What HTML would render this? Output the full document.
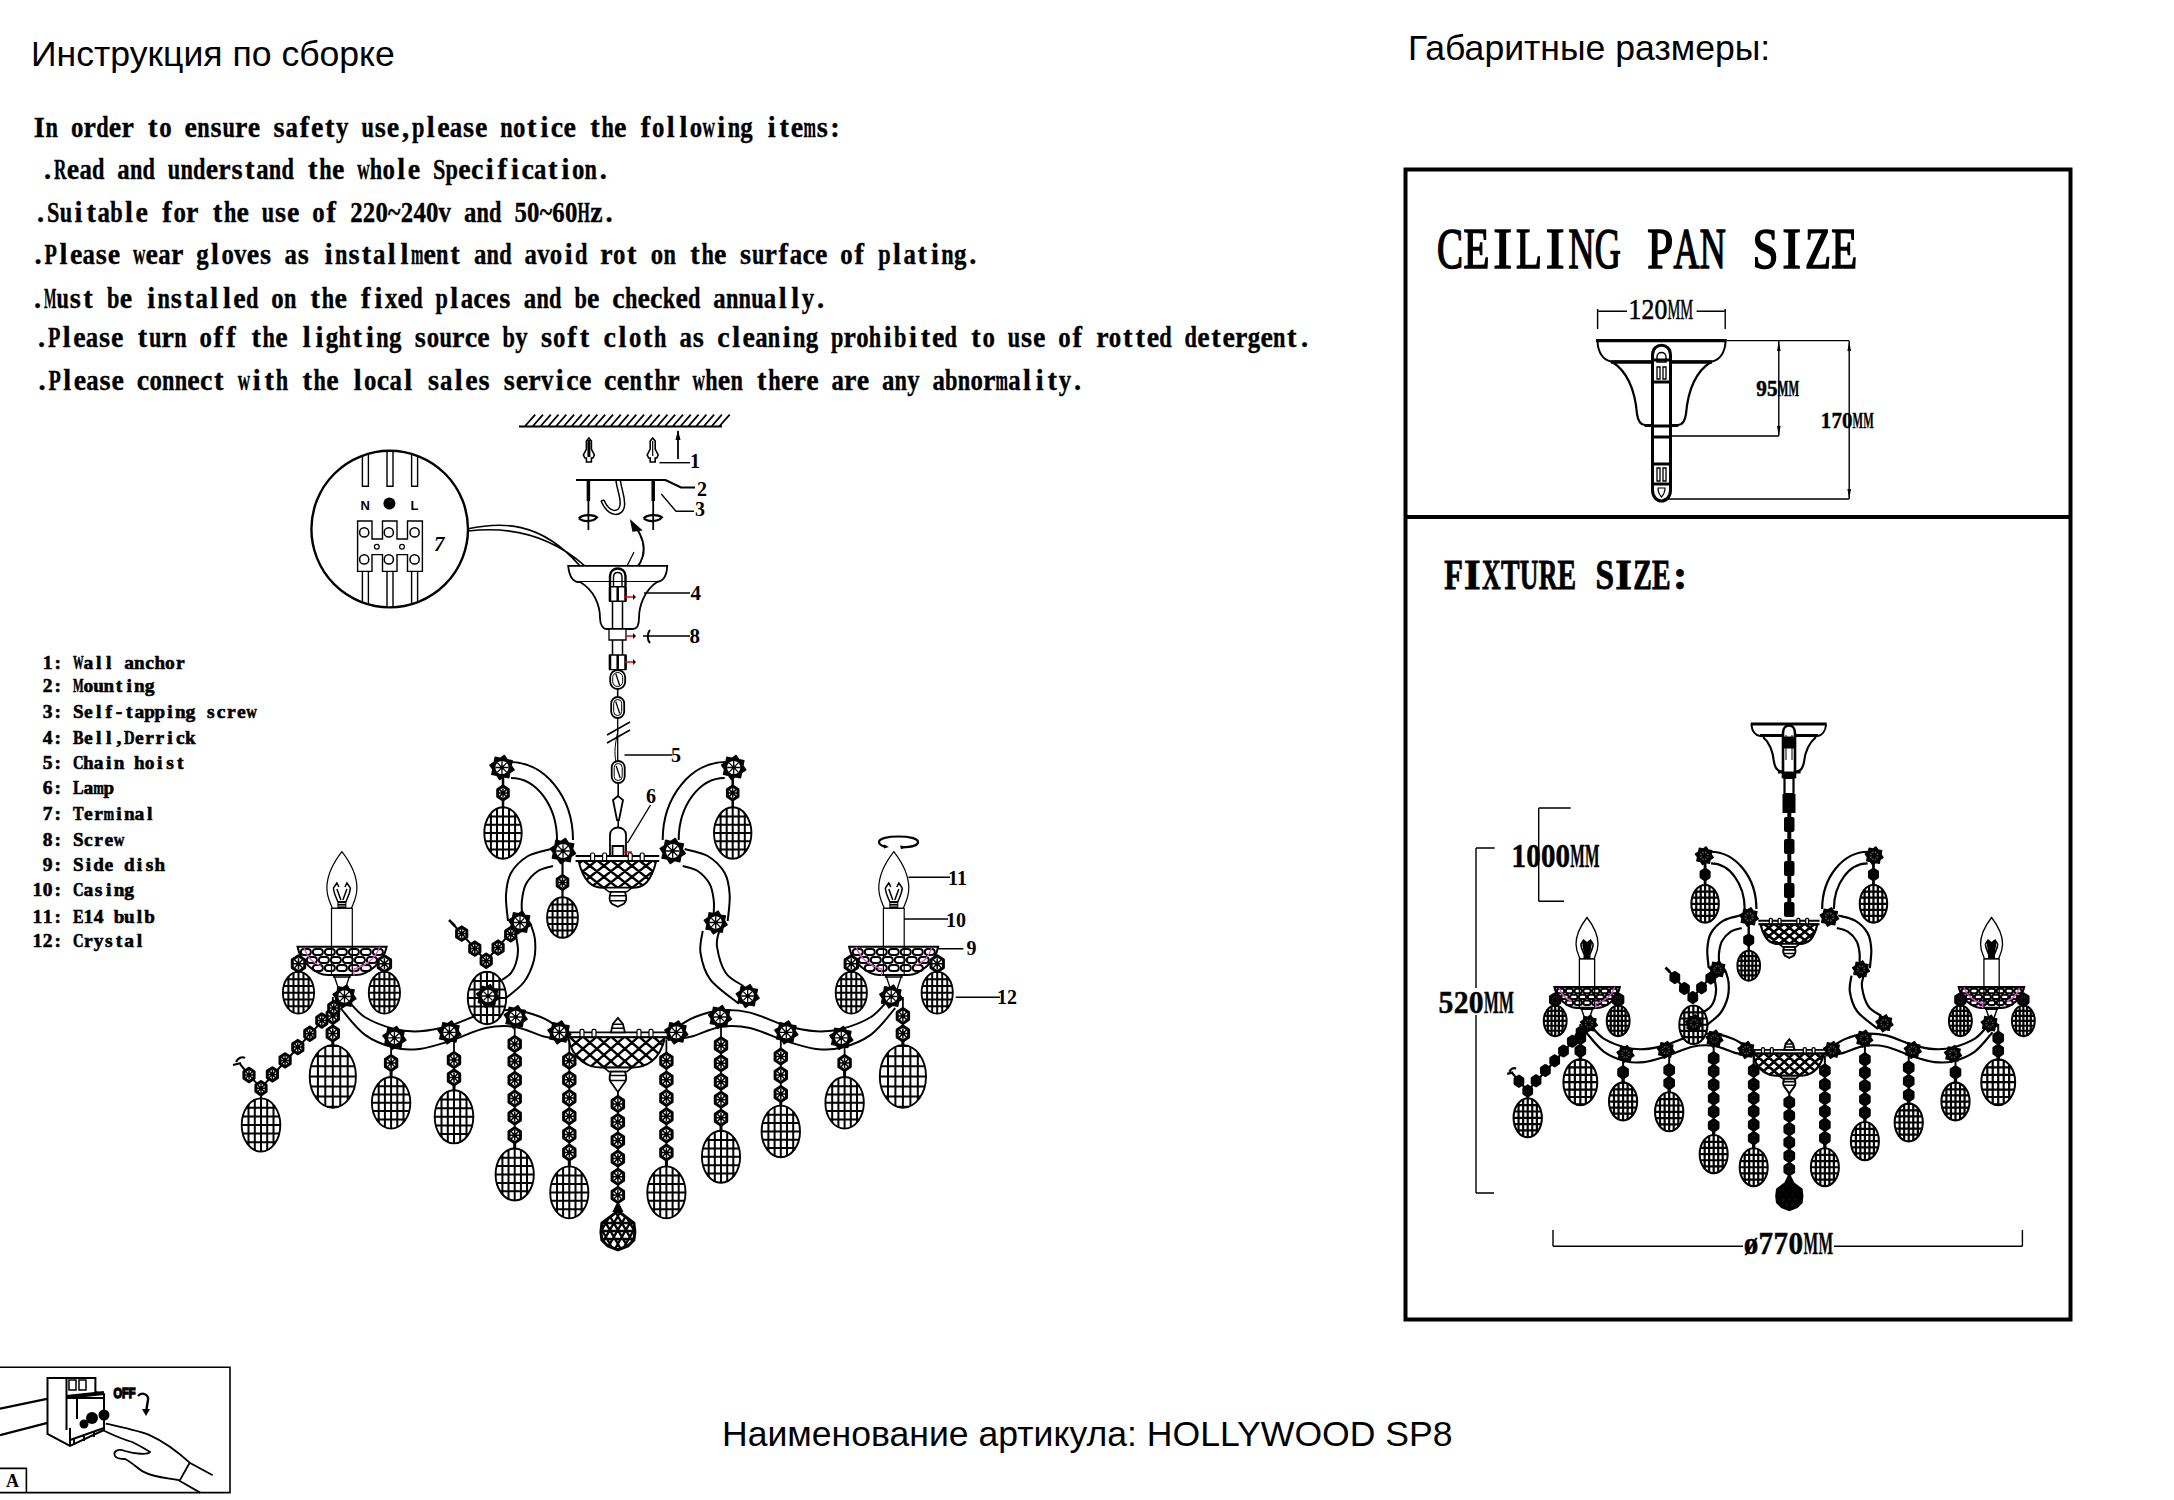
<!DOCTYPE html><html><head><meta charset="utf-8"><style>
html,body{margin:0;padding:0;background:#fff;}
body{width:2174px;height:1500px;position:relative;overflow:hidden;font-family:"Liberation Sans",sans-serif;color:#000;}
.t{position:absolute;white-space:pre;line-height:1;}
.ru{font-family:"Liberation Sans",sans-serif;font-size:35.6px;}
.en{font-family:"Liberation Mono",monospace;font-weight:bold;font-size:28.8px;transform-origin:0 0;transform:scaleX(0.7309);}
svg{position:absolute;left:0;top:0;}
</style></head><body>
<div class="t ru" style="left:31px;top:37.3px;">Инструкция по сборке</div>
<div class="t ru" style="left:1408px;top:30.5px;">Габаритные размеры:</div>
<div class="t ru" style="left:722px;top:1416.5px;">Наименование артикула: HOLLYWOOD SP8</div>
<svg width="2174" height="1500" viewBox="0 0 2174 1500"><g font-family="Liberation Serif" font-weight="bold" font-size="28.5" fill="#000" stroke="#000" stroke-width="0.35"><text x="33.7" y="137">I</text><text x="45.6" y="137" textLength="12.4" lengthAdjust="spacingAndGlyphs">n</text><text x="70.9" y="137" textLength="12.4" lengthAdjust="spacingAndGlyphs">o</text><text x="83.5" y="137" textLength="12.4" lengthAdjust="spacingAndGlyphs">r</text><text x="96.2" y="137" textLength="12.4" lengthAdjust="spacingAndGlyphs">d</text><text x="108.8" y="137" textLength="12.4" lengthAdjust="spacingAndGlyphs">e</text><text x="121.4" y="137" textLength="12.4" lengthAdjust="spacingAndGlyphs">r</text><text x="148.1" y="137">t</text><text x="159.3" y="137" textLength="12.4" lengthAdjust="spacingAndGlyphs">o</text><text x="184.6" y="137" textLength="12.4" lengthAdjust="spacingAndGlyphs">e</text><text x="197.2" y="137" textLength="12.4" lengthAdjust="spacingAndGlyphs">n</text><text x="210.5" y="137">s</text><text x="222.5" y="137" textLength="12.4" lengthAdjust="spacingAndGlyphs">u</text><text x="235.1" y="137" textLength="12.4" lengthAdjust="spacingAndGlyphs">r</text><text x="247.7" y="137" textLength="12.4" lengthAdjust="spacingAndGlyphs">e</text><text x="273.6" y="137">s</text><text x="285.6" y="137" textLength="12.4" lengthAdjust="spacingAndGlyphs">a</text><text x="299.7" y="137">f</text><text x="310.9" y="137" textLength="12.4" lengthAdjust="spacingAndGlyphs">e</text><text x="325" y="137">t</text><text x="336.1" y="137" textLength="12.4" lengthAdjust="spacingAndGlyphs">y</text><text x="361.4" y="137" textLength="12.4" lengthAdjust="spacingAndGlyphs">u</text><text x="374.7" y="137">s</text><text x="386.7" y="137" textLength="12.4" lengthAdjust="spacingAndGlyphs">e</text><text x="401.9" y="137">,</text><text x="411.9" y="137" textLength="12.4" lengthAdjust="spacingAndGlyphs">p</text><text x="426.8" y="137">l</text><text x="437.2" y="137" textLength="12.4" lengthAdjust="spacingAndGlyphs">e</text><text x="449.8" y="137" textLength="12.4" lengthAdjust="spacingAndGlyphs">a</text><text x="463.1" y="137">s</text><text x="475.1" y="137" textLength="12.4" lengthAdjust="spacingAndGlyphs">e</text><text x="500.3" y="137" textLength="12.4" lengthAdjust="spacingAndGlyphs">n</text><text x="513" y="137" textLength="12.4" lengthAdjust="spacingAndGlyphs">o</text><text x="527" y="137">t</text><text x="540.5" y="137">i</text><text x="550.8" y="137" textLength="12.4" lengthAdjust="spacingAndGlyphs">c</text><text x="563.5" y="137" textLength="12.4" lengthAdjust="spacingAndGlyphs">e</text><text x="590.2" y="137">t</text><text x="601.4" y="137" textLength="12.4" lengthAdjust="spacingAndGlyphs">h</text><text x="614" y="137" textLength="12.4" lengthAdjust="spacingAndGlyphs">e</text><text x="640.7" y="137">f</text><text x="651.9" y="137" textLength="12.4" lengthAdjust="spacingAndGlyphs">o</text><text x="666.8" y="137">l</text><text x="679.4" y="137">l</text><text x="689.8" y="137" textLength="12.4" lengthAdjust="spacingAndGlyphs">o</text><text x="702.4" y="137" textLength="12.4" lengthAdjust="spacingAndGlyphs">w</text><text x="717.3" y="137">i</text><text x="727.7" y="137" textLength="12.4" lengthAdjust="spacingAndGlyphs">n</text><text x="740.3" y="137" textLength="12.4" lengthAdjust="spacingAndGlyphs">g</text><text x="767.8" y="137">i</text><text x="779.6" y="137">t</text><text x="790.8" y="137" textLength="12.4" lengthAdjust="spacingAndGlyphs">e</text><text x="803.4" y="137" textLength="12.4" lengthAdjust="spacingAndGlyphs">m</text><text x="816.7" y="137">s</text><text x="830.2" y="137">:</text></g><g font-family="Liberation Serif" font-weight="bold" font-size="28.5" fill="#000" stroke="#000" stroke-width="0.35"><text x="44.1" y="179">.</text><text x="54.1" y="179" textLength="12.4" lengthAdjust="spacingAndGlyphs">R</text><text x="66.7" y="179" textLength="12.4" lengthAdjust="spacingAndGlyphs">e</text><text x="79.4" y="179" textLength="12.4" lengthAdjust="spacingAndGlyphs">a</text><text x="92" y="179" textLength="12.4" lengthAdjust="spacingAndGlyphs">d</text><text x="117.2" y="179" textLength="12.4" lengthAdjust="spacingAndGlyphs">a</text><text x="129.9" y="179" textLength="12.4" lengthAdjust="spacingAndGlyphs">n</text><text x="142.5" y="179" textLength="12.4" lengthAdjust="spacingAndGlyphs">d</text><text x="167.8" y="179" textLength="12.4" lengthAdjust="spacingAndGlyphs">u</text><text x="180.4" y="179" textLength="12.4" lengthAdjust="spacingAndGlyphs">n</text><text x="193" y="179" textLength="12.4" lengthAdjust="spacingAndGlyphs">d</text><text x="205.7" y="179" textLength="12.4" lengthAdjust="spacingAndGlyphs">e</text><text x="218.3" y="179" textLength="12.4" lengthAdjust="spacingAndGlyphs">r</text><text x="231.6" y="179">s</text><text x="245" y="179">t</text><text x="256.2" y="179" textLength="12.4" lengthAdjust="spacingAndGlyphs">a</text><text x="268.8" y="179" textLength="12.4" lengthAdjust="spacingAndGlyphs">n</text><text x="281.4" y="179" textLength="12.4" lengthAdjust="spacingAndGlyphs">d</text><text x="308.1" y="179">t</text><text x="319.3" y="179" textLength="12.4" lengthAdjust="spacingAndGlyphs">h</text><text x="332" y="179" textLength="12.4" lengthAdjust="spacingAndGlyphs">e</text><text x="357.2" y="179" textLength="12.4" lengthAdjust="spacingAndGlyphs">w</text><text x="369.8" y="179" textLength="12.4" lengthAdjust="spacingAndGlyphs">h</text><text x="382.5" y="179" textLength="12.4" lengthAdjust="spacingAndGlyphs">o</text><text x="397.3" y="179">l</text><text x="407.7" y="179" textLength="12.4" lengthAdjust="spacingAndGlyphs">e</text><text x="433" y="179" textLength="12.4" lengthAdjust="spacingAndGlyphs">S</text><text x="445.6" y="179" textLength="12.4" lengthAdjust="spacingAndGlyphs">p</text><text x="458.3" y="179" textLength="12.4" lengthAdjust="spacingAndGlyphs">e</text><text x="470.9" y="179" textLength="12.4" lengthAdjust="spacingAndGlyphs">c</text><text x="485.8" y="179">i</text><text x="497.6" y="179">f</text><text x="511" y="179">i</text><text x="521.4" y="179" textLength="12.4" lengthAdjust="spacingAndGlyphs">c</text><text x="534" y="179" textLength="12.4" lengthAdjust="spacingAndGlyphs">a</text><text x="548.1" y="179">t</text><text x="561.5" y="179">i</text><text x="571.9" y="179" textLength="12.4" lengthAdjust="spacingAndGlyphs">o</text><text x="584.6" y="179" textLength="12.4" lengthAdjust="spacingAndGlyphs">n</text><text x="599.8" y="179">.</text></g><g font-family="Liberation Serif" font-weight="bold" font-size="28.5" fill="#000" stroke="#000" stroke-width="0.35"><text x="37.1" y="221.6">.</text><text x="47.1" y="221.6" textLength="12.4" lengthAdjust="spacingAndGlyphs">S</text><text x="59.7" y="221.6" textLength="12.4" lengthAdjust="spacingAndGlyphs">u</text><text x="74.6" y="221.6">i</text><text x="86.4" y="221.6">t</text><text x="97.6" y="221.6" textLength="12.4" lengthAdjust="spacingAndGlyphs">a</text><text x="110.2" y="221.6" textLength="12.4" lengthAdjust="spacingAndGlyphs">b</text><text x="125.1" y="221.6">l</text><text x="135.5" y="221.6" textLength="12.4" lengthAdjust="spacingAndGlyphs">e</text><text x="162.2" y="221.6">f</text><text x="173.4" y="221.6" textLength="12.4" lengthAdjust="spacingAndGlyphs">o</text><text x="186" y="221.6" textLength="12.4" lengthAdjust="spacingAndGlyphs">r</text><text x="212.7" y="221.6">t</text><text x="223.9" y="221.6" textLength="12.4" lengthAdjust="spacingAndGlyphs">h</text><text x="236.5" y="221.6" textLength="12.4" lengthAdjust="spacingAndGlyphs">e</text><text x="261.8" y="221.6" textLength="12.4" lengthAdjust="spacingAndGlyphs">u</text><text x="275.1" y="221.6">s</text><text x="287.1" y="221.6" textLength="12.4" lengthAdjust="spacingAndGlyphs">e</text><text x="312.3" y="221.6" textLength="12.4" lengthAdjust="spacingAndGlyphs">o</text><text x="326.4" y="221.6">f</text><text x="350.2" y="221.6" textLength="12.4" lengthAdjust="spacingAndGlyphs">2</text><text x="362.8" y="221.6" textLength="12.4" lengthAdjust="spacingAndGlyphs">2</text><text x="375.5" y="221.6" textLength="12.4" lengthAdjust="spacingAndGlyphs">0</text><text x="388.1" y="221.6" textLength="12.4" lengthAdjust="spacingAndGlyphs">~</text><text x="400.7" y="221.6" textLength="12.4" lengthAdjust="spacingAndGlyphs">2</text><text x="413.4" y="221.6" textLength="12.4" lengthAdjust="spacingAndGlyphs">4</text><text x="426" y="221.6" textLength="12.4" lengthAdjust="spacingAndGlyphs">0</text><text x="438.6" y="221.6" textLength="12.4" lengthAdjust="spacingAndGlyphs">v</text><text x="463.9" y="221.6" textLength="12.4" lengthAdjust="spacingAndGlyphs">a</text><text x="476.5" y="221.6" textLength="12.4" lengthAdjust="spacingAndGlyphs">n</text><text x="489.1" y="221.6" textLength="12.4" lengthAdjust="spacingAndGlyphs">d</text><text x="514.4" y="221.6" textLength="12.4" lengthAdjust="spacingAndGlyphs">5</text><text x="527" y="221.6" textLength="12.4" lengthAdjust="spacingAndGlyphs">0</text><text x="539.7" y="221.6" textLength="12.4" lengthAdjust="spacingAndGlyphs">~</text><text x="552.3" y="221.6" textLength="12.4" lengthAdjust="spacingAndGlyphs">6</text><text x="564.9" y="221.6" textLength="12.4" lengthAdjust="spacingAndGlyphs">0</text><text x="577.6" y="221.6" textLength="12.4" lengthAdjust="spacingAndGlyphs">H</text><text x="590.2" y="221.6" textLength="12.4" lengthAdjust="spacingAndGlyphs">z</text><text x="605.5" y="221.6">.</text></g><g font-family="Liberation Serif" font-weight="bold" font-size="28.5" fill="#000" stroke="#000" stroke-width="0.35"><text x="34.6" y="264.2">.</text><text x="44.6" y="264.2" textLength="12.4" lengthAdjust="spacingAndGlyphs">P</text><text x="59.5" y="264.2">l</text><text x="69.9" y="264.2" textLength="12.4" lengthAdjust="spacingAndGlyphs">e</text><text x="82.5" y="264.2" textLength="12.4" lengthAdjust="spacingAndGlyphs">a</text><text x="95.8" y="264.2">s</text><text x="107.7" y="264.2" textLength="12.4" lengthAdjust="spacingAndGlyphs">e</text><text x="133" y="264.2" textLength="12.4" lengthAdjust="spacingAndGlyphs">w</text><text x="145.6" y="264.2" textLength="12.4" lengthAdjust="spacingAndGlyphs">e</text><text x="158.3" y="264.2" textLength="12.4" lengthAdjust="spacingAndGlyphs">a</text><text x="170.9" y="264.2" textLength="12.4" lengthAdjust="spacingAndGlyphs">r</text><text x="196.2" y="264.2" textLength="12.4" lengthAdjust="spacingAndGlyphs">g</text><text x="211" y="264.2">l</text><text x="221.4" y="264.2" textLength="12.4" lengthAdjust="spacingAndGlyphs">o</text><text x="234" y="264.2" textLength="12.4" lengthAdjust="spacingAndGlyphs">v</text><text x="246.7" y="264.2" textLength="12.4" lengthAdjust="spacingAndGlyphs">e</text><text x="260" y="264.2">s</text><text x="284.6" y="264.2" textLength="12.4" lengthAdjust="spacingAndGlyphs">a</text><text x="297.8" y="264.2">s</text><text x="324.7" y="264.2">i</text><text x="335.1" y="264.2" textLength="12.4" lengthAdjust="spacingAndGlyphs">n</text><text x="348.4" y="264.2">s</text><text x="361.8" y="264.2">t</text><text x="373" y="264.2" textLength="12.4" lengthAdjust="spacingAndGlyphs">a</text><text x="387.8" y="264.2">l</text><text x="400.5" y="264.2">l</text><text x="410.9" y="264.2" textLength="12.4" lengthAdjust="spacingAndGlyphs">m</text><text x="423.5" y="264.2" textLength="12.4" lengthAdjust="spacingAndGlyphs">e</text><text x="436.1" y="264.2" textLength="12.4" lengthAdjust="spacingAndGlyphs">n</text><text x="450.2" y="264.2">t</text><text x="474" y="264.2" textLength="12.4" lengthAdjust="spacingAndGlyphs">a</text><text x="486.6" y="264.2" textLength="12.4" lengthAdjust="spacingAndGlyphs">n</text><text x="499.3" y="264.2" textLength="12.4" lengthAdjust="spacingAndGlyphs">d</text><text x="524.5" y="264.2" textLength="12.4" lengthAdjust="spacingAndGlyphs">a</text><text x="537.2" y="264.2" textLength="12.4" lengthAdjust="spacingAndGlyphs">v</text><text x="549.8" y="264.2" textLength="12.4" lengthAdjust="spacingAndGlyphs">o</text><text x="564.7" y="264.2">i</text><text x="575.1" y="264.2" textLength="12.4" lengthAdjust="spacingAndGlyphs">d</text><text x="600.3" y="264.2" textLength="12.4" lengthAdjust="spacingAndGlyphs">r</text><text x="612.9" y="264.2" textLength="12.4" lengthAdjust="spacingAndGlyphs">o</text><text x="627" y="264.2">t</text><text x="650.8" y="264.2" textLength="12.4" lengthAdjust="spacingAndGlyphs">o</text><text x="663.5" y="264.2" textLength="12.4" lengthAdjust="spacingAndGlyphs">n</text><text x="690.2" y="264.2">t</text><text x="701.4" y="264.2" textLength="12.4" lengthAdjust="spacingAndGlyphs">h</text><text x="714" y="264.2" textLength="12.4" lengthAdjust="spacingAndGlyphs">e</text><text x="739.9" y="264.2">s</text><text x="751.9" y="264.2" textLength="12.4" lengthAdjust="spacingAndGlyphs">u</text><text x="764.5" y="264.2" textLength="12.4" lengthAdjust="spacingAndGlyphs">r</text><text x="778.6" y="264.2">f</text><text x="789.8" y="264.2" textLength="12.4" lengthAdjust="spacingAndGlyphs">a</text><text x="802.4" y="264.2" textLength="12.4" lengthAdjust="spacingAndGlyphs">c</text><text x="815" y="264.2" textLength="12.4" lengthAdjust="spacingAndGlyphs">e</text><text x="840.3" y="264.2" textLength="12.4" lengthAdjust="spacingAndGlyphs">o</text><text x="854.4" y="264.2">f</text><text x="878.2" y="264.2" textLength="12.4" lengthAdjust="spacingAndGlyphs">p</text><text x="893" y="264.2">l</text><text x="903.4" y="264.2" textLength="12.4" lengthAdjust="spacingAndGlyphs">a</text><text x="917.5" y="264.2">t</text><text x="930.9" y="264.2">i</text><text x="941.3" y="264.2" textLength="12.4" lengthAdjust="spacingAndGlyphs">n</text><text x="954" y="264.2" textLength="12.4" lengthAdjust="spacingAndGlyphs">g</text><text x="969.2" y="264.2">.</text></g><g font-family="Liberation Serif" font-weight="bold" font-size="28.5" fill="#000" stroke="#000" stroke-width="0.35"><text x="33.9" y="308">.</text><text x="43.9" y="308" textLength="12.4" lengthAdjust="spacingAndGlyphs">M</text><text x="56.5" y="308" textLength="12.4" lengthAdjust="spacingAndGlyphs">u</text><text x="69.8" y="308">s</text><text x="83.2" y="308">t</text><text x="107" y="308" textLength="12.4" lengthAdjust="spacingAndGlyphs">b</text><text x="119.7" y="308" textLength="12.4" lengthAdjust="spacingAndGlyphs">e</text><text x="147.2" y="308">i</text><text x="157.6" y="308" textLength="12.4" lengthAdjust="spacingAndGlyphs">n</text><text x="170.8" y="308">s</text><text x="184.3" y="308">t</text><text x="195.5" y="308" textLength="12.4" lengthAdjust="spacingAndGlyphs">a</text><text x="210.3" y="308">l</text><text x="223" y="308">l</text><text x="233.3" y="308" textLength="12.4" lengthAdjust="spacingAndGlyphs">e</text><text x="246" y="308" textLength="12.4" lengthAdjust="spacingAndGlyphs">d</text><text x="271.2" y="308" textLength="12.4" lengthAdjust="spacingAndGlyphs">o</text><text x="283.9" y="308" textLength="12.4" lengthAdjust="spacingAndGlyphs">n</text><text x="310.6" y="308">t</text><text x="321.8" y="308" textLength="12.4" lengthAdjust="spacingAndGlyphs">h</text><text x="334.4" y="308" textLength="12.4" lengthAdjust="spacingAndGlyphs">e</text><text x="361.1" y="308">f</text><text x="374.5" y="308">i</text><text x="384.9" y="308" textLength="12.4" lengthAdjust="spacingAndGlyphs">x</text><text x="397.5" y="308" textLength="12.4" lengthAdjust="spacingAndGlyphs">e</text><text x="410.2" y="308" textLength="12.4" lengthAdjust="spacingAndGlyphs">d</text><text x="435.4" y="308" textLength="12.4" lengthAdjust="spacingAndGlyphs">p</text><text x="450.3" y="308">l</text><text x="460.7" y="308" textLength="12.4" lengthAdjust="spacingAndGlyphs">a</text><text x="473.3" y="308" textLength="12.4" lengthAdjust="spacingAndGlyphs">c</text><text x="485.9" y="308" textLength="12.4" lengthAdjust="spacingAndGlyphs">e</text><text x="499.2" y="308">s</text><text x="523.8" y="308" textLength="12.4" lengthAdjust="spacingAndGlyphs">a</text><text x="536.5" y="308" textLength="12.4" lengthAdjust="spacingAndGlyphs">n</text><text x="549.1" y="308" textLength="12.4" lengthAdjust="spacingAndGlyphs">d</text><text x="574.4" y="308" textLength="12.4" lengthAdjust="spacingAndGlyphs">b</text><text x="587" y="308" textLength="12.4" lengthAdjust="spacingAndGlyphs">e</text><text x="612.2" y="308" textLength="12.4" lengthAdjust="spacingAndGlyphs">c</text><text x="624.9" y="308" textLength="12.4" lengthAdjust="spacingAndGlyphs">h</text><text x="637.5" y="308" textLength="12.4" lengthAdjust="spacingAndGlyphs">e</text><text x="650.1" y="308" textLength="12.4" lengthAdjust="spacingAndGlyphs">c</text><text x="662.8" y="308" textLength="12.4" lengthAdjust="spacingAndGlyphs">k</text><text x="675.4" y="308" textLength="12.4" lengthAdjust="spacingAndGlyphs">e</text><text x="688" y="308" textLength="12.4" lengthAdjust="spacingAndGlyphs">d</text><text x="713.3" y="308" textLength="12.4" lengthAdjust="spacingAndGlyphs">a</text><text x="725.9" y="308" textLength="12.4" lengthAdjust="spacingAndGlyphs">n</text><text x="738.5" y="308" textLength="12.4" lengthAdjust="spacingAndGlyphs">n</text><text x="751.2" y="308" textLength="12.4" lengthAdjust="spacingAndGlyphs">u</text><text x="763.8" y="308" textLength="12.4" lengthAdjust="spacingAndGlyphs">a</text><text x="778.7" y="308">l</text><text x="791.3" y="308">l</text><text x="801.7" y="308" textLength="12.4" lengthAdjust="spacingAndGlyphs">y</text><text x="817" y="308">.</text></g><g font-family="Liberation Serif" font-weight="bold" font-size="28.5" fill="#000" stroke="#000" stroke-width="0.35"><text x="37.9" y="347">.</text><text x="47.9" y="347" textLength="12.4" lengthAdjust="spacingAndGlyphs">P</text><text x="62.8" y="347">l</text><text x="73.2" y="347" textLength="12.4" lengthAdjust="spacingAndGlyphs">e</text><text x="85.8" y="347" textLength="12.4" lengthAdjust="spacingAndGlyphs">a</text><text x="99.1" y="347">s</text><text x="111" y="347" textLength="12.4" lengthAdjust="spacingAndGlyphs">e</text><text x="137.8" y="347">t</text><text x="148.9" y="347" textLength="12.4" lengthAdjust="spacingAndGlyphs">u</text><text x="161.6" y="347" textLength="12.4" lengthAdjust="spacingAndGlyphs">r</text><text x="174.2" y="347" textLength="12.4" lengthAdjust="spacingAndGlyphs">n</text><text x="199.5" y="347" textLength="12.4" lengthAdjust="spacingAndGlyphs">o</text><text x="213.5" y="347">f</text><text x="226.2" y="347">f</text><text x="251.4" y="347">t</text><text x="262.6" y="347" textLength="12.4" lengthAdjust="spacingAndGlyphs">h</text><text x="275.2" y="347" textLength="12.4" lengthAdjust="spacingAndGlyphs">e</text><text x="302.7" y="347">l</text><text x="315.4" y="347">i</text><text x="325.8" y="347" textLength="12.4" lengthAdjust="spacingAndGlyphs">g</text><text x="338.4" y="347" textLength="12.4" lengthAdjust="spacingAndGlyphs">h</text><text x="352.5" y="347">t</text><text x="365.9" y="347">i</text><text x="376.3" y="347" textLength="12.4" lengthAdjust="spacingAndGlyphs">n</text><text x="388.9" y="347" textLength="12.4" lengthAdjust="spacingAndGlyphs">g</text><text x="414.8" y="347">s</text><text x="426.8" y="347" textLength="12.4" lengthAdjust="spacingAndGlyphs">o</text><text x="439.4" y="347" textLength="12.4" lengthAdjust="spacingAndGlyphs">u</text><text x="452.1" y="347" textLength="12.4" lengthAdjust="spacingAndGlyphs">r</text><text x="464.7" y="347" textLength="12.4" lengthAdjust="spacingAndGlyphs">c</text><text x="477.3" y="347" textLength="12.4" lengthAdjust="spacingAndGlyphs">e</text><text x="502.6" y="347" textLength="12.4" lengthAdjust="spacingAndGlyphs">b</text><text x="515.2" y="347" textLength="12.4" lengthAdjust="spacingAndGlyphs">y</text><text x="541.1" y="347">s</text><text x="553.1" y="347" textLength="12.4" lengthAdjust="spacingAndGlyphs">o</text><text x="567.2" y="347">f</text><text x="579.8" y="347">t</text><text x="603.6" y="347" textLength="12.4" lengthAdjust="spacingAndGlyphs">c</text><text x="618.5" y="347">l</text><text x="628.9" y="347" textLength="12.4" lengthAdjust="spacingAndGlyphs">o</text><text x="643" y="347">t</text><text x="654.1" y="347" textLength="12.4" lengthAdjust="spacingAndGlyphs">h</text><text x="679.4" y="347" textLength="12.4" lengthAdjust="spacingAndGlyphs">a</text><text x="692.7" y="347">s</text><text x="717.3" y="347" textLength="12.4" lengthAdjust="spacingAndGlyphs">c</text><text x="732.2" y="347">l</text><text x="742.5" y="347" textLength="12.4" lengthAdjust="spacingAndGlyphs">e</text><text x="755.2" y="347" textLength="12.4" lengthAdjust="spacingAndGlyphs">a</text><text x="767.8" y="347" textLength="12.4" lengthAdjust="spacingAndGlyphs">n</text><text x="782.7" y="347">i</text><text x="793.1" y="347" textLength="12.4" lengthAdjust="spacingAndGlyphs">n</text><text x="805.7" y="347" textLength="12.4" lengthAdjust="spacingAndGlyphs">g</text><text x="831" y="347" textLength="12.4" lengthAdjust="spacingAndGlyphs">p</text><text x="843.6" y="347" textLength="12.4" lengthAdjust="spacingAndGlyphs">r</text><text x="856.2" y="347" textLength="12.4" lengthAdjust="spacingAndGlyphs">o</text><text x="868.8" y="347" textLength="12.4" lengthAdjust="spacingAndGlyphs">h</text><text x="883.7" y="347">i</text><text x="894.1" y="347" textLength="12.4" lengthAdjust="spacingAndGlyphs">b</text><text x="909" y="347">i</text><text x="920.8" y="347">t</text><text x="932" y="347" textLength="12.4" lengthAdjust="spacingAndGlyphs">e</text><text x="944.6" y="347" textLength="12.4" lengthAdjust="spacingAndGlyphs">d</text><text x="971.3" y="347">t</text><text x="982.5" y="347" textLength="12.4" lengthAdjust="spacingAndGlyphs">o</text><text x="1007.8" y="347" textLength="12.4" lengthAdjust="spacingAndGlyphs">u</text><text x="1021.1" y="347">s</text><text x="1033" y="347" textLength="12.4" lengthAdjust="spacingAndGlyphs">e</text><text x="1058.3" y="347" textLength="12.4" lengthAdjust="spacingAndGlyphs">o</text><text x="1072.4" y="347">f</text><text x="1096.2" y="347" textLength="12.4" lengthAdjust="spacingAndGlyphs">r</text><text x="1108.8" y="347" textLength="12.4" lengthAdjust="spacingAndGlyphs">o</text><text x="1122.9" y="347">t</text><text x="1135.5" y="347">t</text><text x="1146.7" y="347" textLength="12.4" lengthAdjust="spacingAndGlyphs">e</text><text x="1159.3" y="347" textLength="12.4" lengthAdjust="spacingAndGlyphs">d</text><text x="1184.6" y="347" textLength="12.4" lengthAdjust="spacingAndGlyphs">d</text><text x="1197.2" y="347" textLength="12.4" lengthAdjust="spacingAndGlyphs">e</text><text x="1211.3" y="347">t</text><text x="1222.5" y="347" textLength="12.4" lengthAdjust="spacingAndGlyphs">e</text><text x="1235.1" y="347" textLength="12.4" lengthAdjust="spacingAndGlyphs">r</text><text x="1247.7" y="347" textLength="12.4" lengthAdjust="spacingAndGlyphs">g</text><text x="1260.4" y="347" textLength="12.4" lengthAdjust="spacingAndGlyphs">e</text><text x="1273" y="347" textLength="12.4" lengthAdjust="spacingAndGlyphs">n</text><text x="1287.1" y="347">t</text><text x="1300.9" y="347">.</text></g><g font-family="Liberation Serif" font-weight="bold" font-size="28.5" fill="#000" stroke="#000" stroke-width="0.35"><text x="38.4" y="390">.</text><text x="48.4" y="390" textLength="12.4" lengthAdjust="spacingAndGlyphs">P</text><text x="63.3" y="390">l</text><text x="73.7" y="390" textLength="12.4" lengthAdjust="spacingAndGlyphs">e</text><text x="86.3" y="390" textLength="12.4" lengthAdjust="spacingAndGlyphs">a</text><text x="99.6" y="390">s</text><text x="111.5" y="390" textLength="12.4" lengthAdjust="spacingAndGlyphs">e</text><text x="136.8" y="390" textLength="12.4" lengthAdjust="spacingAndGlyphs">c</text><text x="149.4" y="390" textLength="12.4" lengthAdjust="spacingAndGlyphs">o</text><text x="162.1" y="390" textLength="12.4" lengthAdjust="spacingAndGlyphs">n</text><text x="174.7" y="390" textLength="12.4" lengthAdjust="spacingAndGlyphs">n</text><text x="187.3" y="390" textLength="12.4" lengthAdjust="spacingAndGlyphs">e</text><text x="200" y="390" textLength="12.4" lengthAdjust="spacingAndGlyphs">c</text><text x="214" y="390">t</text><text x="237.8" y="390" textLength="12.4" lengthAdjust="spacingAndGlyphs">w</text><text x="252.7" y="390">i</text><text x="264.6" y="390">t</text><text x="275.7" y="390" textLength="12.4" lengthAdjust="spacingAndGlyphs">h</text><text x="302.4" y="390">t</text><text x="313.6" y="390" textLength="12.4" lengthAdjust="spacingAndGlyphs">h</text><text x="326.3" y="390" textLength="12.4" lengthAdjust="spacingAndGlyphs">e</text><text x="353.8" y="390">l</text><text x="364.1" y="390" textLength="12.4" lengthAdjust="spacingAndGlyphs">o</text><text x="376.8" y="390" textLength="12.4" lengthAdjust="spacingAndGlyphs">c</text><text x="389.4" y="390" textLength="12.4" lengthAdjust="spacingAndGlyphs">a</text><text x="404.3" y="390">l</text><text x="427.9" y="390">s</text><text x="439.9" y="390" textLength="12.4" lengthAdjust="spacingAndGlyphs">a</text><text x="454.8" y="390">l</text><text x="465.2" y="390" textLength="12.4" lengthAdjust="spacingAndGlyphs">e</text><text x="478.5" y="390">s</text><text x="503.7" y="390">s</text><text x="515.7" y="390" textLength="12.4" lengthAdjust="spacingAndGlyphs">e</text><text x="528.3" y="390" textLength="12.4" lengthAdjust="spacingAndGlyphs">r</text><text x="541" y="390" textLength="12.4" lengthAdjust="spacingAndGlyphs">v</text><text x="555.8" y="390">i</text><text x="566.2" y="390" textLength="12.4" lengthAdjust="spacingAndGlyphs">c</text><text x="578.9" y="390" textLength="12.4" lengthAdjust="spacingAndGlyphs">e</text><text x="604.1" y="390" textLength="12.4" lengthAdjust="spacingAndGlyphs">c</text><text x="616.7" y="390" textLength="12.4" lengthAdjust="spacingAndGlyphs">e</text><text x="629.4" y="390" textLength="12.4" lengthAdjust="spacingAndGlyphs">n</text><text x="643.5" y="390">t</text><text x="654.6" y="390" textLength="12.4" lengthAdjust="spacingAndGlyphs">h</text><text x="667.3" y="390" textLength="12.4" lengthAdjust="spacingAndGlyphs">r</text><text x="692.5" y="390" textLength="12.4" lengthAdjust="spacingAndGlyphs">w</text><text x="705.2" y="390" textLength="12.4" lengthAdjust="spacingAndGlyphs">h</text><text x="717.8" y="390" textLength="12.4" lengthAdjust="spacingAndGlyphs">e</text><text x="730.4" y="390" textLength="12.4" lengthAdjust="spacingAndGlyphs">n</text><text x="757.1" y="390">t</text><text x="768.3" y="390" textLength="12.4" lengthAdjust="spacingAndGlyphs">h</text><text x="780.9" y="390" textLength="12.4" lengthAdjust="spacingAndGlyphs">e</text><text x="793.6" y="390" textLength="12.4" lengthAdjust="spacingAndGlyphs">r</text><text x="806.2" y="390" textLength="12.4" lengthAdjust="spacingAndGlyphs">e</text><text x="831.5" y="390" textLength="12.4" lengthAdjust="spacingAndGlyphs">a</text><text x="844.1" y="390" textLength="12.4" lengthAdjust="spacingAndGlyphs">r</text><text x="856.7" y="390" textLength="12.4" lengthAdjust="spacingAndGlyphs">e</text><text x="882" y="390" textLength="12.4" lengthAdjust="spacingAndGlyphs">a</text><text x="894.6" y="390" textLength="12.4" lengthAdjust="spacingAndGlyphs">n</text><text x="907.2" y="390" textLength="12.4" lengthAdjust="spacingAndGlyphs">y</text><text x="932.5" y="390" textLength="12.4" lengthAdjust="spacingAndGlyphs">a</text><text x="945.1" y="390" textLength="12.4" lengthAdjust="spacingAndGlyphs">b</text><text x="957.8" y="390" textLength="12.4" lengthAdjust="spacingAndGlyphs">n</text><text x="970.4" y="390" textLength="12.4" lengthAdjust="spacingAndGlyphs">o</text><text x="983" y="390" textLength="12.4" lengthAdjust="spacingAndGlyphs">r</text><text x="995.6" y="390" textLength="12.4" lengthAdjust="spacingAndGlyphs">m</text><text x="1008.3" y="390" textLength="12.4" lengthAdjust="spacingAndGlyphs">a</text><text x="1023.1" y="390">l</text><text x="1035.8" y="390">i</text><text x="1047.6" y="390">t</text><text x="1058.8" y="390" textLength="12.4" lengthAdjust="spacingAndGlyphs">y</text><text x="1074.1" y="390">.</text></g><g font-family="Liberation Serif" font-weight="bold" font-size="19.5" fill="#000" stroke="#000" stroke-width="0.6"><text x="42.7" y="668.8">1</text><text x="54.6" y="668.8">:</text><text x="72.9" y="668.8" textLength="10.6" lengthAdjust="spacingAndGlyphs">W</text><text x="83.5" y="668.8">a</text><text x="95.9" y="668.8">l</text><text x="106.1" y="668.8">l</text><text x="124.3" y="668.8">a</text><text x="134.1" y="668.8" textLength="10.6" lengthAdjust="spacingAndGlyphs">n</text><text x="145.3" y="668.8">c</text><text x="154.5" y="668.8" textLength="10.6" lengthAdjust="spacingAndGlyphs">h</text><text x="165.1" y="668.8">o</text><text x="175.9" y="668.8">r</text></g><g font-family="Liberation Serif" font-weight="bold" font-size="19.5" fill="#000" stroke="#000" stroke-width="0.6"><text x="42.7" y="692.3">2</text><text x="54.6" y="692.3">:</text><text x="72.9" y="692.3" textLength="10.6" lengthAdjust="spacingAndGlyphs">M</text><text x="83.5" y="692.3">o</text><text x="93.3" y="692.3" textLength="10.6" lengthAdjust="spacingAndGlyphs">u</text><text x="103.5" y="692.3" textLength="10.6" lengthAdjust="spacingAndGlyphs">n</text><text x="115.8" y="692.3">t</text><text x="126.5" y="692.3">i</text><text x="134.1" y="692.3" textLength="10.6" lengthAdjust="spacingAndGlyphs">n</text><text x="144.7" y="692.3">g</text></g><g font-family="Liberation Serif" font-weight="bold" font-size="19.5" fill="#000" stroke="#000" stroke-width="0.6"><text x="42.7" y="717.9">3</text><text x="54.6" y="717.9">:</text><text x="72.9" y="717.9" textLength="10.6" lengthAdjust="spacingAndGlyphs">S</text><text x="84.1" y="717.9">e</text><text x="95.9" y="717.9">l</text><text x="105.6" y="717.9">f</text><text x="115.8" y="717.9">-</text><text x="126" y="717.9">t</text><text x="134.5" y="717.9">a</text><text x="144.3" y="717.9" textLength="10.6" lengthAdjust="spacingAndGlyphs">p</text><text x="154.5" y="717.9" textLength="10.6" lengthAdjust="spacingAndGlyphs">p</text><text x="167.3" y="717.9">i</text><text x="174.9" y="717.9" textLength="10.6" lengthAdjust="spacingAndGlyphs">n</text><text x="185.5" y="717.9">g</text><text x="207" y="717.9">s</text><text x="216.7" y="717.9">c</text><text x="226.9" y="717.9">r</text><text x="237.1" y="717.9">e</text><text x="246.3" y="717.9" textLength="10.6" lengthAdjust="spacingAndGlyphs">w</text></g><g font-family="Liberation Serif" font-weight="bold" font-size="19.5" fill="#000" stroke="#000" stroke-width="0.6"><text x="42.7" y="743.5">4</text><text x="54.6" y="743.5">:</text><text x="72.9" y="743.5" textLength="10.6" lengthAdjust="spacingAndGlyphs">B</text><text x="84.1" y="743.5">e</text><text x="95.9" y="743.5">l</text><text x="106.1" y="743.5">l</text><text x="116.6" y="743.5">,</text><text x="123.9" y="743.5" textLength="10.6" lengthAdjust="spacingAndGlyphs">D</text><text x="135.1" y="743.5">e</text><text x="145.3" y="743.5">r</text><text x="155.5" y="743.5">r</text><text x="167.3" y="743.5">i</text><text x="175.9" y="743.5">c</text><text x="185.1" y="743.5" textLength="10.6" lengthAdjust="spacingAndGlyphs">k</text></g><g font-family="Liberation Serif" font-weight="bold" font-size="19.5" fill="#000" stroke="#000" stroke-width="0.6"><text x="42.7" y="769">5</text><text x="54.6" y="769">:</text><text x="72.9" y="769" textLength="10.6" lengthAdjust="spacingAndGlyphs">C</text><text x="83.1" y="769" textLength="10.6" lengthAdjust="spacingAndGlyphs">h</text><text x="93.7" y="769">a</text><text x="106.1" y="769">i</text><text x="113.7" y="769" textLength="10.6" lengthAdjust="spacingAndGlyphs">n</text><text x="134.1" y="769" textLength="10.6" lengthAdjust="spacingAndGlyphs">h</text><text x="144.7" y="769">o</text><text x="157.1" y="769">i</text><text x="166.2" y="769">s</text><text x="177" y="769">t</text></g><g font-family="Liberation Serif" font-weight="bold" font-size="19.5" fill="#000" stroke="#000" stroke-width="0.6"><text x="42.7" y="793.6">6</text><text x="54.6" y="793.6">:</text><text x="72.9" y="793.6" textLength="10.6" lengthAdjust="spacingAndGlyphs">L</text><text x="83.5" y="793.6">a</text><text x="93.3" y="793.6" textLength="10.6" lengthAdjust="spacingAndGlyphs">m</text><text x="103.5" y="793.6" textLength="10.6" lengthAdjust="spacingAndGlyphs">p</text></g><g font-family="Liberation Serif" font-weight="bold" font-size="19.5" fill="#000" stroke="#000" stroke-width="0.6"><text x="42.7" y="820">7</text><text x="54.6" y="820">:</text><text x="72.9" y="820" textLength="10.6" lengthAdjust="spacingAndGlyphs">T</text><text x="84.1" y="820">e</text><text x="94.3" y="820">r</text><text x="103.5" y="820" textLength="10.6" lengthAdjust="spacingAndGlyphs">m</text><text x="116.3" y="820">i</text><text x="123.9" y="820" textLength="10.6" lengthAdjust="spacingAndGlyphs">n</text><text x="134.5" y="820">a</text><text x="146.9" y="820">l</text></g><g font-family="Liberation Serif" font-weight="bold" font-size="19.5" fill="#000" stroke="#000" stroke-width="0.6"><text x="42.7" y="845.8">8</text><text x="54.6" y="845.8">:</text><text x="72.9" y="845.8" textLength="10.6" lengthAdjust="spacingAndGlyphs">S</text><text x="84.1" y="845.8">c</text><text x="94.3" y="845.8">r</text><text x="104.5" y="845.8">e</text><text x="113.7" y="845.8" textLength="10.6" lengthAdjust="spacingAndGlyphs">w</text></g><g font-family="Liberation Serif" font-weight="bold" font-size="19.5" fill="#000" stroke="#000" stroke-width="0.6"><text x="42.7" y="871.4">9</text><text x="54.6" y="871.4">:</text><text x="72.9" y="871.4" textLength="10.6" lengthAdjust="spacingAndGlyphs">S</text><text x="85.7" y="871.4">i</text><text x="93.3" y="871.4" textLength="10.6" lengthAdjust="spacingAndGlyphs">d</text><text x="104.5" y="871.4">e</text><text x="123.9" y="871.4" textLength="10.6" lengthAdjust="spacingAndGlyphs">d</text><text x="136.7" y="871.4">i</text><text x="145.8" y="871.4">s</text><text x="154.5" y="871.4" textLength="10.6" lengthAdjust="spacingAndGlyphs">h</text></g><g font-family="Liberation Serif" font-weight="bold" font-size="19.5" fill="#000" stroke="#000" stroke-width="0.6"><text x="32.5" y="896">1</text><text x="42.7" y="896">0</text><text x="54.6" y="896">:</text><text x="72.9" y="896" textLength="10.6" lengthAdjust="spacingAndGlyphs">C</text><text x="83.5" y="896">a</text><text x="94.8" y="896">s</text><text x="106.1" y="896">i</text><text x="113.7" y="896" textLength="10.6" lengthAdjust="spacingAndGlyphs">n</text><text x="124.3" y="896">g</text></g><g font-family="Liberation Serif" font-weight="bold" font-size="19.5" fill="#000" stroke="#000" stroke-width="0.6"><text x="32.5" y="922.6">1</text><text x="42.7" y="922.6">1</text><text x="54.6" y="922.6">:</text><text x="72.9" y="922.6" textLength="10.6" lengthAdjust="spacingAndGlyphs">E</text><text x="83.5" y="922.6">1</text><text x="93.7" y="922.6">4</text><text x="113.7" y="922.6" textLength="10.6" lengthAdjust="spacingAndGlyphs">b</text><text x="123.9" y="922.6" textLength="10.6" lengthAdjust="spacingAndGlyphs">u</text><text x="136.7" y="922.6">l</text><text x="144.3" y="922.6" textLength="10.6" lengthAdjust="spacingAndGlyphs">b</text></g><g font-family="Liberation Serif" font-weight="bold" font-size="19.5" fill="#000" stroke="#000" stroke-width="0.6"><text x="32.5" y="947">1</text><text x="42.7" y="947">2</text><text x="54.6" y="947">:</text><text x="72.9" y="947" textLength="10.6" lengthAdjust="spacingAndGlyphs">C</text><text x="84.1" y="947">r</text><text x="93.7" y="947">y</text><text x="105" y="947">s</text><text x="115.8" y="947">t</text><text x="124.3" y="947">a</text><text x="136.7" y="947">l</text></g><rect x="1405.5" y="169.5" width="665" height="1150" fill="none" stroke="#000" stroke-width="4"/><line x1="1405" y1="517" x2="2071" y2="517" stroke="#000" stroke-width="4"/><path d="M519 426.5H722M524.7 426.5L535.2 414.6M532.5 426.5L543 414.6M540.3 426.5L550.8 414.6M548 426.5L558.5 414.6M555.8 426.5L566.3 414.6M563.6 426.5L574.1 414.6M571.4 426.5L581.9 414.6M579.2 426.5L589.7 414.6M586.9 426.5L597.4 414.6M594.7 426.5L605.2 414.6M602.5 426.5L613 414.6M610.3 426.5L620.8 414.6M618.1 426.5L628.6 414.6M625.8 426.5L636.3 414.6M633.6 426.5L644.1 414.6M641.4 426.5L651.9 414.6M649.2 426.5L659.7 414.6M657 426.5L667.5 414.6M664.7 426.5L675.2 414.6M672.5 426.5L683 414.6M680.3 426.5L690.8 414.6M688.1 426.5L698.6 414.6M695.9 426.5L706.4 414.6M703.6 426.5L714.1 414.6M711.4 426.5L721.9 414.6M719.2 426.5L729.7 414.6" stroke="#000" stroke-width="1.8" fill="none"/><path d="M588.9 438L591.4 441V449L594.4 455L592.9 458H591.4 V462H586.4 V458H584.9 L583.4 455L586.4 449V441Z" fill="#fff" stroke="#000" stroke-width="1.6"/><path d="M652.7 438L655.2 441V449L658.2 455L656.7 458H655.2 V462H650.2 V458H648.7 L647.2 455L650.2 449V441Z" fill="#fff" stroke="#000" stroke-width="1.6"/><path d="M588.9 440V457" stroke="#000" stroke-width="3"/><path d="M652.7 441V456" stroke="#000" stroke-width="1.2"/><path d="M678 431V459" stroke="#000" stroke-width="1.8"/><path d="M675.5 440L678 430L680.5 440Z"/><path d="M659.5 462.7H690" stroke="#000" stroke-width="1.4"/><path d="M576 480H665.5L681 487.5H695" fill="none" stroke="#000" stroke-width="2.2"/><path d="M588.4 481V501" stroke="#000" stroke-width="3.5"/><path d="M588.4 501V530" stroke="#000" stroke-width="1.8"/><path d="M578.9 518.3C582.4 514 594.4 514 597.9 518M578.9 518.3C582.4 522 592.4 522 596.4 518" fill="none" stroke="#000" stroke-width="2.2"/><path d="M653.2 481V501" stroke="#000" stroke-width="3.5"/><path d="M653.2 501V530" stroke="#000" stroke-width="1.8"/><path d="M643.7 518.3C647.2 514 659.2 514 662.7 518M643.7 518.3C647.2 522 657.2 522 661.2 518" fill="none" stroke="#000" stroke-width="2.2"/><path d="M616 481C617 490 621 497 620 505C619 512 610 514 604 500M620.5 481C621.5 490 625.5 497 624.5 506C623 517 609 519 601 501" fill="none" stroke="#000" stroke-width="1.5"/><path d="M601 501L604 500" stroke="#000" stroke-width="1.5"/><path d="M661.3 494L676 511.3H694" fill="none" stroke="#000" stroke-width="1.4"/><text x="690" y="468" font-size="20" font-family="Liberation Serif" font-weight="bold">1</text><text x="697" y="496" font-size="20" font-family="Liberation Serif" font-weight="bold">2</text><text x="695" y="516" font-size="20" font-family="Liberation Serif" font-weight="bold">3</text><circle cx="389.7" cy="529.1" r="78.3" fill="#fff" stroke="#000" stroke-width="2.4"/><path d="M362.4 455.7V486.2H368.4 V453.8" fill="none" stroke="#000" stroke-width="1.4"/><path d="M362.4 571.4V602.5M368.4 571.4V604.4" stroke="#000" stroke-width="1.4"/><path d="M387 450.8V486.2H393 V450.9" fill="none" stroke="#000" stroke-width="1.4"/><path d="M387 571.4V607.4M393 571.4V607.3" stroke="#000" stroke-width="1.4"/><path d="M411.6 453.9V486.2H417.6 V455.9" fill="none" stroke="#000" stroke-width="1.4"/><path d="M411.6 571.4V604.3M417.6 571.4V602.3" stroke="#000" stroke-width="1.4"/><path d="M357.6 521H372V539H382.5V521H397V539H407.5V521H422.4V571.4H407.5V554.6H397V571.4H382.5V554.6H372V571.4H357.6Z" fill="#fff" stroke="#000" stroke-width="1.4"/><circle cx="364.2" cy="532.4" r="4.6" fill="none" stroke="#000" stroke-width="1.5"/><circle cx="364.2" cy="559.4" r="4.6" fill="none" stroke="#000" stroke-width="1.5"/><circle cx="388.8" cy="532.4" r="4.6" fill="none" stroke="#000" stroke-width="1.5"/><circle cx="388.8" cy="559.4" r="4.6" fill="none" stroke="#000" stroke-width="1.5"/><circle cx="414.6" cy="532.4" r="4.6" fill="none" stroke="#000" stroke-width="1.5"/><circle cx="414.6" cy="559.4" r="4.6" fill="none" stroke="#000" stroke-width="1.5"/><circle cx="376.8" cy="546.8" r="2.4" fill="none" stroke="#000" stroke-width="1.2"/><circle cx="402" cy="546.8" r="2.4" fill="none" stroke="#000" stroke-width="1.2"/><text x="360.5" y="510" font-size="13" font-family="Liberation Sans" font-weight="bold">N</text><circle cx="389.4" cy="503.6" r="6"/><text x="410.5" y="510" font-size="13" font-family="Liberation Sans" font-weight="bold">L</text><text x="434" y="551" font-size="21" font-family="Liberation Serif" font-weight="bold" font-style="italic">7</text><path d="M468 528.8C500 522 540 520 580 566M468 531C510 526 550 535 585 566" fill="none" stroke="#000" stroke-width="1.6"/><path d="M625.5 575C643 568 651 548 635 526" fill="none" stroke="#000" stroke-width="2"/><path d="M631 521L641 530L633 531Z" stroke="#000" stroke-width="1.5"/><path d="M634 552L627 566" stroke="#000" stroke-width="1.3"/><path d="M568.2 565.8H667.2C667 574 664 581 657 582H578C572 581 569 574 568.2 565.8Z" fill="#fff" stroke="#000" stroke-width="1.8"/><path d="M580 582C594 590 600 605 600 618C600 626 604 629 606 629H633C636 629 639 626 639 618C639 605 645 590 657 582" fill="#fff" stroke="#000" stroke-width="1.8"/><path d="M610 586V576C610 566 625.5 566 625.5 576V586" fill="none" stroke="#000" stroke-width="2.4"/><path d="M613.5 586V577C613.5 571 622 571 622 577V586" fill="none" stroke="#000" stroke-width="1.4"/><path d="M612.5 601V655M622.5 601V655" stroke="#000" stroke-width="1.5"/><path d="M609.6 586.8H625.8V601.2H609.6Z" fill="#fff" stroke="#000" stroke-width="1.4"/><path d="M610 587V601M625.5 587V601M617.7 587V601" stroke="#000" stroke-width="2.5"/><path d="M609 629H626V640H609Z" fill="#fff" stroke="#000" stroke-width="1.3"/><path d="M609.6 655H625.8V669.6H609.6Z" fill="#fff" stroke="#000" stroke-width="1.4"/><path d="M610 655V669.6M625.5 655V669.6M617.7 655V669.6" stroke="#000" stroke-width="2.5"/><path d="M624 597H633M625 636H633M625 662H633" stroke="#e00" stroke-width="1.5"/><path d="M633 594L636 597L633 600ZM633 633L636 636L633 639ZM633 659L636 662L633 665Z"/><path d="M644 593H690M643 636H690" stroke="#000" stroke-width="1.4"/><path d="M650 630C647 633 647 640 650 643" fill="none" stroke="#000" stroke-width="2"/><text x="690.5" y="600" font-size="21" font-family="Liberation Serif" font-weight="bold">4</text><text x="689.5" y="643" font-size="21" font-family="Liberation Serif" font-weight="bold">8</text><rect x="610.2" y="670" width="15" height="19" rx="7.5" fill="none" stroke="#000" stroke-width="1.8"/><rect x="612.7" y="672.5" width="10" height="14" rx="5" fill="none" stroke="#000" stroke-width="1"/><path d="M615.7 673.5L619.7 685.5" stroke="#000" stroke-width="1.3"/><path d="M617.7 688V697" stroke="#000" stroke-width="1.6"/><rect x="611.2" y="697" width="13" height="21" rx="6.5" fill="none" stroke="#000" stroke-width="1.8"/><rect x="613.7" y="699.5" width="8" height="16" rx="4" fill="none" stroke="#000" stroke-width="1"/><path d="M615.7 701.5L619.7 713.5" stroke="#000" stroke-width="1.3"/><path d="M617.7 717V760" stroke="#000" stroke-width="1.3"/><path d="M618 730C615 745 614 752 616 762" fill="none" stroke="#000" stroke-width="1"/><path d="M607 735L630 722M607 743L630 730" stroke="#000" stroke-width="1.6"/><rect x="611.7" y="761" width="13" height="22" rx="6.5" fill="none" stroke="#000" stroke-width="1.8"/><rect x="614.2" y="763.5" width="8" height="17" rx="4" fill="none" stroke="#000" stroke-width="1"/><path d="M616.2 766L620.2 778" stroke="#000" stroke-width="1.3"/><path d="M618.2 782V797" stroke="#000" stroke-width="1.6"/><path d="M613 800L618 796L623 800L619 820H617Z" fill="#fff" stroke="#000" stroke-width="1.8"/><path d="M618.2 820V828" stroke="#000" stroke-width="1.6"/><path d="M610 855V835C610 825 626 825 626 835V855M612.5 855V846H623.5V855" fill="none" stroke="#000" stroke-width="1.8"/><path d="M624.5 755H672M627.5 843L650.5 805" stroke="#000" stroke-width="1.4"/><text x="671" y="762" font-size="20" font-family="Liberation Serif" font-weight="bold">5</text><text x="646" y="803" font-size="20" font-family="Liberation Serif" font-weight="bold">6</text><path d="M624 852H632" stroke="#e00" stroke-width="1.5"/><g id="ch"><path d="M510 762A63 78 0 0 1 573 840M511 778A46 62 0 0 1 557 840" fill="none" stroke="#000" stroke-width="2"/><path d="M503 770V812" stroke="#000" stroke-width="2.5"/><path d="M551 849C547.2 850.2 534.7 852 528 856C521.3 860 514.7 866.5 511 873C507.3 879.5 506.5 887 506 895C505.5 903 507.7 916.7 508 921" fill="none" stroke="#000" stroke-width="2"/><path d="M553 866C550.5 866.8 542.5 868 538 871C533.5 874 528.7 879.2 526 884C523.3 888.8 522.7 895 522 900C521.3 905 522 911.7 522 914" fill="none" stroke="#000" stroke-width="2"/><path d="M531 925C531.7 927.5 534.5 934.2 535 940C535.5 945.8 535.8 953 534 960C532.2 967 528.7 975.7 524 982C519.3 988.3 509 995.3 506 998" fill="none" stroke="#000" stroke-width="2"/><path d="M516 936C516.3 938.3 518 945.5 518 950C518 954.5 517.2 959.2 516 963C514.8 966.8 513.3 970.2 511 973C508.7 975.8 503.5 978.8 502 980" fill="none" stroke="#000" stroke-width="2"/><path d="M725.7 762A63 78 0 0 0 662.7 840M724.7 778A46 62 0 0 0 678.7 840" fill="none" stroke="#000" stroke-width="2"/><path d="M732.7 770V812" stroke="#000" stroke-width="2.5"/><path d="M684.7 849C688.5 850.2 701 852 707.7 856C714.4 860 721 866.5 724.7 873C728.4 879.5 729.2 887 729.7 895C730.2 903 728 916.7 727.7 921" fill="none" stroke="#000" stroke-width="2"/><path d="M682.7 866C685.2 866.8 693.2 868 697.7 871C702.2 874 707 879.2 709.7 884C712.4 888.8 713 895 713.7 900C714.4 905 713.7 911.7 713.7 914" fill="none" stroke="#000" stroke-width="2"/><path d="M702.7 931C702.3 934.7 699.2 944.9 700.5 953C701.8 961.1 704 971.1 710.4 979.6C716.8 988.1 734.2 999.8 739 1003.8" fill="none" stroke="#000" stroke-width="2"/><path d="M719.2 931C718.8 933.6 715.9 939.6 717 946.6C718.1 953.6 721.4 966.4 725.8 973C730.2 979.6 740.5 983.8 743.4 986" fill="none" stroke="#000" stroke-width="2"/><path d="M668 1037C669.4 1035.5 671.8 1031.3 676.3 1028C680.8 1024.7 687.7 1019.9 695 1017C702.3 1014.1 711.1 1011.1 720.3 1010.4C729.5 1009.7 739 1010 750 1012.6C761 1015.2 775.3 1022.7 786.3 1025.8C797.3 1028.9 806.8 1030.8 816 1031.3C825.2 1031.8 832.1 1031.4 841.3 1029C850.5 1026.6 863.1 1021.9 871 1017C878.9 1012.1 885.7 1002.3 888.6 999.4" fill="none" stroke="#000" stroke-width="2"/><path d="M567.7 1037C566.3 1035.5 563.9 1031.3 559.4 1028C554.9 1024.7 548 1019.9 540.7 1017C533.4 1014.1 524.6 1011.1 515.4 1010.4C506.2 1009.7 496.7 1010 485.7 1012.6C474.7 1015.2 460.4 1022.7 449.4 1025.8C438.4 1028.9 428.9 1030.8 419.7 1031.3C410.5 1031.8 403.6 1031.4 394.4 1029C385.2 1026.6 372.6 1021.9 364.7 1017C356.8 1012.1 350 1002.3 347.1 999.4" fill="none" stroke="#000" stroke-width="2"/><path d="M668 1040C671.8 1039.5 681.9 1039 690.6 1036.8C699.3 1034.6 710.4 1028.4 720.3 1026.9C730.2 1025.4 739 1025.6 750 1028C761 1030.4 775.3 1037.7 786.3 1041.2C797.3 1044.7 806.8 1047.8 816 1048.9C825.2 1050 832.1 1050.2 841.3 1047.8C850.5 1045.4 862 1041.2 871 1034.6C880 1028 891.2 1012.6 895.2 1008.2" fill="none" stroke="#000" stroke-width="2"/><path d="M567.7 1040C563.9 1039.5 553.8 1039 545.1 1036.8C536.4 1034.6 525.3 1028.4 515.4 1026.9C505.5 1025.4 496.7 1025.6 485.7 1028C474.7 1030.4 460.4 1037.7 449.4 1041.2C438.4 1044.7 428.9 1047.8 419.7 1048.9C410.5 1050 403.6 1050.2 394.4 1047.8C385.2 1045.4 373.7 1041.2 364.7 1034.6C355.7 1028 344.5 1012.6 340.5 1008.2" fill="none" stroke="#000" stroke-width="2"/><path d="M341.9 851.7C333.9 862 326.9 876 326.9 888C326.9 898 330.9 904 332.4 908.3H351.4 C352.9 904 356.9 898 356.9 888C356.9 876 349.9 862 341.9 851.7Z" fill="#fff" stroke="#000" stroke-width="1.2"/><path d="M333.4 888C333.9 894 336.9 899 337.9 902M350.4 888C349.9 894 346.9 899 345.9 902M333.4 888L336.9 883L338.9 887M350.4 888L346.9 883L344.9 887M336.9 889L340.9 900M346.9 889L342.9 900" fill="none" stroke="#000" stroke-width="1.5"/><path d="M337.4 901H346.4 V908.3H337.4 Z" fill="#000"/><path d="M338.4 903.5H345.4 M338.4 906H345.4" stroke="#fff" stroke-width="0.8"/><rect x="331.5" y="908.3" width="20.8" height="38.4" fill="#fff" stroke="#000" stroke-width="1.2"/><path d="M297.5 946.7H386.6 C383.6 962 368.6 975 355.9 975H327.9 C315.5 975 300.5 962 297.5 946.7Z" fill="#fff" stroke="#000" stroke-width="2"/><g fill="none" stroke="#000" stroke-width="1.9"><rect x="300.9" y="949" width="10" height="6" rx="3"/><rect x="312.9" y="949" width="10" height="6" rx="3"/><rect x="324.9" y="949" width="10" height="6" rx="3"/><rect x="336.9" y="949" width="10" height="6" rx="3"/><rect x="348.9" y="949" width="10" height="6" rx="3"/><rect x="360.9" y="949" width="10" height="6" rx="3"/><rect x="372.9" y="949" width="10" height="6" rx="3"/><rect x="306.9" y="957" width="10" height="6" rx="3"/><rect x="318.9" y="957" width="10" height="6" rx="3"/><rect x="330.9" y="957" width="10" height="6" rx="3"/><rect x="342.9" y="957" width="10" height="6" rx="3"/><rect x="354.9" y="957" width="10" height="6" rx="3"/><rect x="366.9" y="957" width="10" height="6" rx="3"/><rect x="312.9" y="965" width="10" height="6" rx="3"/><rect x="324.9" y="965" width="10" height="6" rx="3"/><rect x="336.9" y="965" width="10" height="6" rx="3"/><rect x="348.9" y="965" width="10" height="6" rx="3"/><rect x="360.9" y="965" width="10" height="6" rx="3"/></g><path d="M331.5 946V975M352.3 946V975" stroke="#000" stroke-width="1.2"/><path d="M304 948C307 957 313 963 321 966M379.6 946.7C376 958 366 966 354 969V975.5" fill="none" stroke="#e050d0" stroke-width="1.3"/><path d="M333.9 975L338.9 990M349.9 975L344.9 990M332.9 977H350.9" fill="none" stroke="#000" stroke-width="1.3"/><path d="M298.5 968V978" stroke="#000" stroke-width="2.5"/><path d="M384.4 968V978" stroke="#000" stroke-width="2.5"/><path d="M893.8 851.7C885.8 862 878.8 876 878.8 888C878.8 898 882.8 904 884.3 908.3H903.3 C904.8 904 908.8 898 908.8 888C908.8 876 901.8 862 893.8 851.7Z" fill="#fff" stroke="#000" stroke-width="1.2"/><path d="M885.3 888C885.8 894 888.8 899 889.8 902M902.3 888C901.8 894 898.8 899 897.8 902M885.3 888L888.8 883L890.8 887M902.3 888L898.8 883L896.8 887M888.8 889L892.8 900M898.8 889L894.8 900" fill="none" stroke="#000" stroke-width="1.5"/><path d="M889.3 901H898.3 V908.3H889.3 Z" fill="#000"/><path d="M890.3 903.5H897.3 M890.3 906H897.3" stroke="#fff" stroke-width="0.8"/><rect x="883.4" y="908.3" width="20.8" height="38.4" fill="#fff" stroke="#000" stroke-width="1.2"/><path d="M849.1 946.7H938.2 C935.2 962 920.2 975 907.8 975H879.8 C867.1 975 852.1 962 849.1 946.7Z" fill="#fff" stroke="#000" stroke-width="2"/><g fill="none" stroke="#000" stroke-width="1.9"><rect x="852.8" y="949" width="10" height="6" rx="3"/><rect x="864.8" y="949" width="10" height="6" rx="3"/><rect x="876.8" y="949" width="10" height="6" rx="3"/><rect x="888.8" y="949" width="10" height="6" rx="3"/><rect x="900.8" y="949" width="10" height="6" rx="3"/><rect x="912.8" y="949" width="10" height="6" rx="3"/><rect x="924.8" y="949" width="10" height="6" rx="3"/><rect x="858.8" y="957" width="10" height="6" rx="3"/><rect x="870.8" y="957" width="10" height="6" rx="3"/><rect x="882.8" y="957" width="10" height="6" rx="3"/><rect x="894.8" y="957" width="10" height="6" rx="3"/><rect x="906.8" y="957" width="10" height="6" rx="3"/><rect x="918.8" y="957" width="10" height="6" rx="3"/><rect x="864.8" y="965" width="10" height="6" rx="3"/><rect x="876.8" y="965" width="10" height="6" rx="3"/><rect x="888.8" y="965" width="10" height="6" rx="3"/><rect x="900.8" y="965" width="10" height="6" rx="3"/><rect x="912.8" y="965" width="10" height="6" rx="3"/></g><path d="M883.4 946V975M904.2 946V975" stroke="#000" stroke-width="1.2"/><path d="M931.7 948C928.7 957 922.7 963 914.7 966M856.1 946.7C859.7 958 869.7 966 881.7 969V975.5" fill="none" stroke="#e050d0" stroke-width="1.3"/><path d="M885.8 975L890.8 990M901.8 975L896.8 990M884.8 977H902.8" fill="none" stroke="#000" stroke-width="1.3"/><path d="M937.2 968V978" stroke="#000" stroke-width="2.5"/><path d="M851.3 968V978" stroke="#000" stroke-width="2.5"/><path d="M575.6 856H659.2 M575.6 861H659.2" stroke="#000" stroke-width="1.8"/><rect x="590.6" y="853" width="4" height="8" fill="#fff" stroke="#000" stroke-width="1.2" rx="1.5"/><rect x="602.6" y="853" width="4" height="8" fill="#fff" stroke="#000" stroke-width="1.2" rx="1.5"/><rect x="628.2" y="853" width="4" height="8" fill="#fff" stroke="#000" stroke-width="1.2" rx="1.5"/><rect x="640.2" y="853" width="4" height="8" fill="#fff" stroke="#000" stroke-width="1.2" rx="1.5"/><clipPath id="bw861"><path d="M578.6 861C583.6 881.8 592 887.8 604 887.8H632 C644 887.8 651.2 881.8 656.2 861Z"/></clipPath><path d="M578.6 861C583.6 881.8 592 887.8 604 887.8H632 C644 887.8 651.2 881.8 656.2 861Z" fill="#fff" stroke="#000" stroke-width="2"/><path d="M513.9 861L553.9 892.8M553.9 861L513.9 892.8M527.9 861L567.9 892.8M567.9 861L527.9 892.8M541.9 861L581.9 892.8M581.9 861L541.9 892.8M555.9 861L595.9 892.8M595.9 861L555.9 892.8M569.9 861L609.9 892.8M609.9 861L569.9 892.8M583.9 861L623.9 892.8M623.9 861L583.9 892.8M597.9 861L637.9 892.8M637.9 861L597.9 892.8M611.9 861L651.9 892.8M651.9 861L611.9 892.8M625.9 861L665.9 892.8M665.9 861L625.9 892.8M639.9 861L679.9 892.8M679.9 861L639.9 892.8M653.9 861L693.9 892.8M693.9 861L653.9 892.8M667.9 861L707.9 892.8M707.9 861L667.9 892.8M681.9 861L721.9 892.8M721.9 861L681.9 892.8" stroke="#000" stroke-width="2.4" clip-path="url(#bw861)"/><path d="M603.9 887.8H631.9 L626.9 891.8H608.9 Z" fill="#fff" stroke="#000" stroke-width="1.6"/><path d="M610.9 891.8C608.9 896.8 608.9 900.8 611.9 903.8L617.9 906.8L623.9 903.8C626.9 900.8 626.9 896.8 624.9 891.8Z" fill="#fff" stroke="#000" stroke-width="1.8"/><path d="M609.4 895.8H626.4 M609.9 900.8H625.9" stroke="#000" stroke-width="1.5"/><path d="M565 1032.3H668 M565 1037.3H668" stroke="#000" stroke-width="1.8"/><rect x="580" y="1029.3" width="4" height="8" fill="#fff" stroke="#000" stroke-width="1.2" rx="1.5"/><rect x="592" y="1029.3" width="4" height="8" fill="#fff" stroke="#000" stroke-width="1.2" rx="1.5"/><rect x="637" y="1029.3" width="4" height="8" fill="#fff" stroke="#000" stroke-width="1.2" rx="1.5"/><rect x="649" y="1029.3" width="4" height="8" fill="#fff" stroke="#000" stroke-width="1.2" rx="1.5"/><clipPath id="bw1037"><path d="M568 1037.3C573 1061.6 589.4 1067.6 601.4 1067.6H632.6 C644.6 1067.6 660 1061.6 665 1037.3Z"/></clipPath><path d="M568 1037.3C573 1061.6 589.4 1067.6 601.4 1067.6H632.6 C644.6 1067.6 660 1061.6 665 1037.3Z" fill="#fff" stroke="#000" stroke-width="2"/><path d="M513.9 1037.3L553.9 1072.6M553.9 1037.3L513.9 1072.6M527.9 1037.3L567.9 1072.6M567.9 1037.3L527.9 1072.6M541.9 1037.3L581.9 1072.6M581.9 1037.3L541.9 1072.6M555.9 1037.3L595.9 1072.6M595.9 1037.3L555.9 1072.6M569.9 1037.3L609.9 1072.6M609.9 1037.3L569.9 1072.6M583.9 1037.3L623.9 1072.6M623.9 1037.3L583.9 1072.6M597.9 1037.3L637.9 1072.6M637.9 1037.3L597.9 1072.6M611.9 1037.3L651.9 1072.6M651.9 1037.3L611.9 1072.6M625.9 1037.3L665.9 1072.6M665.9 1037.3L625.9 1072.6M639.9 1037.3L679.9 1072.6M679.9 1037.3L639.9 1072.6M653.9 1037.3L693.9 1072.6M693.9 1037.3L653.9 1072.6M667.9 1037.3L707.9 1072.6M707.9 1037.3L667.9 1072.6M681.9 1037.3L721.9 1072.6M721.9 1037.3L681.9 1072.6" stroke="#000" stroke-width="2.4" clip-path="url(#bw1037)"/><path d="M603.9 1067.6H631.9 L626.9 1071.6H608.9 Z" fill="#fff" stroke="#000" stroke-width="1.6"/><path d="M610.9 1071.6C608.9 1076.6 608.9 1080.6 611.9 1083.6L617.9 1092L623.9 1083.6C626.9 1080.6 626.9 1076.6 624.9 1071.6Z" fill="#fff" stroke="#000" stroke-width="1.8"/><path d="M609.4 1075.6H626.4 M609.9 1080.6H625.9" stroke="#000" stroke-width="1.5"/><path d="M610.9 1032.3L612.9 1024L617.9 1018L622.9 1024L624.9 1032.3Z" fill="#fff" stroke="#000" stroke-width="1.8"/><path d="M611.9 1028.3H623.9 M612.9 1024.3H622.9" stroke="#000" stroke-width="1.5"/><path d="M666.4 1040V1169.4" stroke="#000" stroke-width="1.8"/><path d="M666.4 1157.6V1169.4" stroke="#000" stroke-width="3"/><path d="M721 1017V1133.8" stroke="#000" stroke-width="1.8"/><path d="M721 1122.8V1133.8" stroke="#000" stroke-width="3"/><path d="M844.6 1038V1080" stroke="#000" stroke-width="1.8"/><path d="M844.6 1068V1080" stroke="#000" stroke-width="3"/><path d="M902.9 997V1048.1" stroke="#000" stroke-width="1.8"/><path d="M902.9 1038.5V1048.1" stroke="#000" stroke-width="3"/><path d="M569.3 1040V1169.4" stroke="#000" stroke-width="1.8"/><path d="M569.3 1157.6V1169.4" stroke="#000" stroke-width="3"/><path d="M514.7 1017V1151.5" stroke="#000" stroke-width="1.8"/><path d="M514.7 1140.2V1151.5" stroke="#000" stroke-width="3"/><path d="M391.1 1038V1080" stroke="#000" stroke-width="1.8"/><path d="M391.1 1068V1080" stroke="#000" stroke-width="3"/><path d="M332.8 997V1048.1" stroke="#000" stroke-width="1.8"/><path d="M332.8 1038.5V1048.1" stroke="#000" stroke-width="3"/><path d="M780.8 1032V1108.6" stroke="#000" stroke-width="1.8"/><path d="M780.8 1099V1108.6" stroke="#000" stroke-width="3"/><path d="M454 1032V1093.2" stroke="#000" stroke-width="1.8"/><path d="M454 1082.5V1093.2" stroke="#000" stroke-width="3"/><path d="M617.9 1092V1210" stroke="#000" stroke-width="1.8"/><path d="M562.5 862V898" stroke="#000" stroke-width="2.2"/><path d="M452 923L486 961L520 922" fill="none" stroke="#000" stroke-width="2"/><path d="M449 920L455 926" stroke="#000" stroke-width="2.5"/><path d="M344.5 996.5L261 1088L249 1075L240 1064M261 1088V1100" fill="none" stroke="#000" stroke-width="2"/><path d="M236 1062C238 1058 242 1056 245 1058M233 1065L241 1063" fill="none" stroke="#000" stroke-width="2"/><ellipse cx="503" cy="833" rx="18.7" ry="25.7" fill="#fff" stroke="#000" stroke-width="1.9"/><path d="M490.9 813.4V852.6M497 808.7V857.3M503 807.3V858.7M509 808.7V857.3M515.1 813.4V852.6M488.7 816.4H517.3M485.3 824.7H520.7M484.3 833H521.7M485.3 841.3H520.7M488.7 849.6H517.3" stroke="#000" stroke-width="2" fill="none"/><ellipse cx="732.7" cy="833" rx="18.7" ry="25.7" fill="#fff" stroke="#000" stroke-width="1.9"/><path d="M720.6 813.4V852.6M726.7 808.7V857.3M732.7 807.3V858.7M738.7 808.7V857.3M744.8 813.4V852.6M718.4 816.4H747M715 824.7H750.4M714 833H751.4M715 841.3H750.4M718.4 849.6H747" stroke="#000" stroke-width="2" fill="none"/><ellipse cx="298.5" cy="992.7" rx="15.6" ry="20.9" fill="#fff" stroke="#000" stroke-width="1.9"/><path d="M288.4 976.7V1008.7M293.5 972.9V1012.5M298.5 971.8V1013.6M303.5 972.9V1012.5M308.6 976.7V1008.7M286.6 979.2H310.4M283.7 986H313.3M282.9 992.7H314.1M283.7 999.4H313.3M286.6 1006.2H310.4" stroke="#000" stroke-width="2" fill="none"/><ellipse cx="384.4" cy="992.7" rx="15.6" ry="20.9" fill="#fff" stroke="#000" stroke-width="1.9"/><path d="M374.3 976.7V1008.7M379.4 972.9V1012.5M384.4 971.8V1013.6M389.4 972.9V1012.5M394.5 976.7V1008.7M372.5 979.2H396.3M369.6 986H399.2M368.8 992.7H400M369.6 999.4H399.2M372.5 1006.2H396.3" stroke="#000" stroke-width="2" fill="none"/><ellipse cx="937.2" cy="992.7" rx="15.6" ry="20.9" fill="#fff" stroke="#000" stroke-width="1.9"/><path d="M927.1 976.7V1008.7M932.2 972.9V1012.5M937.2 971.8V1013.6M942.2 972.9V1012.5M947.3 976.7V1008.7M925.3 979.2H949.1M922.4 986H952M921.6 992.7H952.8M922.4 999.4H952M925.3 1006.2H949.1" stroke="#000" stroke-width="2" fill="none"/><ellipse cx="851.3" cy="992.7" rx="15.6" ry="20.9" fill="#fff" stroke="#000" stroke-width="1.9"/><path d="M841.2 976.7V1008.7M846.3 972.9V1012.5M851.3 971.8V1013.6M856.3 972.9V1012.5M861.4 976.7V1008.7M839.4 979.2H863.2M836.5 986H866.1M835.7 992.7H866.9M836.5 999.4H866.1M839.4 1006.2H863.2" stroke="#000" stroke-width="2" fill="none"/><ellipse cx="666.4" cy="1192.4" rx="19.1" ry="26" fill="#fff" stroke="#000" stroke-width="1.9"/><path d="M654.1 1172.5V1212.3M660.2 1167.8V1217M666.4 1166.4V1218.4M672.6 1167.8V1217M678.7 1172.5V1212.3M651.8 1175.6H681M648.3 1184H684.5M647.3 1192.4H685.5M648.3 1200.8H684.5M651.8 1209.2H681" stroke="#000" stroke-width="2" fill="none"/><ellipse cx="721" cy="1156.8" rx="19.1" ry="26" fill="#fff" stroke="#000" stroke-width="1.9"/><path d="M708.7 1136.9V1176.7M714.8 1132.2V1181.4M721 1130.8V1182.8M727.2 1132.2V1181.4M733.3 1136.9V1176.7M706.4 1140H735.6M702.9 1148.4H739.1M701.9 1156.8H740.1M702.9 1165.2H739.1M706.4 1173.6H735.6" stroke="#000" stroke-width="2" fill="none"/><ellipse cx="844.6" cy="1102.8" rx="19.2" ry="25.8" fill="#fff" stroke="#000" stroke-width="1.9"/><path d="M832.2 1083.1V1122.5M838.4 1078.4V1127.2M844.6 1077V1128.6M850.8 1078.4V1127.2M857 1083.1V1122.5M829.9 1086.2H859.3M826.4 1094.5H862.8M825.4 1102.8H863.8M826.4 1111.1H862.8M829.9 1119.4H859.3" stroke="#000" stroke-width="2" fill="none"/><ellipse cx="902.9" cy="1076.4" rx="23.1" ry="31.3" fill="#fff" stroke="#000" stroke-width="1.9"/><path d="M888 1052.5V1100.3M895.4 1046.8V1106M902.9 1045.1V1107.7M910.4 1046.8V1106M917.8 1052.5V1100.3M897.1 1046.1H908.7M885.3 1056.2H920.5M881 1066.3H924.8M879.8 1076.4H926M881 1086.5H924.8M885.3 1096.6H920.5M897.1 1106.7H908.7" stroke="#000" stroke-width="2" fill="none"/><ellipse cx="569.3" cy="1192.4" rx="19.1" ry="26" fill="#fff" stroke="#000" stroke-width="1.9"/><path d="M557 1172.5V1212.3M563.1 1167.8V1217M569.3 1166.4V1218.4M575.5 1167.8V1217M581.6 1172.5V1212.3M554.7 1175.6H583.9M551.2 1184H587.4M550.2 1192.4H588.4M551.2 1200.8H587.4M554.7 1209.2H583.9" stroke="#000" stroke-width="2" fill="none"/><ellipse cx="514.7" cy="1174.5" rx="19.1" ry="26" fill="#fff" stroke="#000" stroke-width="1.9"/><path d="M502.4 1154.6V1194.4M508.5 1149.9V1199.1M514.7 1148.5V1200.5M520.9 1149.9V1199.1M527 1154.6V1194.4M500.1 1157.7H529.3M496.6 1166.1H532.8M495.6 1174.5H533.8M496.6 1182.9H532.8M500.1 1191.3H529.3" stroke="#000" stroke-width="2" fill="none"/><ellipse cx="391.1" cy="1102.8" rx="19.2" ry="25.8" fill="#fff" stroke="#000" stroke-width="1.9"/><path d="M378.7 1083.1V1122.5M384.9 1078.4V1127.2M391.1 1077V1128.6M397.3 1078.4V1127.2M403.5 1083.1V1122.5M376.4 1086.2H405.8M372.9 1094.5H409.3M371.9 1102.8H410.3M372.9 1111.1H409.3M376.4 1119.4H405.8" stroke="#000" stroke-width="2" fill="none"/><ellipse cx="332.8" cy="1076.4" rx="23.1" ry="31.3" fill="#fff" stroke="#000" stroke-width="1.9"/><path d="M317.9 1052.5V1100.3M325.3 1046.8V1106M332.8 1045.1V1107.7M340.3 1046.8V1106M347.7 1052.5V1100.3M327 1046.1H338.6M315.2 1056.2H350.4M310.9 1066.3H354.7M309.7 1076.4H355.9M310.9 1086.5H354.7M315.2 1096.6H350.4M327 1106.7H338.6" stroke="#000" stroke-width="2" fill="none"/><ellipse cx="780.8" cy="1131.4" rx="19.2" ry="25.8" fill="#fff" stroke="#000" stroke-width="1.9"/><path d="M768.4 1111.7V1151.1M774.6 1107V1155.8M780.8 1105.6V1157.2M787 1107V1155.8M793.2 1111.7V1151.1M766.1 1114.8H795.5M762.6 1123.1H799M761.6 1131.4H800M762.6 1139.7H799M766.1 1148H795.5" stroke="#000" stroke-width="2" fill="none"/><ellipse cx="454" cy="1116.8" rx="19.3" ry="26.6" fill="#fff" stroke="#000" stroke-width="1.9"/><path d="M441.5 1096.5V1137.1M447.8 1091.6V1142M454 1090.2V1143.4M460.2 1091.6V1142M466.5 1096.5V1137.1M439.3 1099.6H468.7M435.7 1108.2H472.3M434.7 1116.8H473.3M435.7 1125.4H472.3M439.3 1134H468.7" stroke="#000" stroke-width="2" fill="none"/><path d="M617.9 1203L621.9 1211H613.9 Z" stroke="#000" stroke-width="2"/><path d="M617.9 1211L633.9 1223L634.9 1232L633.9 1240L627.9 1246L617.9 1250L607.9 1246L601.9 1240L600.9 1232L601.9 1223Z" fill="#fff" stroke="#000" stroke-width="3"/><clipPath id="ballc"><path d="M617.9 1211L633.9 1223L634.9 1232L633.9 1240L627.9 1246L617.9 1250L607.9 1246L601.9 1240L600.9 1232L601.9 1223Z"/></clipPath><path d="M552.6 1200L587.1 1260M587.1 1200L552.6 1260M560.6 1200L595.1 1260M595.1 1200L560.6 1260M568.6 1200L603.1 1260M603.1 1200L568.6 1260M576.6 1200L611.1 1260M611.1 1200L576.6 1260M584.6 1200L619.1 1260M619.1 1200L584.6 1260M592.6 1200L627.1 1260M627.1 1200L592.6 1260M600.6 1200L635.1 1260M635.1 1200L600.6 1260M608.6 1200L643.1 1260M643.1 1200L608.6 1260M616.6 1200L651.1 1260M651.1 1200L616.6 1260M624.6 1200L659.1 1260M659.1 1200L624.6 1260M632.6 1200L667.1 1260M667.1 1200L632.6 1260M640.6 1200L675.1 1260M675.1 1200L640.6 1260M648.6 1200L683.1 1260M683.1 1200L648.6 1260M597.9 1223H637.9 M597.9 1231H637.9 M597.9 1239H637.9" stroke="#000" stroke-width="2.3" clip-path="url(#ballc)"/><ellipse cx="562.5" cy="917.5" rx="15.4" ry="20.3" fill="#fff" stroke="#000" stroke-width="1.9"/><path d="M552.6 902V933M557.5 898.3V936.7M562.5 897.2V937.8M567.5 898.3V936.7M572.4 902V933M550.7 904.4H574.3M547.9 911H577.1M547.1 917.5H577.9M547.9 924H577.1M550.7 930.6H574.3" stroke="#000" stroke-width="2" fill="none"/><ellipse cx="487" cy="998" rx="19.2" ry="26.2" fill="#fff" stroke="#000" stroke-width="1.9"/><path d="M474.6 978V1018M480.8 973.2V1022.8M487 971.8V1024.2M493.2 973.2V1022.8M499.4 978V1018M472.3 981.1H501.7M468.8 989.5H505.2M467.8 998H506.2M468.8 1006.5H505.2M472.3 1014.9H501.7" stroke="#000" stroke-width="2" fill="none"/><ellipse cx="261" cy="1125" rx="19.3" ry="26.6" fill="#fff" stroke="#000" stroke-width="1.9"/><path d="M248.5 1104.7V1145.3M254.8 1099.8V1150.2M261 1098.4V1151.6M267.2 1099.8V1150.2M273.5 1104.7V1145.3M246.3 1107.8H275.7M242.7 1116.4H279.3M241.7 1125H280.3M242.7 1133.6H279.3M246.3 1142.2H275.7" stroke="#000" stroke-width="2" fill="none"/><polygon points="503,799.9 497.7,796.5 497.7,789.5 503,786.1 508.3,789.5 508.3,796.5" fill="#fff" stroke="#000" stroke-width="3" stroke-linejoin="round"/><path d="M507.8 793L498.2 793M506.4 796.4L499.6 789.6M503 797.8L503 788.2M499.6 796.4L506.4 789.6" stroke="#000" stroke-width="1.5"/><circle cx="503" cy="793" r="1.9"/><polygon points="514.2,769.9 509.9,772.8 508.9,777.8 503.8,776.8 499.6,779.7 496.7,775.4 491.7,774.4 492.7,769.3 489.8,765.1 494.1,762.2 495.1,757.2 500.2,758.2 504.4,755.3 507.3,759.6 512.3,760.6 511.3,765.7" fill="#000" stroke="#000" stroke-width="1.2" stroke-linejoin="round"/><circle cx="502" cy="767.5" r="7.6" fill="#fff" stroke="#000" stroke-width="2"/><path d="M508.5 767.5L495.5 767.5M506.6 772.1L497.4 762.9M502 774L502 761M497.4 772.1L506.6 762.9" stroke="#000" stroke-width="1.3"/><circle cx="502" cy="767.5" r="2.1" fill="#000"/><polygon points="531.6,924.8 527.5,927.5 526.6,932.3 521.8,931.3 517.7,934.1 515,930 510.2,929.1 511.2,924.3 508.4,920.2 512.5,917.5 513.4,912.7 518.2,913.7 522.3,910.9 525,915 529.8,915.9 528.8,920.7" fill="#000" stroke="#000" stroke-width="1.2" stroke-linejoin="round"/><circle cx="520" cy="922.5" r="7.2" fill="#fff" stroke="#000" stroke-width="2"/><path d="M526.2 922.5L513.8 922.5M524.4 926.9L515.6 918.1M520 928.7L520 916.3M515.6 926.9L524.4 918.1" stroke="#000" stroke-width="1.3"/><circle cx="520" cy="922.5" r="2" fill="#000"/><polygon points="575.7,853.5 571.2,856.5 570.2,861.8 564.9,860.7 560.5,863.7 557.5,859.2 552.2,858.2 553.3,852.9 550.3,848.5 554.8,845.5 555.8,840.2 561.1,841.3 565.5,838.3 568.5,842.8 573.8,843.8 572.7,849.1" fill="#000" stroke="#000" stroke-width="1.2" stroke-linejoin="round"/><circle cx="563" cy="851" r="7.9" fill="#fff" stroke="#000" stroke-width="2"/><path d="M569.8 851L556.2 851M567.8 855.8L558.2 846.2M563 857.8L563 844.2M558.2 855.8L567.8 846.2" stroke="#000" stroke-width="1.3"/><circle cx="563" cy="851" r="2.2" fill="#000"/><polygon points="732.7,799.9 727.4,796.5 727.4,789.5 732.7,786.1 738,789.5 738,796.5" fill="#fff" stroke="#000" stroke-width="3" stroke-linejoin="round"/><path d="M737.5 793L727.9 793M736.1 796.4L729.3 789.6M732.7 797.8L732.7 788.2M729.3 796.4L736.1 789.6" stroke="#000" stroke-width="1.5"/><circle cx="732.7" cy="793" r="1.9"/><polygon points="745.9,769.9 741.6,772.8 740.6,777.8 735.5,776.8 731.3,779.7 728.4,775.4 723.4,774.4 724.4,769.3 721.5,765.1 725.8,762.2 726.8,757.2 731.9,758.2 736.1,755.3 739,759.6 744,760.6 743,765.7" fill="#000" stroke="#000" stroke-width="1.2" stroke-linejoin="round"/><circle cx="733.7" cy="767.5" r="7.6" fill="#fff" stroke="#000" stroke-width="2"/><path d="M740.2 767.5L727.2 767.5M738.3 772.1L729.1 762.9M733.7 774L733.7 761M729.1 772.1L738.3 762.9" stroke="#000" stroke-width="1.3"/><circle cx="733.7" cy="767.5" r="2.1" fill="#000"/><polygon points="727.3,924.8 723.2,927.5 722.3,932.3 717.5,931.3 713.4,934.1 710.7,930 705.9,929.1 706.9,924.3 704.1,920.2 708.2,917.5 709.1,912.7 713.9,913.7 718,910.9 720.7,915 725.5,915.9 724.5,920.7" fill="#000" stroke="#000" stroke-width="1.2" stroke-linejoin="round"/><circle cx="715.7" cy="922.5" r="7.2" fill="#fff" stroke="#000" stroke-width="2"/><path d="M721.9 922.5L709.5 922.5M720.1 926.9L711.3 918.1M715.7 928.7L715.7 916.3M711.3 926.9L720.1 918.1" stroke="#000" stroke-width="1.3"/><circle cx="715.7" cy="922.5" r="2" fill="#000"/><polygon points="685.4,853.5 680.9,856.5 679.9,861.8 674.6,860.7 670.2,863.7 667.2,859.2 661.9,858.2 663,852.9 660,848.5 664.5,845.5 665.5,840.2 670.8,841.3 675.2,838.3 678.2,842.8 683.5,843.8 682.4,849.1" fill="#000" stroke="#000" stroke-width="1.2" stroke-linejoin="round"/><circle cx="672.7" cy="851" r="7.9" fill="#fff" stroke="#000" stroke-width="2"/><path d="M679.5 851L665.9 851M677.5 855.8L667.9 846.2M672.7 857.8L672.7 844.2M667.9 855.8L677.5 846.2" stroke="#000" stroke-width="1.3"/><circle cx="672.7" cy="851" r="2.2" fill="#000"/><polygon points="759.3,998.3 755.2,1001 754.3,1005.8 749.5,1004.8 745.4,1007.6 742.7,1003.5 737.9,1002.6 738.9,997.8 736.1,993.7 740.2,991 741.1,986.2 745.9,987.2 750,984.4 752.7,988.5 757.5,989.4 756.5,994.2" fill="#000" stroke="#000" stroke-width="1.2" stroke-linejoin="round"/><circle cx="747.7" cy="996" r="7.2" fill="#fff" stroke="#000" stroke-width="2"/><path d="M753.9 996L741.5 996M752.1 1000.4L743.3 991.6M747.7 1002.2L747.7 989.8M743.3 1000.4L752.1 991.6" stroke="#000" stroke-width="1.3"/><circle cx="747.7" cy="996" r="2" fill="#000"/><polygon points="298.5,971.8 292.3,967.8 292.3,959.8 298.5,955.8 304.7,959.8 304.7,967.8" fill="#fff" stroke="#000" stroke-width="3" stroke-linejoin="round"/><path d="M304.1 963.8L292.9 963.8M302.5 967.8L294.5 959.8M298.5 969.4L298.5 958.2M294.5 967.8L302.5 959.8" stroke="#000" stroke-width="1.5"/><circle cx="298.5" cy="963.8" r="2.2"/><polygon points="384.4,971.8 378.2,967.8 378.2,959.8 384.4,955.8 390.6,959.8 390.6,967.8" fill="#fff" stroke="#000" stroke-width="3" stroke-linejoin="round"/><path d="M390 963.8L378.8 963.8M388.4 967.8L380.4 959.8M384.4 969.4L384.4 958.2M380.4 967.8L388.4 959.8" stroke="#000" stroke-width="1.5"/><circle cx="384.4" cy="963.8" r="2.2"/><polygon points="356.1,998.8 352,1001.5 351.1,1006.3 346.3,1005.3 342.2,1008.1 339.5,1004 334.7,1003.1 335.7,998.3 332.9,994.2 337,991.5 337.9,986.7 342.7,987.7 346.8,984.9 349.5,989 354.3,989.9 353.3,994.7" fill="#000" stroke="#000" stroke-width="1.2" stroke-linejoin="round"/><circle cx="344.5" cy="996.5" r="7.2" fill="#fff" stroke="#000" stroke-width="2"/><path d="M350.7 996.5L338.3 996.5M348.9 1000.9L340.1 992.1M344.5 1002.7L344.5 990.3M340.1 1000.9L348.9 992.1" stroke="#000" stroke-width="1.3"/><circle cx="344.5" cy="996.5" r="2" fill="#000"/><polygon points="937.2,971.8 931,967.8 931,959.8 937.2,955.8 943.4,959.8 943.4,967.8" fill="#fff" stroke="#000" stroke-width="3" stroke-linejoin="round"/><path d="M942.8 963.8L931.6 963.8M941.2 967.8L933.2 959.8M937.2 969.4L937.2 958.2M933.2 967.8L941.2 959.8" stroke="#000" stroke-width="1.5"/><circle cx="937.2" cy="963.8" r="2.2"/><polygon points="851.3,971.8 845.1,967.8 845.1,959.8 851.3,955.8 857.5,959.8 857.5,967.8" fill="#fff" stroke="#000" stroke-width="3" stroke-linejoin="round"/><path d="M856.9 963.8L845.7 963.8M855.3 967.8L847.3 959.8M851.3 969.4L851.3 958.2M847.3 967.8L855.3 959.8" stroke="#000" stroke-width="1.5"/><circle cx="851.3" cy="963.8" r="2.2"/><polygon points="902.8,998.8 898.7,1001.5 897.8,1006.3 893,1005.3 888.9,1008.1 886.2,1004 881.4,1003.1 882.4,998.3 879.6,994.2 883.7,991.5 884.6,986.7 889.4,987.7 893.5,984.9 896.2,989 901,989.9 900,994.7" fill="#000" stroke="#000" stroke-width="1.2" stroke-linejoin="round"/><circle cx="891.2" cy="996.5" r="7.2" fill="#fff" stroke="#000" stroke-width="2"/><path d="M897.4 996.5L885 996.5M895.6 1000.9L886.8 992.1M891.2 1002.7L891.2 990.3M886.8 1000.9L895.6 992.1" stroke="#000" stroke-width="1.3"/><circle cx="891.2" cy="996.5" r="2" fill="#000"/><polygon points="666.4,1068.2 660.7,1064.4 660.7,1057 666.4,1053.2 672.1,1057 672.1,1064.4" fill="#fff" stroke="#000" stroke-width="3" stroke-linejoin="round"/><path d="M671.6 1060.7L661.2 1060.7M670.1 1064.4L662.7 1057M666.4 1065.9L666.4 1055.5M662.7 1064.4L670.1 1057" stroke="#000" stroke-width="1.5"/><circle cx="666.4" cy="1060.7" r="2.1"/><polygon points="666.4,1087.3 660.7,1083.5 660.7,1076.1 666.4,1072.3 672.1,1076.1 672.1,1083.5" fill="#fff" stroke="#000" stroke-width="3" stroke-linejoin="round"/><path d="M671.6 1079.8L661.2 1079.8M670.1 1083.5L662.7 1076.1M666.4 1085L666.4 1074.6M662.7 1083.5L670.1 1076.1" stroke="#000" stroke-width="1.5"/><circle cx="666.4" cy="1079.8" r="2.1"/><polygon points="666.4,1105.5 660.7,1101.7 660.7,1094.3 666.4,1090.5 672.1,1094.3 672.1,1101.7" fill="#fff" stroke="#000" stroke-width="3" stroke-linejoin="round"/><path d="M671.6 1098L661.2 1098M670.1 1101.7L662.7 1094.3M666.4 1103.2L666.4 1092.8M662.7 1101.7L670.1 1094.3" stroke="#000" stroke-width="1.5"/><circle cx="666.4" cy="1098" r="2.1"/><polygon points="666.4,1123.7 660.7,1119.9 660.7,1112.5 666.4,1108.7 672.1,1112.5 672.1,1119.9" fill="#fff" stroke="#000" stroke-width="3" stroke-linejoin="round"/><path d="M671.6 1116.2L661.2 1116.2M670.1 1119.9L662.7 1112.5M666.4 1121.4L666.4 1111M662.7 1119.9L670.1 1112.5" stroke="#000" stroke-width="1.5"/><circle cx="666.4" cy="1116.2" r="2.1"/><polygon points="666.4,1141.9 660.7,1138.1 660.7,1130.7 666.4,1126.9 672.1,1130.7 672.1,1138.1" fill="#fff" stroke="#000" stroke-width="3" stroke-linejoin="round"/><path d="M671.6 1134.4L661.2 1134.4M670.1 1138.1L662.7 1130.7M666.4 1139.6L666.4 1129.2M662.7 1138.1L670.1 1130.7" stroke="#000" stroke-width="1.5"/><circle cx="666.4" cy="1134.4" r="2.1"/><polygon points="666.4,1160.1 660.7,1156.3 660.7,1148.9 666.4,1145.1 672.1,1148.9 672.1,1156.3" fill="#fff" stroke="#000" stroke-width="3" stroke-linejoin="round"/><path d="M671.6 1152.6L661.2 1152.6M670.1 1156.3L662.7 1148.9M666.4 1157.8L666.4 1147.4M662.7 1156.3L670.1 1148.9" stroke="#000" stroke-width="1.5"/><circle cx="666.4" cy="1152.6" r="2.1"/><polygon points="721,1052.7 715.3,1048.9 715.3,1041.5 721,1037.7 726.7,1041.5 726.7,1048.9" fill="#fff" stroke="#000" stroke-width="3" stroke-linejoin="round"/><path d="M726.2 1045.2L715.8 1045.2M724.7 1048.9L717.3 1041.5M721 1050.4L721 1040M717.3 1048.9L724.7 1041.5" stroke="#000" stroke-width="1.5"/><circle cx="721" cy="1045.2" r="2.1"/><polygon points="721,1070.7 715.3,1066.9 715.3,1059.5 721,1055.7 726.7,1059.5 726.7,1066.9" fill="#fff" stroke="#000" stroke-width="3" stroke-linejoin="round"/><path d="M726.2 1063.2L715.8 1063.2M724.7 1066.9L717.3 1059.5M721 1068.4L721 1058M717.3 1066.9L724.7 1059.5" stroke="#000" stroke-width="1.5"/><circle cx="721" cy="1063.2" r="2.1"/><polygon points="721,1089.3 715.3,1085.5 715.3,1078.1 721,1074.3 726.7,1078.1 726.7,1085.5" fill="#fff" stroke="#000" stroke-width="3" stroke-linejoin="round"/><path d="M726.2 1081.8L715.8 1081.8M724.7 1085.5L717.3 1078.1M721 1087L721 1076.6M717.3 1085.5L724.7 1078.1" stroke="#000" stroke-width="1.5"/><circle cx="721" cy="1081.8" r="2.1"/><polygon points="721,1107.3 715.3,1103.5 715.3,1096.1 721,1092.3 726.7,1096.1 726.7,1103.5" fill="#fff" stroke="#000" stroke-width="3" stroke-linejoin="round"/><path d="M726.2 1099.8L715.8 1099.8M724.7 1103.5L717.3 1096.1M721 1105L721 1094.6M717.3 1103.5L724.7 1096.1" stroke="#000" stroke-width="1.5"/><circle cx="721" cy="1099.8" r="2.1"/><polygon points="721,1125.3 715.3,1121.5 715.3,1114.1 721,1110.3 726.7,1114.1 726.7,1121.5" fill="#fff" stroke="#000" stroke-width="3" stroke-linejoin="round"/><path d="M726.2 1117.8L715.8 1117.8M724.7 1121.5L717.3 1114.1M721 1123L721 1112.6M717.3 1121.5L724.7 1114.1" stroke="#000" stroke-width="1.5"/><circle cx="721" cy="1117.8" r="2.1"/><polygon points="844.6,1070.5 838.9,1066.7 838.9,1059.3 844.6,1055.5 850.3,1059.3 850.3,1066.7" fill="#fff" stroke="#000" stroke-width="3" stroke-linejoin="round"/><path d="M849.8 1063L839.4 1063M848.3 1066.7L840.9 1059.3M844.6 1068.2L844.6 1057.8M840.9 1066.7L848.3 1059.3" stroke="#000" stroke-width="1.5"/><circle cx="844.6" cy="1063" r="2.1"/><polygon points="902.9,1023.4 897.2,1019.6 897.2,1012.2 902.9,1008.4 908.6,1012.2 908.6,1019.6" fill="#fff" stroke="#000" stroke-width="3" stroke-linejoin="round"/><path d="M908.1 1015.9L897.7 1015.9M906.6 1019.6L899.2 1012.2M902.9 1021.1L902.9 1010.7M899.2 1019.6L906.6 1012.2" stroke="#000" stroke-width="1.5"/><circle cx="902.9" cy="1015.9" r="2.1"/><polygon points="902.9,1041 897.2,1037.2 897.2,1029.8 902.9,1026 908.6,1029.8 908.6,1037.2" fill="#fff" stroke="#000" stroke-width="3" stroke-linejoin="round"/><path d="M908.1 1033.5L897.7 1033.5M906.6 1037.2L899.2 1029.8M902.9 1038.7L902.9 1028.3M899.2 1037.2L906.6 1029.8" stroke="#000" stroke-width="1.5"/><circle cx="902.9" cy="1033.5" r="2.1"/><polygon points="569.3,1068.2 563.6,1064.4 563.6,1057 569.3,1053.2 575,1057 575,1064.4" fill="#fff" stroke="#000" stroke-width="3" stroke-linejoin="round"/><path d="M574.5 1060.7L564.1 1060.7M573 1064.4L565.6 1057M569.3 1065.9L569.3 1055.5M565.6 1064.4L573 1057" stroke="#000" stroke-width="1.5"/><circle cx="569.3" cy="1060.7" r="2.1"/><polygon points="569.3,1087.3 563.6,1083.5 563.6,1076.1 569.3,1072.3 575,1076.1 575,1083.5" fill="#fff" stroke="#000" stroke-width="3" stroke-linejoin="round"/><path d="M574.5 1079.8L564.1 1079.8M573 1083.5L565.6 1076.1M569.3 1085L569.3 1074.6M565.6 1083.5L573 1076.1" stroke="#000" stroke-width="1.5"/><circle cx="569.3" cy="1079.8" r="2.1"/><polygon points="569.3,1105.5 563.6,1101.7 563.6,1094.3 569.3,1090.5 575,1094.3 575,1101.7" fill="#fff" stroke="#000" stroke-width="3" stroke-linejoin="round"/><path d="M574.5 1098L564.1 1098M573 1101.7L565.6 1094.3M569.3 1103.2L569.3 1092.8M565.6 1101.7L573 1094.3" stroke="#000" stroke-width="1.5"/><circle cx="569.3" cy="1098" r="2.1"/><polygon points="569.3,1123.7 563.6,1119.9 563.6,1112.5 569.3,1108.7 575,1112.5 575,1119.9" fill="#fff" stroke="#000" stroke-width="3" stroke-linejoin="round"/><path d="M574.5 1116.2L564.1 1116.2M573 1119.9L565.6 1112.5M569.3 1121.4L569.3 1111M565.6 1119.9L573 1112.5" stroke="#000" stroke-width="1.5"/><circle cx="569.3" cy="1116.2" r="2.1"/><polygon points="569.3,1141.9 563.6,1138.1 563.6,1130.7 569.3,1126.9 575,1130.7 575,1138.1" fill="#fff" stroke="#000" stroke-width="3" stroke-linejoin="round"/><path d="M574.5 1134.4L564.1 1134.4M573 1138.1L565.6 1130.7M569.3 1139.6L569.3 1129.2M565.6 1138.1L573 1130.7" stroke="#000" stroke-width="1.5"/><circle cx="569.3" cy="1134.4" r="2.1"/><polygon points="569.3,1160.1 563.6,1156.3 563.6,1148.9 569.3,1145.1 575,1148.9 575,1156.3" fill="#fff" stroke="#000" stroke-width="3" stroke-linejoin="round"/><path d="M574.5 1152.6L564.1 1152.6M573 1156.3L565.6 1148.9M569.3 1157.8L569.3 1147.4M565.6 1156.3L573 1148.9" stroke="#000" stroke-width="1.5"/><circle cx="569.3" cy="1152.6" r="2.1"/><polygon points="514.7,1051.5 509,1047.7 509,1040.3 514.7,1036.5 520.4,1040.3 520.4,1047.7" fill="#fff" stroke="#000" stroke-width="3" stroke-linejoin="round"/><path d="M519.9 1044L509.5 1044M518.4 1047.7L511 1040.3M514.7 1049.2L514.7 1038.8M511 1047.7L518.4 1040.3" stroke="#000" stroke-width="1.5"/><circle cx="514.7" cy="1044" r="2.1"/><polygon points="514.7,1068.9 509,1065.1 509,1057.7 514.7,1053.9 520.4,1057.7 520.4,1065.1" fill="#fff" stroke="#000" stroke-width="3" stroke-linejoin="round"/><path d="M519.9 1061.4L509.5 1061.4M518.4 1065.1L511 1057.7M514.7 1066.6L514.7 1056.2M511 1065.1L518.4 1057.7" stroke="#000" stroke-width="1.5"/><circle cx="514.7" cy="1061.4" r="2.1"/><polygon points="514.7,1087.5 509,1083.7 509,1076.3 514.7,1072.5 520.4,1076.3 520.4,1083.7" fill="#fff" stroke="#000" stroke-width="3" stroke-linejoin="round"/><path d="M519.9 1080L509.5 1080M518.4 1083.7L511 1076.3M514.7 1085.2L514.7 1074.8M511 1083.7L518.4 1076.3" stroke="#000" stroke-width="1.5"/><circle cx="514.7" cy="1080" r="2.1"/><polygon points="514.7,1106.1 509,1102.3 509,1094.9 514.7,1091.1 520.4,1094.9 520.4,1102.3" fill="#fff" stroke="#000" stroke-width="3" stroke-linejoin="round"/><path d="M519.9 1098.6L509.5 1098.6M518.4 1102.3L511 1094.9M514.7 1103.8L514.7 1093.4M511 1102.3L518.4 1094.9" stroke="#000" stroke-width="1.5"/><circle cx="514.7" cy="1098.6" r="2.1"/><polygon points="514.7,1124.1 509,1120.3 509,1112.9 514.7,1109.1 520.4,1112.9 520.4,1120.3" fill="#fff" stroke="#000" stroke-width="3" stroke-linejoin="round"/><path d="M519.9 1116.6L509.5 1116.6M518.4 1120.3L511 1112.9M514.7 1121.8L514.7 1111.4M511 1120.3L518.4 1112.9" stroke="#000" stroke-width="1.5"/><circle cx="514.7" cy="1116.6" r="2.1"/><polygon points="514.7,1142.7 509,1138.9 509,1131.5 514.7,1127.7 520.4,1131.5 520.4,1138.9" fill="#fff" stroke="#000" stroke-width="3" stroke-linejoin="round"/><path d="M519.9 1135.2L509.5 1135.2M518.4 1138.9L511 1131.5M514.7 1140.4L514.7 1130M511 1138.9L518.4 1131.5" stroke="#000" stroke-width="1.5"/><circle cx="514.7" cy="1135.2" r="2.1"/><polygon points="391.1,1070.5 385.4,1066.7 385.4,1059.3 391.1,1055.5 396.8,1059.3 396.8,1066.7" fill="#fff" stroke="#000" stroke-width="3" stroke-linejoin="round"/><path d="M396.3 1063L385.9 1063M394.8 1066.7L387.4 1059.3M391.1 1068.2L391.1 1057.8M387.4 1066.7L394.8 1059.3" stroke="#000" stroke-width="1.5"/><circle cx="391.1" cy="1063" r="2.1"/><polygon points="332.8,1023.4 327.1,1019.6 327.1,1012.2 332.8,1008.4 338.5,1012.2 338.5,1019.6" fill="#fff" stroke="#000" stroke-width="3" stroke-linejoin="round"/><path d="M338 1015.9L327.6 1015.9M336.5 1019.6L329.1 1012.2M332.8 1021.1L332.8 1010.7M329.1 1019.6L336.5 1012.2" stroke="#000" stroke-width="1.5"/><circle cx="332.8" cy="1015.9" r="2.1"/><polygon points="332.8,1041 327.1,1037.2 327.1,1029.8 332.8,1026 338.5,1029.8 338.5,1037.2" fill="#fff" stroke="#000" stroke-width="3" stroke-linejoin="round"/><path d="M338 1033.5L327.6 1033.5M336.5 1037.2L329.1 1029.8M332.8 1038.7L332.8 1028.3M329.1 1037.2L336.5 1029.8" stroke="#000" stroke-width="1.5"/><circle cx="332.8" cy="1033.5" r="2.1"/><polygon points="780.8,1064.1 775.1,1060.3 775.1,1052.9 780.8,1049.1 786.5,1052.9 786.5,1060.3" fill="#fff" stroke="#000" stroke-width="3" stroke-linejoin="round"/><path d="M786 1056.6L775.6 1056.6M784.5 1060.3L777.1 1052.9M780.8 1061.8L780.8 1051.4M777.1 1060.3L784.5 1052.9" stroke="#000" stroke-width="1.5"/><circle cx="780.8" cy="1056.6" r="2.1"/><polygon points="780.8,1082.5 775.1,1078.7 775.1,1071.3 780.8,1067.5 786.5,1071.3 786.5,1078.7" fill="#fff" stroke="#000" stroke-width="3" stroke-linejoin="round"/><path d="M786 1075L775.6 1075M784.5 1078.7L777.1 1071.3M780.8 1080.2L780.8 1069.8M777.1 1078.7L784.5 1071.3" stroke="#000" stroke-width="1.5"/><circle cx="780.8" cy="1075" r="2.1"/><polygon points="780.8,1101.5 775.1,1097.7 775.1,1090.3 780.8,1086.5 786.5,1090.3 786.5,1097.7" fill="#fff" stroke="#000" stroke-width="3" stroke-linejoin="round"/><path d="M786 1094L775.6 1094M784.5 1097.7L777.1 1090.3M780.8 1099.2L780.8 1088.8M777.1 1097.7L784.5 1090.3" stroke="#000" stroke-width="1.5"/><circle cx="780.8" cy="1094" r="2.1"/><polygon points="454,1067.5 448.3,1063.7 448.3,1056.3 454,1052.5 459.7,1056.3 459.7,1063.7" fill="#fff" stroke="#000" stroke-width="3" stroke-linejoin="round"/><path d="M459.2 1060L448.8 1060M457.7 1063.7L450.3 1056.3M454 1065.2L454 1054.8M450.3 1063.7L457.7 1056.3" stroke="#000" stroke-width="1.5"/><circle cx="454" cy="1060" r="2.1"/><polygon points="454,1085 448.3,1081.2 448.3,1073.8 454,1070 459.7,1073.8 459.7,1081.2" fill="#fff" stroke="#000" stroke-width="3" stroke-linejoin="round"/><path d="M459.2 1077.5L448.8 1077.5M457.7 1081.2L450.3 1073.8M454 1082.7L454 1072.3M450.3 1081.2L457.7 1073.8" stroke="#000" stroke-width="1.5"/><circle cx="454" cy="1077.5" r="2.1"/><polygon points="617.9,1111.5 612.1,1107.7 612.1,1100.3 617.9,1096.5 623.6,1100.3 623.6,1107.7" fill="#fff" stroke="#000" stroke-width="3" stroke-linejoin="round"/><path d="M623.1 1104L612.6 1104M621.5 1107.7L614.2 1100.3M617.9 1109.2L617.9 1098.8M614.2 1107.7L621.5 1100.3" stroke="#000" stroke-width="1.5"/><circle cx="617.9" cy="1104" r="2.1"/><polygon points="617.9,1129.5 612.1,1125.7 612.1,1118.3 617.9,1114.5 623.6,1118.3 623.6,1125.7" fill="#fff" stroke="#000" stroke-width="3" stroke-linejoin="round"/><path d="M623.1 1122L612.6 1122M621.5 1125.7L614.2 1118.3M617.9 1127.2L617.9 1116.8M614.2 1125.7L621.5 1118.3" stroke="#000" stroke-width="1.5"/><circle cx="617.9" cy="1122" r="2.1"/><polygon points="617.9,1147.9 612.1,1144.1 612.1,1136.7 617.9,1132.9 623.6,1136.7 623.6,1144.1" fill="#fff" stroke="#000" stroke-width="3" stroke-linejoin="round"/><path d="M623.1 1140.4L612.6 1140.4M621.5 1144.1L614.2 1136.7M617.9 1145.6L617.9 1135.2M614.2 1144.1L621.5 1136.7" stroke="#000" stroke-width="1.5"/><circle cx="617.9" cy="1140.4" r="2.1"/><polygon points="617.9,1166.1 612.1,1162.3 612.1,1154.9 617.9,1151.1 623.6,1154.9 623.6,1162.3" fill="#fff" stroke="#000" stroke-width="3" stroke-linejoin="round"/><path d="M623.1 1158.6L612.6 1158.6M621.5 1162.3L614.2 1154.9M617.9 1163.8L617.9 1153.4M614.2 1162.3L621.5 1154.9" stroke="#000" stroke-width="1.5"/><circle cx="617.9" cy="1158.6" r="2.1"/><polygon points="617.9,1184.3 612.1,1180.5 612.1,1173.1 617.9,1169.3 623.6,1173.1 623.6,1180.5" fill="#fff" stroke="#000" stroke-width="3" stroke-linejoin="round"/><path d="M623.1 1176.8L612.6 1176.8M621.5 1180.5L614.2 1173.1M617.9 1182L617.9 1171.6M614.2 1180.5L621.5 1173.1" stroke="#000" stroke-width="1.5"/><circle cx="617.9" cy="1176.8" r="2.1"/><polygon points="617.9,1202.5 612.1,1198.7 612.1,1191.3 617.9,1187.5 623.6,1191.3 623.6,1198.7" fill="#fff" stroke="#000" stroke-width="3" stroke-linejoin="round"/><path d="M623.1 1195L612.6 1195M621.5 1198.7L614.2 1191.3M617.9 1200.2L617.9 1189.8M614.2 1198.7L621.5 1191.3" stroke="#000" stroke-width="1.5"/><circle cx="617.9" cy="1195" r="2.1"/><polygon points="687.9,1034.7 683.8,1037.4 682.9,1042.2 678.1,1041.2 674,1044 671.3,1039.9 666.5,1039 667.5,1034.2 664.7,1030.1 668.8,1027.4 669.7,1022.6 674.5,1023.6 678.6,1020.8 681.3,1024.9 686.1,1025.8 685.1,1030.6" fill="#000" stroke="#000" stroke-width="1.2" stroke-linejoin="round"/><circle cx="676.3" cy="1032.4" r="7.2" fill="#fff" stroke="#000" stroke-width="2"/><path d="M682.5 1032.4L670.1 1032.4M680.7 1036.8L671.9 1028M676.3 1038.6L676.3 1026.2M671.9 1036.8L680.7 1028" stroke="#000" stroke-width="1.3"/><circle cx="676.3" cy="1032.4" r="2" fill="#000"/><polygon points="571,1034.7 566.9,1037.4 566,1042.2 561.2,1041.2 557.1,1044 554.4,1039.9 549.6,1039 550.6,1034.2 547.8,1030.1 551.9,1027.4 552.8,1022.6 557.6,1023.6 561.7,1020.8 564.4,1024.9 569.2,1025.8 568.2,1030.6" fill="#000" stroke="#000" stroke-width="1.2" stroke-linejoin="round"/><circle cx="559.4" cy="1032.4" r="7.2" fill="#fff" stroke="#000" stroke-width="2"/><path d="M565.6 1032.4L553.2 1032.4M563.8 1036.8L555 1028M559.4 1038.6L559.4 1026.2M555 1036.8L563.8 1028" stroke="#000" stroke-width="1.3"/><circle cx="559.4" cy="1032.4" r="2" fill="#000"/><polygon points="731.6,1019.3 727.5,1022 726.6,1026.8 721.8,1025.8 717.7,1028.6 715,1024.5 710.2,1023.6 711.2,1018.8 708.4,1014.7 712.5,1012 713.4,1007.2 718.2,1008.2 722.3,1005.4 725,1009.5 729.8,1010.4 728.8,1015.2" fill="#000" stroke="#000" stroke-width="1.2" stroke-linejoin="round"/><circle cx="720" cy="1017" r="7.2" fill="#fff" stroke="#000" stroke-width="2"/><path d="M726.2 1017L713.8 1017M724.4 1021.4L715.6 1012.6M720 1023.2L720 1010.8M715.6 1021.4L724.4 1012.6" stroke="#000" stroke-width="1.3"/><circle cx="720" cy="1017" r="2" fill="#000"/><polygon points="527.3,1019.3 523.2,1022 522.3,1026.8 517.5,1025.8 513.4,1028.6 510.7,1024.5 505.9,1023.6 506.9,1018.8 504.1,1014.7 508.2,1012 509.1,1007.2 513.9,1008.2 518,1005.4 520.7,1009.5 525.5,1010.4 524.5,1015.2" fill="#000" stroke="#000" stroke-width="1.2" stroke-linejoin="round"/><circle cx="515.7" cy="1017" r="7.2" fill="#fff" stroke="#000" stroke-width="2"/><path d="M521.9 1017L509.5 1017M520.1 1021.4L511.3 1012.6M515.7 1023.2L515.7 1010.8M511.3 1021.4L520.1 1012.6" stroke="#000" stroke-width="1.3"/><circle cx="515.7" cy="1017" r="2" fill="#000"/><polygon points="797.9,1034.7 793.8,1037.4 792.9,1042.2 788.1,1041.2 784,1044 781.3,1039.9 776.5,1039 777.5,1034.2 774.7,1030.1 778.8,1027.4 779.7,1022.6 784.5,1023.6 788.6,1020.8 791.3,1024.9 796.1,1025.8 795.1,1030.6" fill="#000" stroke="#000" stroke-width="1.2" stroke-linejoin="round"/><circle cx="786.3" cy="1032.4" r="7.2" fill="#fff" stroke="#000" stroke-width="2"/><path d="M792.5 1032.4L780.1 1032.4M790.7 1036.8L781.9 1028M786.3 1038.6L786.3 1026.2M781.9 1036.8L790.7 1028" stroke="#000" stroke-width="1.3"/><circle cx="786.3" cy="1032.4" r="2" fill="#000"/><polygon points="461,1034.7 456.9,1037.4 456,1042.2 451.2,1041.2 447.1,1044 444.4,1039.9 439.6,1039 440.6,1034.2 437.8,1030.1 441.9,1027.4 442.8,1022.6 447.6,1023.6 451.7,1020.8 454.4,1024.9 459.2,1025.8 458.2,1030.6" fill="#000" stroke="#000" stroke-width="1.2" stroke-linejoin="round"/><circle cx="449.4" cy="1032.4" r="7.2" fill="#fff" stroke="#000" stroke-width="2"/><path d="M455.6 1032.4L443.2 1032.4M453.8 1036.8L445 1028M449.4 1038.6L449.4 1026.2M445 1036.8L453.8 1028" stroke="#000" stroke-width="1.3"/><circle cx="449.4" cy="1032.4" r="2" fill="#000"/><polygon points="852.9,1040.2 848.8,1042.9 847.9,1047.7 843.1,1046.7 839,1049.5 836.3,1045.4 831.5,1044.5 832.5,1039.7 829.7,1035.6 833.8,1032.9 834.7,1028.1 839.5,1029.1 843.6,1026.3 846.3,1030.4 851.1,1031.3 850.1,1036.1" fill="#000" stroke="#000" stroke-width="1.2" stroke-linejoin="round"/><circle cx="841.3" cy="1037.9" r="7.2" fill="#fff" stroke="#000" stroke-width="2"/><path d="M847.5 1037.9L835.1 1037.9M845.7 1042.3L836.9 1033.5M841.3 1044.1L841.3 1031.7M836.9 1042.3L845.7 1033.5" stroke="#000" stroke-width="1.3"/><circle cx="841.3" cy="1037.9" r="2" fill="#000"/><polygon points="406,1040.2 401.9,1042.9 401,1047.7 396.2,1046.7 392.1,1049.5 389.4,1045.4 384.6,1044.5 385.6,1039.7 382.8,1035.6 386.9,1032.9 387.8,1028.1 392.6,1029.1 396.7,1026.3 399.4,1030.4 404.2,1031.3 403.2,1036.1" fill="#000" stroke="#000" stroke-width="1.2" stroke-linejoin="round"/><circle cx="394.4" cy="1037.9" r="7.2" fill="#fff" stroke="#000" stroke-width="2"/><path d="M400.6 1037.9L388.2 1037.9M398.8 1042.3L390 1033.5M394.4 1044.1L394.4 1031.7M390 1042.3L398.8 1033.5" stroke="#000" stroke-width="1.3"/><circle cx="394.4" cy="1037.9" r="2" fill="#000"/><polygon points="562.5,889.4 557.2,886 557.2,879 562.5,875.6 567.8,879 567.8,886" fill="#fff" stroke="#000" stroke-width="3" stroke-linejoin="round"/><path d="M567.3 882.5L557.7 882.5M565.9 885.9L559.1 879.1M562.5 887.3L562.5 877.7M559.1 885.9L565.9 879.1" stroke="#000" stroke-width="1.5"/><circle cx="562.5" cy="882.5" r="1.9"/><polygon points="499.6,998.3 495.5,1001 494.6,1005.8 489.8,1004.8 485.7,1007.6 483,1003.5 478.2,1002.6 479.2,997.8 476.4,993.7 480.5,991 481.4,986.2 486.2,987.2 490.3,984.4 493,988.5 497.8,989.4 496.8,994.2" fill="#000" stroke="#000" stroke-width="1.2" stroke-linejoin="round"/><circle cx="488" cy="996" r="7.2" fill="#fff" stroke="#000" stroke-width="2"/><path d="M494.2 996L481.8 996M492.4 1000.4L483.6 991.6M488 1002.2L488 989.8M483.6 1000.4L492.4 991.6" stroke="#000" stroke-width="1.3"/><circle cx="488" cy="996" r="2" fill="#000"/><polygon points="461.7,940.3 456.6,936.9 456.6,930.3 461.7,926.9 466.8,930.3 466.8,936.9" fill="#fff" stroke="#000" stroke-width="3" stroke-linejoin="round"/><path d="M466.3 933.6L457.1 933.6M465 936.9L458.4 930.3M461.7 938.2L461.7 929M458.4 936.9L465 930.3" stroke="#000" stroke-width="1.5"/><circle cx="461.7" cy="933.6" r="1.9"/><polygon points="474.8,955.3 469.7,951.9 469.7,945.3 474.8,941.9 479.9,945.3 479.9,951.9" fill="#fff" stroke="#000" stroke-width="3" stroke-linejoin="round"/><path d="M479.4 948.6L470.2 948.6M478.1 951.9L471.5 945.3M474.8 953.2L474.8 944M471.5 951.9L478.1 945.3" stroke="#000" stroke-width="1.5"/><circle cx="474.8" cy="948.6" r="1.9"/><polygon points="486.2,967.5 481.1,964.1 481.1,957.5 486.2,954.1 491.3,957.5 491.3,964.1" fill="#fff" stroke="#000" stroke-width="3" stroke-linejoin="round"/><path d="M490.8 960.8L481.6 960.8M489.5 964.1L482.9 957.5M486.2 965.4L486.2 956.2M482.9 964.1L489.5 957.5" stroke="#000" stroke-width="1.5"/><circle cx="486.2" cy="960.8" r="1.9"/><polygon points="498.1,954.3 493,950.9 493,944.3 498.1,940.9 503.2,944.3 503.2,950.9" fill="#fff" stroke="#000" stroke-width="3" stroke-linejoin="round"/><path d="M502.7 947.6L493.5 947.6M501.4 950.9L494.8 944.3M498.1 952.2L498.1 943M494.8 950.9L501.4 944.3" stroke="#000" stroke-width="1.5"/><circle cx="498.1" cy="947.6" r="1.9"/><polygon points="510.7,941 505.6,937.6 505.6,931 510.7,927.6 515.8,931 515.8,937.6" fill="#fff" stroke="#000" stroke-width="3" stroke-linejoin="round"/><path d="M515.3 934.3L506.1 934.3M514 937.6L507.4 931M510.7 938.9L510.7 929.7M507.4 937.6L514 931" stroke="#000" stroke-width="1.5"/><circle cx="510.7" cy="934.3" r="1.9"/><polygon points="333.8,1014.7 328.7,1011.3 328.7,1004.7 333.8,1001.3 338.9,1004.7 338.9,1011.3" fill="#fff" stroke="#000" stroke-width="3" stroke-linejoin="round"/><path d="M338.4 1008L329.2 1008M337.1 1011.3L330.5 1004.7M333.8 1012.6L333.8 1003.4M330.5 1011.3L337.1 1004.7" stroke="#000" stroke-width="1.5"/><circle cx="333.8" cy="1008" r="1.9"/><polygon points="321.8,1027.2 316.7,1023.8 316.7,1017.2 321.8,1013.8 326.9,1017.2 326.9,1023.8" fill="#fff" stroke="#000" stroke-width="3" stroke-linejoin="round"/><path d="M326.4 1020.5L317.2 1020.5M325.1 1023.8L318.5 1017.2M321.8 1025.1L321.8 1015.9M318.5 1023.8L325.1 1017.2" stroke="#000" stroke-width="1.5"/><circle cx="321.8" cy="1020.5" r="1.9"/><polygon points="309.8,1040.5 304.7,1037.1 304.7,1030.5 309.8,1027.1 314.9,1030.5 314.9,1037.1" fill="#fff" stroke="#000" stroke-width="3" stroke-linejoin="round"/><path d="M314.4 1033.8L305.2 1033.8M313.1 1037.1L306.5 1030.5M309.8 1038.4L309.8 1029.2M306.5 1037.1L313.1 1030.5" stroke="#000" stroke-width="1.5"/><circle cx="309.8" cy="1033.8" r="1.9"/><polygon points="297.8,1053.8 292.7,1050.4 292.7,1043.8 297.8,1040.4 302.9,1043.8 302.9,1050.4" fill="#fff" stroke="#000" stroke-width="3" stroke-linejoin="round"/><path d="M302.4 1047.1L293.2 1047.1M301.1 1050.4L294.5 1043.8M297.8 1051.7L297.8 1042.5M294.5 1050.4L301.1 1043.8" stroke="#000" stroke-width="1.5"/><circle cx="297.8" cy="1047.1" r="1.9"/><polygon points="285.1,1067.1 280,1063.7 280,1057.1 285.1,1053.7 290.2,1057.1 290.2,1063.7" fill="#fff" stroke="#000" stroke-width="3" stroke-linejoin="round"/><path d="M289.7 1060.4L280.5 1060.4M288.4 1063.7L281.8 1057.1M285.1 1065L285.1 1055.8M281.8 1063.7L288.4 1057.1" stroke="#000" stroke-width="1.5"/><circle cx="285.1" cy="1060.4" r="1.9"/><polygon points="272.4,1081.1 267.3,1077.7 267.3,1071.1 272.4,1067.7 277.5,1071.1 277.5,1077.7" fill="#fff" stroke="#000" stroke-width="3" stroke-linejoin="round"/><path d="M277 1074.4L267.8 1074.4M275.7 1077.7L269.1 1071.1M272.4 1079L272.4 1069.8M269.1 1077.7L275.7 1071.1" stroke="#000" stroke-width="1.5"/><circle cx="272.4" cy="1074.4" r="1.9"/><polygon points="261,1095 255.9,1091.6 255.9,1085 261,1081.6 266.1,1085 266.1,1091.6" fill="#fff" stroke="#000" stroke-width="3" stroke-linejoin="round"/><path d="M265.6 1088.3L256.4 1088.3M264.3 1091.6L257.7 1085M261 1092.9L261 1083.7M257.7 1091.6L264.3 1085" stroke="#000" stroke-width="1.5"/><circle cx="261" cy="1088.3" r="1.9"/><polygon points="249,1081.7 243.9,1078.3 243.9,1071.7 249,1068.3 254.1,1071.7 254.1,1078.3" fill="#fff" stroke="#000" stroke-width="3" stroke-linejoin="round"/><path d="M253.6 1075L244.4 1075M252.3 1078.3L245.7 1071.7M249 1079.6L249 1070.4M245.7 1078.3L252.3 1071.7" stroke="#000" stroke-width="1.5"/><circle cx="249" cy="1075" r="1.9"/></g><path d="M902 847.3C912 847.3 918 845 918 842C918 838.5 909 836.5 898.5 836.5C888 836.5 879 838.5 879 842C879 844.5 882 846 886 846.8" fill="none" stroke="#000" stroke-width="2.2"/><path d="M900 845.5L907 846.5L901 849.3Z M884 844.5L889 847L884 848.5Z"/><path d="M908.4 877.3H950M904 919H948M938 948.8H963.4M955.7 997.2H1000" stroke="#000" stroke-width="1.4"/><text x="948" y="885" font-size="20" font-family="Liberation Serif" font-weight="bold">11</text><text x="946" y="927" font-size="20" font-family="Liberation Serif" font-weight="bold">10</text><text x="966.5" y="955" font-size="20" font-family="Liberation Serif" font-weight="bold">9</text><text x="997" y="1004" font-size="20" font-family="Liberation Serif" font-weight="bold">12</text><g font-family="Liberation Serif" font-weight="normal" font-size="56.5" fill="#000" stroke="#000" stroke-width="1.6"><text x="1437.1" y="268.2" textLength="26" lengthAdjust="spacingAndGlyphs">C</text><text x="1463.4" y="268.2" textLength="26" lengthAdjust="spacingAndGlyphs">E</text><text x="1493.3" y="268.2">I</text><text x="1515.9" y="268.2" textLength="26" lengthAdjust="spacingAndGlyphs">L</text><text x="1545.8" y="268.2">I</text><text x="1568.5" y="268.2" textLength="26" lengthAdjust="spacingAndGlyphs">N</text><text x="1594.8" y="268.2" textLength="26" lengthAdjust="spacingAndGlyphs">G</text><text x="1647.3" y="268.2" textLength="26" lengthAdjust="spacingAndGlyphs">P</text><text x="1673.6" y="268.2" textLength="26" lengthAdjust="spacingAndGlyphs">A</text><text x="1699.8" y="268.2" textLength="26" lengthAdjust="spacingAndGlyphs">N</text><text x="1752.4" y="268.2" textLength="26" lengthAdjust="spacingAndGlyphs">S</text><text x="1782.2" y="268.2">I</text><text x="1804.9" y="268.2" textLength="26" lengthAdjust="spacingAndGlyphs">Z</text><text x="1831.2" y="268.2" textLength="26" lengthAdjust="spacingAndGlyphs">E</text></g><path d="M1597.6 309V329M1725.2 309V329M1597.6 311.3H1627M1696.6 311.3H1725.2" stroke="#000" stroke-width="1.4"/><g font-family="Liberation Serif" font-weight="normal" font-size="29" fill="#000" stroke="#000" stroke-width="0.6"><text x="1628.6" y="319.3" textLength="12.8" lengthAdjust="spacingAndGlyphs">1</text><text x="1641.5" y="319.3" textLength="12.8" lengthAdjust="spacingAndGlyphs">2</text><text x="1654.5" y="319.3" textLength="12.8" lengthAdjust="spacingAndGlyphs">0</text><text x="1667.4" y="319.3" textLength="12.8" lengthAdjust="spacingAndGlyphs">M</text><text x="1680.3" y="319.3" textLength="12.8" lengthAdjust="spacingAndGlyphs">M</text></g><path d="M1596 340.6H1726.7" stroke="#000" stroke-width="3.2"/><path d="M1597.6 342C1598 352 1603 360 1611 361.5H1712C1720 360 1725 352 1725.5 342" fill="none" stroke="#000" stroke-width="2"/><path d="M1610.8 362H1712" stroke="#000" stroke-width="3.4"/><path d="M1612.3 362C1628 372 1635 390 1637 414C1638 421 1641 425 1645 425H1678C1682 425 1685 421 1686 414C1688 390 1695 372 1711 362" fill="none" stroke="#000" stroke-width="2.2"/><path d="M1644.5 425.5H1678.3" stroke="#000" stroke-width="3"/><path d="M1652.5 355C1652.5 342 1670.5 342 1670.5 355V490C1670.5 497 1666 501 1661.5 501C1657 501 1652.5 497 1652.5 490Z" fill="#fff" stroke="#000" stroke-width="3"/><path d="M1657 357C1657 351 1666 351 1666 357V362H1657Z" fill="#fff" stroke="#000" stroke-width="1.4"/><path d="M1652.5 360H1670.5V382H1652.5ZM1652.5 426H1670.5V437H1652.5ZM1652.5 464H1670.5V484H1652.5Z" fill="none" stroke="#000" stroke-width="3"/><path d="M1657 367H1660V379H1657ZM1663 367H1666V379H1663ZM1657 468H1660V481H1657ZM1663 468H1666V481H1663Z" fill="none" stroke="#000" stroke-width="1.3"/><path d="M1658 488C1658 493 1661.5 497 1661.5 497C1661.5 497 1665 493 1665 488Z" fill="none" stroke="#000" stroke-width="1.2"/><path d="M1726.7 340.6H1849.2M1671 436H1778.8M1663.6 499H1849.2M1778.8 341V436M1849.2 341V499" stroke="#000" stroke-width="1.4" fill="none"/><path d="M1777 351L1778.8 341L1780.6 351ZM1777 426L1778.8 436L1780.6 426ZM1847.4 351L1849.2 341L1851 351ZM1847.4 489L1849.2 499L1851 489Z"/><g font-family="Liberation Serif" font-weight="bold" font-size="22.3" fill="#000" stroke="#000" stroke-width="0.5"><text x="1756.3" y="395.6" textLength="10.6" lengthAdjust="spacingAndGlyphs">9</text><text x="1767" y="395.6" textLength="10.6" lengthAdjust="spacingAndGlyphs">5</text><text x="1777.8" y="395.6" textLength="10.6" lengthAdjust="spacingAndGlyphs">M</text><text x="1788.4" y="395.6" textLength="10.6" lengthAdjust="spacingAndGlyphs">M</text></g><g font-family="Liberation Serif" font-weight="bold" font-size="23.5" fill="#000" stroke="#000" stroke-width="0.4"><text x="1820.8" y="428" textLength="10.5" lengthAdjust="spacingAndGlyphs">1</text><text x="1831.4" y="428" textLength="10.5" lengthAdjust="spacingAndGlyphs">7</text><text x="1842" y="428" textLength="10.5" lengthAdjust="spacingAndGlyphs">0</text><text x="1852.6" y="428" textLength="10.5" lengthAdjust="spacingAndGlyphs">M</text><text x="1863.2" y="428" textLength="10.5" lengthAdjust="spacingAndGlyphs">M</text></g><g font-family="Liberation Serif" font-weight="bold" font-size="42.7" fill="#000" stroke="#000" stroke-width="0.9"><text x="1444.2" y="589.1" textLength="18.6" lengthAdjust="spacingAndGlyphs">F</text><text x="1464" y="589.1">I</text><text x="1482" y="589.1" textLength="18.6" lengthAdjust="spacingAndGlyphs">X</text><text x="1500.9" y="589.1" textLength="18.6" lengthAdjust="spacingAndGlyphs">T</text><text x="1519.8" y="589.1" textLength="18.6" lengthAdjust="spacingAndGlyphs">U</text><text x="1538.7" y="589.1" textLength="18.6" lengthAdjust="spacingAndGlyphs">R</text><text x="1557.6" y="589.1" textLength="18.6" lengthAdjust="spacingAndGlyphs">E</text><text x="1595.4" y="589.1" textLength="18.6" lengthAdjust="spacingAndGlyphs">S</text><text x="1615.2" y="589.1">I</text><text x="1633.2" y="589.1" textLength="18.6" lengthAdjust="spacingAndGlyphs">Z</text><text x="1652.1" y="589.1" textLength="18.6" lengthAdjust="spacingAndGlyphs">E</text><text x="1673.1" y="589.1">:</text></g><path d="M1538.7 808V901.3M1538.7 808H1570.7M1538.7 901.3H1564M1476 848V1193M1476 848H1494.7M1476 1193H1494M1553 1230V1246.3M2022.4 1230V1246.3M1553 1246.3H1743M1834 1246.3H2022.4" stroke="#000" stroke-width="1.4" fill="none"/><g font-family="Liberation Serif" font-weight="bold" font-size="32.7" fill="#000" stroke="#000" stroke-width="0.5"><text x="1511.6" y="866.7" textLength="14.5" lengthAdjust="spacingAndGlyphs">1</text><text x="1526.3" y="866.7" textLength="14.5" lengthAdjust="spacingAndGlyphs">0</text><text x="1540.9" y="866.7" textLength="14.5" lengthAdjust="spacingAndGlyphs">0</text><text x="1555.6" y="866.7" textLength="14.5" lengthAdjust="spacingAndGlyphs">0</text><text x="1570.3" y="866.7" textLength="14.5" lengthAdjust="spacingAndGlyphs">M</text><text x="1584.9" y="866.7" textLength="14.5" lengthAdjust="spacingAndGlyphs">M</text></g><rect x="1470" y="988" width="12" height="27" fill="#fff"/><g font-family="Liberation Serif" font-weight="bold" font-size="32.5" fill="#000" stroke="#000" stroke-width="0.5"><text x="1438.6" y="1013.3" textLength="14.8" lengthAdjust="spacingAndGlyphs">5</text><text x="1453.7" y="1013.3" textLength="14.8" lengthAdjust="spacingAndGlyphs">2</text><text x="1468.8" y="1013.3" textLength="14.8" lengthAdjust="spacingAndGlyphs">0</text><text x="1483.9" y="1013.3" textLength="14.8" lengthAdjust="spacingAndGlyphs">M</text><text x="1499" y="1013.3" textLength="14.8" lengthAdjust="spacingAndGlyphs">M</text></g><g font-family="Liberation Serif" font-weight="bold" font-size="30.5" fill="#000" stroke="#000" stroke-width="0.4"><text x="1743.7" y="1253.8" textLength="14.6" lengthAdjust="spacingAndGlyphs">ø</text><text x="1758.6" y="1253.8" textLength="14.6" lengthAdjust="spacingAndGlyphs">7</text><text x="1773.6" y="1253.8" textLength="14.6" lengthAdjust="spacingAndGlyphs">7</text><text x="1788.5" y="1253.8" textLength="14.6" lengthAdjust="spacingAndGlyphs">0</text><text x="1803.5" y="1253.8" textLength="14.6" lengthAdjust="spacingAndGlyphs">M</text><text x="1818.4" y="1253.8" textLength="14.6" lengthAdjust="spacingAndGlyphs">M</text></g><g transform="translate(1336.4 293.2) scale(0.733)"><path d="M510 762A63 78 0 0 1 573 840M511 778A46 62 0 0 1 557 840" fill="none" stroke="#000" stroke-width="3"/><path d="M503 770V812" stroke="#000" stroke-width="3.8"/><path d="M551 849C547.2 850.2 534.7 852 528 856C521.3 860 514.7 866.5 511 873C507.3 879.5 506.5 887 506 895C505.5 903 507.7 916.7 508 921" fill="none" stroke="#000" stroke-width="3"/><path d="M553 866C550.5 866.8 542.5 868 538 871C533.5 874 528.7 879.2 526 884C523.3 888.8 522.7 895 522 900C521.3 905 522 911.7 522 914" fill="none" stroke="#000" stroke-width="3"/><path d="M531 925C531.7 927.5 534.5 934.2 535 940C535.5 945.8 535.8 953 534 960C532.2 967 528.7 975.7 524 982C519.3 988.3 509 995.3 506 998" fill="none" stroke="#000" stroke-width="3"/><path d="M516 936C516.3 938.3 518 945.5 518 950C518 954.5 517.2 959.2 516 963C514.8 966.8 513.3 970.2 511 973C508.7 975.8 503.5 978.8 502 980" fill="none" stroke="#000" stroke-width="3"/><path d="M725.7 762A63 78 0 0 0 662.7 840M724.7 778A46 62 0 0 0 678.7 840" fill="none" stroke="#000" stroke-width="3"/><path d="M732.7 770V812" stroke="#000" stroke-width="3.8"/><path d="M684.7 849C688.5 850.2 701 852 707.7 856C714.4 860 721 866.5 724.7 873C728.4 879.5 729.2 887 729.7 895C730.2 903 728 916.7 727.7 921" fill="none" stroke="#000" stroke-width="3"/><path d="M682.7 866C685.2 866.8 693.2 868 697.7 871C702.2 874 707 879.2 709.7 884C712.4 888.8 713 895 713.7 900C714.4 905 713.7 911.7 713.7 914" fill="none" stroke="#000" stroke-width="3"/><path d="M702.7 931C702.3 934.7 699.2 944.9 700.5 953C701.8 961.1 704 971.1 710.4 979.6C716.8 988.1 734.2 999.8 739 1003.8" fill="none" stroke="#000" stroke-width="3"/><path d="M719.2 931C718.8 933.6 715.9 939.6 717 946.6C718.1 953.6 721.4 966.4 725.8 973C730.2 979.6 740.5 983.8 743.4 986" fill="none" stroke="#000" stroke-width="3"/><path d="M668 1037C669.4 1035.5 671.8 1031.3 676.3 1028C680.8 1024.7 687.7 1019.9 695 1017C702.3 1014.1 711.1 1011.1 720.3 1010.4C729.5 1009.7 739 1010 750 1012.6C761 1015.2 775.3 1022.7 786.3 1025.8C797.3 1028.9 806.8 1030.8 816 1031.3C825.2 1031.8 832.1 1031.4 841.3 1029C850.5 1026.6 863.1 1021.9 871 1017C878.9 1012.1 885.7 1002.3 888.6 999.4" fill="none" stroke="#000" stroke-width="3"/><path d="M567.7 1037C566.3 1035.5 563.9 1031.3 559.4 1028C554.9 1024.7 548 1019.9 540.7 1017C533.4 1014.1 524.6 1011.1 515.4 1010.4C506.2 1009.7 496.7 1010 485.7 1012.6C474.7 1015.2 460.4 1022.7 449.4 1025.8C438.4 1028.9 428.9 1030.8 419.7 1031.3C410.5 1031.8 403.6 1031.4 394.4 1029C385.2 1026.6 372.6 1021.9 364.7 1017C356.8 1012.1 350 1002.3 347.1 999.4" fill="none" stroke="#000" stroke-width="3"/><path d="M668 1040C671.8 1039.5 681.9 1039 690.6 1036.8C699.3 1034.6 710.4 1028.4 720.3 1026.9C730.2 1025.4 739 1025.6 750 1028C761 1030.4 775.3 1037.7 786.3 1041.2C797.3 1044.7 806.8 1047.8 816 1048.9C825.2 1050 832.1 1050.2 841.3 1047.8C850.5 1045.4 862 1041.2 871 1034.6C880 1028 891.2 1012.6 895.2 1008.2" fill="none" stroke="#000" stroke-width="3"/><path d="M567.7 1040C563.9 1039.5 553.8 1039 545.1 1036.8C536.4 1034.6 525.3 1028.4 515.4 1026.9C505.5 1025.4 496.7 1025.6 485.7 1028C474.7 1030.4 460.4 1037.7 449.4 1041.2C438.4 1044.7 428.9 1047.8 419.7 1048.9C410.5 1050 403.6 1050.2 394.4 1047.8C385.2 1045.4 373.7 1041.2 364.7 1034.6C355.7 1028 344.5 1012.6 340.5 1008.2" fill="none" stroke="#000" stroke-width="3"/><path d="M341.9 851.7C333.9 862 326.9 876 326.9 888C326.9 898 330.9 904 332.4 908.3H351.4 C352.9 904 356.9 898 356.9 888C356.9 876 349.9 862 341.9 851.7Z" fill="#fff" stroke="#000" stroke-width="1.8"/><path d="M333.4 888C333.9 894 336.9 899 337.9 902M350.4 888C349.9 894 346.9 899 345.9 902M333.4 888L336.9 883L338.9 887M350.4 888L346.9 883L344.9 887M336.9 889L340.9 900M346.9 889L342.9 900" fill="none" stroke="#000" stroke-width="2.2"/><path d="M337.4 901H346.4 V908.3H337.4 Z" fill="#000"/><path d="M338.4 903.5H345.4 M338.4 906H345.4" stroke="#fff" stroke-width="1.2"/><path d="M334.9 884L338.4 882L341.9 885L345.4 882L348.9 884L346.4 900L346.4 908H337.4 L337.4 900Z" fill="#000"/><rect x="331.5" y="908.3" width="20.8" height="38.4" fill="#fff" stroke="#000" stroke-width="1.8"/><path d="M297.5 946.7H386.6 C383.6 962 368.6 975 355.9 975H327.9 C315.5 975 300.5 962 297.5 946.7Z" fill="#fff" stroke="#000" stroke-width="3"/><g fill="none" stroke="#000" stroke-width="2.8"><rect x="300.9" y="949" width="10" height="6" rx="3"/><rect x="312.9" y="949" width="10" height="6" rx="3"/><rect x="324.9" y="949" width="10" height="6" rx="3"/><rect x="336.9" y="949" width="10" height="6" rx="3"/><rect x="348.9" y="949" width="10" height="6" rx="3"/><rect x="360.9" y="949" width="10" height="6" rx="3"/><rect x="372.9" y="949" width="10" height="6" rx="3"/><rect x="306.9" y="957" width="10" height="6" rx="3"/><rect x="318.9" y="957" width="10" height="6" rx="3"/><rect x="330.9" y="957" width="10" height="6" rx="3"/><rect x="342.9" y="957" width="10" height="6" rx="3"/><rect x="354.9" y="957" width="10" height="6" rx="3"/><rect x="366.9" y="957" width="10" height="6" rx="3"/><rect x="312.9" y="965" width="10" height="6" rx="3"/><rect x="324.9" y="965" width="10" height="6" rx="3"/><rect x="336.9" y="965" width="10" height="6" rx="3"/><rect x="348.9" y="965" width="10" height="6" rx="3"/><rect x="360.9" y="965" width="10" height="6" rx="3"/></g><path d="M331.5 946V975M352.3 946V975" stroke="#000" stroke-width="1.8"/><path d="M304 948C307 957 313 963 321 966M379.6 946.7C376 958 366 966 354 969V975.5" fill="none" stroke="#e050d0" stroke-width="2"/><path d="M333.9 975L338.9 990M349.9 975L344.9 990M332.9 977H350.9" fill="none" stroke="#000" stroke-width="2"/><path d="M298.5 968V978" stroke="#000" stroke-width="3.8"/><path d="M384.4 968V978" stroke="#000" stroke-width="3.8"/><path d="M893.8 851.7C885.8 862 878.8 876 878.8 888C878.8 898 882.8 904 884.3 908.3H903.3 C904.8 904 908.8 898 908.8 888C908.8 876 901.8 862 893.8 851.7Z" fill="#fff" stroke="#000" stroke-width="1.8"/><path d="M885.3 888C885.8 894 888.8 899 889.8 902M902.3 888C901.8 894 898.8 899 897.8 902M885.3 888L888.8 883L890.8 887M902.3 888L898.8 883L896.8 887M888.8 889L892.8 900M898.8 889L894.8 900" fill="none" stroke="#000" stroke-width="2.2"/><path d="M889.3 901H898.3 V908.3H889.3 Z" fill="#000"/><path d="M890.3 903.5H897.3 M890.3 906H897.3" stroke="#fff" stroke-width="1.2"/><path d="M886.8 884L890.3 882L893.8 885L897.3 882L900.8 884L898.3 900L898.3 908H889.3 L889.3 900Z" fill="#000"/><rect x="883.4" y="908.3" width="20.8" height="38.4" fill="#fff" stroke="#000" stroke-width="1.8"/><path d="M849.1 946.7H938.2 C935.2 962 920.2 975 907.8 975H879.8 C867.1 975 852.1 962 849.1 946.7Z" fill="#fff" stroke="#000" stroke-width="3"/><g fill="none" stroke="#000" stroke-width="2.8"><rect x="852.8" y="949" width="10" height="6" rx="3"/><rect x="864.8" y="949" width="10" height="6" rx="3"/><rect x="876.8" y="949" width="10" height="6" rx="3"/><rect x="888.8" y="949" width="10" height="6" rx="3"/><rect x="900.8" y="949" width="10" height="6" rx="3"/><rect x="912.8" y="949" width="10" height="6" rx="3"/><rect x="924.8" y="949" width="10" height="6" rx="3"/><rect x="858.8" y="957" width="10" height="6" rx="3"/><rect x="870.8" y="957" width="10" height="6" rx="3"/><rect x="882.8" y="957" width="10" height="6" rx="3"/><rect x="894.8" y="957" width="10" height="6" rx="3"/><rect x="906.8" y="957" width="10" height="6" rx="3"/><rect x="918.8" y="957" width="10" height="6" rx="3"/><rect x="864.8" y="965" width="10" height="6" rx="3"/><rect x="876.8" y="965" width="10" height="6" rx="3"/><rect x="888.8" y="965" width="10" height="6" rx="3"/><rect x="900.8" y="965" width="10" height="6" rx="3"/><rect x="912.8" y="965" width="10" height="6" rx="3"/></g><path d="M883.4 946V975M904.2 946V975" stroke="#000" stroke-width="1.8"/><path d="M931.7 948C928.7 957 922.7 963 914.7 966M856.1 946.7C859.7 958 869.7 966 881.7 969V975.5" fill="none" stroke="#e050d0" stroke-width="2"/><path d="M885.8 975L890.8 990M901.8 975L896.8 990M884.8 977H902.8" fill="none" stroke="#000" stroke-width="2"/><path d="M937.2 968V978" stroke="#000" stroke-width="3.8"/><path d="M851.3 968V978" stroke="#000" stroke-width="3.8"/><path d="M575.6 856H659.2 M575.6 861H659.2" stroke="#000" stroke-width="2.7"/><rect x="590.6" y="853" width="4" height="8" fill="#fff" stroke="#000" stroke-width="1.8" rx="1.5"/><rect x="602.6" y="853" width="4" height="8" fill="#fff" stroke="#000" stroke-width="1.8" rx="1.5"/><rect x="628.2" y="853" width="4" height="8" fill="#fff" stroke="#000" stroke-width="1.8" rx="1.5"/><rect x="640.2" y="853" width="4" height="8" fill="#fff" stroke="#000" stroke-width="1.8" rx="1.5"/><clipPath id="sbw861"><path d="M578.6 861C583.6 881.8 592 887.8 604 887.8H632 C644 887.8 651.2 881.8 656.2 861Z"/></clipPath><path d="M578.6 861C583.6 881.8 592 887.8 604 887.8H632 C644 887.8 651.2 881.8 656.2 861Z" fill="#fff" stroke="#000" stroke-width="3"/><path d="M513.9 861L553.9 892.8M553.9 861L513.9 892.8M527.9 861L567.9 892.8M567.9 861L527.9 892.8M541.9 861L581.9 892.8M581.9 861L541.9 892.8M555.9 861L595.9 892.8M595.9 861L555.9 892.8M569.9 861L609.9 892.8M609.9 861L569.9 892.8M583.9 861L623.9 892.8M623.9 861L583.9 892.8M597.9 861L637.9 892.8M637.9 861L597.9 892.8M611.9 861L651.9 892.8M651.9 861L611.9 892.8M625.9 861L665.9 892.8M665.9 861L625.9 892.8M639.9 861L679.9 892.8M679.9 861L639.9 892.8M653.9 861L693.9 892.8M693.9 861L653.9 892.8M667.9 861L707.9 892.8M707.9 861L667.9 892.8M681.9 861L721.9 892.8M721.9 861L681.9 892.8" stroke="#000" stroke-width="3.6" clip-path="url(#sbw861)"/><path d="M603.9 887.8H631.9 L626.9 891.8H608.9 Z" fill="#fff" stroke="#000" stroke-width="2.4"/><path d="M610.9 891.8C608.9 896.8 608.9 900.8 611.9 903.8L617.9 906.8L623.9 903.8C626.9 900.8 626.9 896.8 624.9 891.8Z" fill="#fff" stroke="#000" stroke-width="2.7"/><path d="M609.4 895.8H626.4 M609.9 900.8H625.9" stroke="#000" stroke-width="2.2"/><path d="M565 1032.3H668 M565 1037.3H668" stroke="#000" stroke-width="2.7"/><rect x="580" y="1029.3" width="4" height="8" fill="#fff" stroke="#000" stroke-width="1.8" rx="1.5"/><rect x="592" y="1029.3" width="4" height="8" fill="#fff" stroke="#000" stroke-width="1.8" rx="1.5"/><rect x="637" y="1029.3" width="4" height="8" fill="#fff" stroke="#000" stroke-width="1.8" rx="1.5"/><rect x="649" y="1029.3" width="4" height="8" fill="#fff" stroke="#000" stroke-width="1.8" rx="1.5"/><clipPath id="sbw1037"><path d="M568 1037.3C573 1061.6 589.4 1067.6 601.4 1067.6H632.6 C644.6 1067.6 660 1061.6 665 1037.3Z"/></clipPath><path d="M568 1037.3C573 1061.6 589.4 1067.6 601.4 1067.6H632.6 C644.6 1067.6 660 1061.6 665 1037.3Z" fill="#fff" stroke="#000" stroke-width="3"/><path d="M513.9 1037.3L553.9 1072.6M553.9 1037.3L513.9 1072.6M527.9 1037.3L567.9 1072.6M567.9 1037.3L527.9 1072.6M541.9 1037.3L581.9 1072.6M581.9 1037.3L541.9 1072.6M555.9 1037.3L595.9 1072.6M595.9 1037.3L555.9 1072.6M569.9 1037.3L609.9 1072.6M609.9 1037.3L569.9 1072.6M583.9 1037.3L623.9 1072.6M623.9 1037.3L583.9 1072.6M597.9 1037.3L637.9 1072.6M637.9 1037.3L597.9 1072.6M611.9 1037.3L651.9 1072.6M651.9 1037.3L611.9 1072.6M625.9 1037.3L665.9 1072.6M665.9 1037.3L625.9 1072.6M639.9 1037.3L679.9 1072.6M679.9 1037.3L639.9 1072.6M653.9 1037.3L693.9 1072.6M693.9 1037.3L653.9 1072.6M667.9 1037.3L707.9 1072.6M707.9 1037.3L667.9 1072.6M681.9 1037.3L721.9 1072.6M721.9 1037.3L681.9 1072.6" stroke="#000" stroke-width="3.6" clip-path="url(#sbw1037)"/><path d="M603.9 1067.6H631.9 L626.9 1071.6H608.9 Z" fill="#fff" stroke="#000" stroke-width="2.4"/><path d="M610.9 1071.6C608.9 1076.6 608.9 1080.6 611.9 1083.6L617.9 1092L623.9 1083.6C626.9 1080.6 626.9 1076.6 624.9 1071.6Z" fill="#fff" stroke="#000" stroke-width="2.7"/><path d="M609.4 1075.6H626.4 M609.9 1080.6H625.9" stroke="#000" stroke-width="2.2"/><path d="M610.9 1032.3L612.9 1024L617.9 1018L622.9 1024L624.9 1032.3Z" fill="#fff" stroke="#000" stroke-width="2.7"/><path d="M611.9 1028.3H623.9 M612.9 1024.3H622.9" stroke="#000" stroke-width="2.2"/><path d="M666.4 1040V1169.4" stroke="#000" stroke-width="2.7"/><path d="M666.4 1157.6V1169.4" stroke="#000" stroke-width="4.5"/><path d="M721 1017V1133.8" stroke="#000" stroke-width="2.7"/><path d="M721 1122.8V1133.8" stroke="#000" stroke-width="4.5"/><path d="M844.6 1038V1080" stroke="#000" stroke-width="2.7"/><path d="M844.6 1068V1080" stroke="#000" stroke-width="4.5"/><path d="M902.9 997V1048.1" stroke="#000" stroke-width="2.7"/><path d="M902.9 1038.5V1048.1" stroke="#000" stroke-width="4.5"/><path d="M569.3 1040V1169.4" stroke="#000" stroke-width="2.7"/><path d="M569.3 1157.6V1169.4" stroke="#000" stroke-width="4.5"/><path d="M514.7 1017V1151.5" stroke="#000" stroke-width="2.7"/><path d="M514.7 1140.2V1151.5" stroke="#000" stroke-width="4.5"/><path d="M391.1 1038V1080" stroke="#000" stroke-width="2.7"/><path d="M391.1 1068V1080" stroke="#000" stroke-width="4.5"/><path d="M332.8 997V1048.1" stroke="#000" stroke-width="2.7"/><path d="M332.8 1038.5V1048.1" stroke="#000" stroke-width="4.5"/><path d="M780.8 1032V1108.6" stroke="#000" stroke-width="2.7"/><path d="M780.8 1099V1108.6" stroke="#000" stroke-width="4.5"/><path d="M454 1032V1093.2" stroke="#000" stroke-width="2.7"/><path d="M454 1082.5V1093.2" stroke="#000" stroke-width="4.5"/><path d="M617.9 1092V1210" stroke="#000" stroke-width="2.7"/><path d="M562.5 862V898" stroke="#000" stroke-width="3.3"/><path d="M452 923L486 961L520 922" fill="none" stroke="#000" stroke-width="3"/><path d="M449 920L455 926" stroke="#000" stroke-width="3.8"/><path d="M344.5 996.5L261 1088L249 1075L240 1064M261 1088V1100" fill="none" stroke="#000" stroke-width="3"/><path d="M236 1062C238 1058 242 1056 245 1058M233 1065L241 1063" fill="none" stroke="#000" stroke-width="3"/><ellipse cx="503" cy="833" rx="18.7" ry="25.7" fill="#fff" stroke="#000" stroke-width="2.8"/><path d="M490.9 813.4V852.6M497 808.7V857.3M503 807.3V858.7M509 808.7V857.3M515.1 813.4V852.6M488.7 816.4H517.3M485.3 824.7H520.7M484.3 833H521.7M485.3 841.3H520.7M488.7 849.6H517.3" stroke="#000" stroke-width="3" fill="none"/><ellipse cx="732.7" cy="833" rx="18.7" ry="25.7" fill="#fff" stroke="#000" stroke-width="2.8"/><path d="M720.6 813.4V852.6M726.7 808.7V857.3M732.7 807.3V858.7M738.7 808.7V857.3M744.8 813.4V852.6M718.4 816.4H747M715 824.7H750.4M714 833H751.4M715 841.3H750.4M718.4 849.6H747" stroke="#000" stroke-width="3" fill="none"/><ellipse cx="298.5" cy="992.7" rx="15.6" ry="20.9" fill="#fff" stroke="#000" stroke-width="2.8"/><path d="M288.4 976.7V1008.7M293.5 972.9V1012.5M298.5 971.8V1013.6M303.5 972.9V1012.5M308.6 976.7V1008.7M286.6 979.2H310.4M283.7 986H313.3M282.9 992.7H314.1M283.7 999.4H313.3M286.6 1006.2H310.4" stroke="#000" stroke-width="3" fill="none"/><ellipse cx="384.4" cy="992.7" rx="15.6" ry="20.9" fill="#fff" stroke="#000" stroke-width="2.8"/><path d="M374.3 976.7V1008.7M379.4 972.9V1012.5M384.4 971.8V1013.6M389.4 972.9V1012.5M394.5 976.7V1008.7M372.5 979.2H396.3M369.6 986H399.2M368.8 992.7H400M369.6 999.4H399.2M372.5 1006.2H396.3" stroke="#000" stroke-width="3" fill="none"/><ellipse cx="937.2" cy="992.7" rx="15.6" ry="20.9" fill="#fff" stroke="#000" stroke-width="2.8"/><path d="M927.1 976.7V1008.7M932.2 972.9V1012.5M937.2 971.8V1013.6M942.2 972.9V1012.5M947.3 976.7V1008.7M925.3 979.2H949.1M922.4 986H952M921.6 992.7H952.8M922.4 999.4H952M925.3 1006.2H949.1" stroke="#000" stroke-width="3" fill="none"/><ellipse cx="851.3" cy="992.7" rx="15.6" ry="20.9" fill="#fff" stroke="#000" stroke-width="2.8"/><path d="M841.2 976.7V1008.7M846.3 972.9V1012.5M851.3 971.8V1013.6M856.3 972.9V1012.5M861.4 976.7V1008.7M839.4 979.2H863.2M836.5 986H866.1M835.7 992.7H866.9M836.5 999.4H866.1M839.4 1006.2H863.2" stroke="#000" stroke-width="3" fill="none"/><ellipse cx="666.4" cy="1192.4" rx="19.1" ry="26" fill="#fff" stroke="#000" stroke-width="2.8"/><path d="M654.1 1172.5V1212.3M660.2 1167.8V1217M666.4 1166.4V1218.4M672.6 1167.8V1217M678.7 1172.5V1212.3M651.8 1175.6H681M648.3 1184H684.5M647.3 1192.4H685.5M648.3 1200.8H684.5M651.8 1209.2H681" stroke="#000" stroke-width="3" fill="none"/><ellipse cx="721" cy="1156.8" rx="19.1" ry="26" fill="#fff" stroke="#000" stroke-width="2.8"/><path d="M708.7 1136.9V1176.7M714.8 1132.2V1181.4M721 1130.8V1182.8M727.2 1132.2V1181.4M733.3 1136.9V1176.7M706.4 1140H735.6M702.9 1148.4H739.1M701.9 1156.8H740.1M702.9 1165.2H739.1M706.4 1173.6H735.6" stroke="#000" stroke-width="3" fill="none"/><ellipse cx="844.6" cy="1102.8" rx="19.2" ry="25.8" fill="#fff" stroke="#000" stroke-width="2.8"/><path d="M832.2 1083.1V1122.5M838.4 1078.4V1127.2M844.6 1077V1128.6M850.8 1078.4V1127.2M857 1083.1V1122.5M829.9 1086.2H859.3M826.4 1094.5H862.8M825.4 1102.8H863.8M826.4 1111.1H862.8M829.9 1119.4H859.3" stroke="#000" stroke-width="3" fill="none"/><ellipse cx="902.9" cy="1076.4" rx="23.1" ry="31.3" fill="#fff" stroke="#000" stroke-width="2.8"/><path d="M888 1052.5V1100.3M895.4 1046.8V1106M902.9 1045.1V1107.7M910.4 1046.8V1106M917.8 1052.5V1100.3M897.1 1046.1H908.7M885.3 1056.2H920.5M881 1066.3H924.8M879.8 1076.4H926M881 1086.5H924.8M885.3 1096.6H920.5M897.1 1106.7H908.7" stroke="#000" stroke-width="3" fill="none"/><ellipse cx="569.3" cy="1192.4" rx="19.1" ry="26" fill="#fff" stroke="#000" stroke-width="2.8"/><path d="M557 1172.5V1212.3M563.1 1167.8V1217M569.3 1166.4V1218.4M575.5 1167.8V1217M581.6 1172.5V1212.3M554.7 1175.6H583.9M551.2 1184H587.4M550.2 1192.4H588.4M551.2 1200.8H587.4M554.7 1209.2H583.9" stroke="#000" stroke-width="3" fill="none"/><ellipse cx="514.7" cy="1174.5" rx="19.1" ry="26" fill="#fff" stroke="#000" stroke-width="2.8"/><path d="M502.4 1154.6V1194.4M508.5 1149.9V1199.1M514.7 1148.5V1200.5M520.9 1149.9V1199.1M527 1154.6V1194.4M500.1 1157.7H529.3M496.6 1166.1H532.8M495.6 1174.5H533.8M496.6 1182.9H532.8M500.1 1191.3H529.3" stroke="#000" stroke-width="3" fill="none"/><ellipse cx="391.1" cy="1102.8" rx="19.2" ry="25.8" fill="#fff" stroke="#000" stroke-width="2.8"/><path d="M378.7 1083.1V1122.5M384.9 1078.4V1127.2M391.1 1077V1128.6M397.3 1078.4V1127.2M403.5 1083.1V1122.5M376.4 1086.2H405.8M372.9 1094.5H409.3M371.9 1102.8H410.3M372.9 1111.1H409.3M376.4 1119.4H405.8" stroke="#000" stroke-width="3" fill="none"/><ellipse cx="332.8" cy="1076.4" rx="23.1" ry="31.3" fill="#fff" stroke="#000" stroke-width="2.8"/><path d="M317.9 1052.5V1100.3M325.3 1046.8V1106M332.8 1045.1V1107.7M340.3 1046.8V1106M347.7 1052.5V1100.3M327 1046.1H338.6M315.2 1056.2H350.4M310.9 1066.3H354.7M309.7 1076.4H355.9M310.9 1086.5H354.7M315.2 1096.6H350.4M327 1106.7H338.6" stroke="#000" stroke-width="3" fill="none"/><ellipse cx="780.8" cy="1131.4" rx="19.2" ry="25.8" fill="#fff" stroke="#000" stroke-width="2.8"/><path d="M768.4 1111.7V1151.1M774.6 1107V1155.8M780.8 1105.6V1157.2M787 1107V1155.8M793.2 1111.7V1151.1M766.1 1114.8H795.5M762.6 1123.1H799M761.6 1131.4H800M762.6 1139.7H799M766.1 1148H795.5" stroke="#000" stroke-width="3" fill="none"/><ellipse cx="454" cy="1116.8" rx="19.3" ry="26.6" fill="#fff" stroke="#000" stroke-width="2.8"/><path d="M441.5 1096.5V1137.1M447.8 1091.6V1142M454 1090.2V1143.4M460.2 1091.6V1142M466.5 1096.5V1137.1M439.3 1099.6H468.7M435.7 1108.2H472.3M434.7 1116.8H473.3M435.7 1125.4H472.3M439.3 1134H468.7" stroke="#000" stroke-width="3" fill="none"/><path d="M617.9 1203L621.9 1211H613.9 Z" stroke="#000" stroke-width="3"/><path d="M617.9 1211L633.9 1223L634.9 1232L633.9 1240L627.9 1246L617.9 1250L607.9 1246L601.9 1240L600.9 1232L601.9 1223Z" fill="#111" stroke="#000" stroke-width="4.5"/><clipPath id="sballc"><path d="M617.9 1211L633.9 1223L634.9 1232L633.9 1240L627.9 1246L617.9 1250L607.9 1246L601.9 1240L600.9 1232L601.9 1223Z"/></clipPath><path d="M552.6 1200L587.1 1260M587.1 1200L552.6 1260M560.6 1200L595.1 1260M595.1 1200L560.6 1260M568.6 1200L603.1 1260M603.1 1200L568.6 1260M576.6 1200L611.1 1260M611.1 1200L576.6 1260M584.6 1200L619.1 1260M619.1 1200L584.6 1260M592.6 1200L627.1 1260M627.1 1200L592.6 1260M600.6 1200L635.1 1260M635.1 1200L600.6 1260M608.6 1200L643.1 1260M643.1 1200L608.6 1260M616.6 1200L651.1 1260M651.1 1200L616.6 1260M624.6 1200L659.1 1260M659.1 1200L624.6 1260M632.6 1200L667.1 1260M667.1 1200L632.6 1260M640.6 1200L675.1 1260M675.1 1200L640.6 1260M648.6 1200L683.1 1260M683.1 1200L648.6 1260M597.9 1223H637.9 M597.9 1231H637.9 M597.9 1239H637.9" stroke="#000" stroke-width="3.4" clip-path="url(#sballc)"/><ellipse cx="562.5" cy="917.5" rx="15.4" ry="20.3" fill="#fff" stroke="#000" stroke-width="2.8"/><path d="M552.6 902V933M557.5 898.3V936.7M562.5 897.2V937.8M567.5 898.3V936.7M572.4 902V933M550.7 904.4H574.3M547.9 911H577.1M547.1 917.5H577.9M547.9 924H577.1M550.7 930.6H574.3" stroke="#000" stroke-width="3" fill="none"/><ellipse cx="487" cy="998" rx="19.2" ry="26.2" fill="#fff" stroke="#000" stroke-width="2.8"/><path d="M474.6 978V1018M480.8 973.2V1022.8M487 971.8V1024.2M493.2 973.2V1022.8M499.4 978V1018M472.3 981.1H501.7M468.8 989.5H505.2M467.8 998H506.2M468.8 1006.5H505.2M472.3 1014.9H501.7" stroke="#000" stroke-width="3" fill="none"/><ellipse cx="261" cy="1125" rx="19.3" ry="26.6" fill="#fff" stroke="#000" stroke-width="2.8"/><path d="M248.5 1104.7V1145.3M254.8 1099.8V1150.2M261 1098.4V1151.6M267.2 1099.8V1150.2M273.5 1104.7V1145.3M246.3 1107.8H275.7M242.7 1116.4H279.3M241.7 1125H280.3M242.7 1133.6H279.3M246.3 1142.2H275.7" stroke="#000" stroke-width="3" fill="none"/><polygon points="503,799.9 497.7,796.5 497.7,789.5 503,786.1 508.3,789.5 508.3,796.5" fill="#555" stroke="#000" stroke-width="4.5" stroke-linejoin="round"/><path d="M507.8 793L498.2 793M506.4 796.4L499.6 789.6M503 797.8L503 788.2M499.6 796.4L506.4 789.6" stroke="#000" stroke-width="2.2"/><circle cx="503" cy="793" r="1.9"/><polygon points="514.2,769.9 509.9,772.8 508.9,777.8 503.8,776.8 499.6,779.7 496.7,775.4 491.7,774.4 492.7,769.3 489.8,765.1 494.1,762.2 495.1,757.2 500.2,758.2 504.4,755.3 507.3,759.6 512.3,760.6 511.3,765.7" fill="#000" stroke="#000" stroke-width="1.8" stroke-linejoin="round"/><circle cx="502" cy="767.5" r="7.6" fill="#555" stroke="#000" stroke-width="3"/><path d="M508.5 767.5L495.5 767.5M506.6 772.1L497.4 762.9M502 774L502 761M497.4 772.1L506.6 762.9" stroke="#000" stroke-width="2"/><circle cx="502" cy="767.5" r="2.1" fill="#000"/><polygon points="531.6,924.8 527.5,927.5 526.6,932.3 521.8,931.3 517.7,934.1 515,930 510.2,929.1 511.2,924.3 508.4,920.2 512.5,917.5 513.4,912.7 518.2,913.7 522.3,910.9 525,915 529.8,915.9 528.8,920.7" fill="#000" stroke="#000" stroke-width="1.8" stroke-linejoin="round"/><circle cx="520" cy="922.5" r="7.2" fill="#555" stroke="#000" stroke-width="3"/><path d="M526.2 922.5L513.8 922.5M524.4 926.9L515.6 918.1M520 928.7L520 916.3M515.6 926.9L524.4 918.1" stroke="#000" stroke-width="2"/><circle cx="520" cy="922.5" r="2" fill="#000"/><polygon points="575.7,853.5 571.2,856.5 570.2,861.8 564.9,860.7 560.5,863.7 557.5,859.2 552.2,858.2 553.3,852.9 550.3,848.5 554.8,845.5 555.8,840.2 561.1,841.3 565.5,838.3 568.5,842.8 573.8,843.8 572.7,849.1" fill="#000" stroke="#000" stroke-width="1.8" stroke-linejoin="round"/><circle cx="563" cy="851" r="7.9" fill="#555" stroke="#000" stroke-width="3"/><path d="M569.8 851L556.2 851M567.8 855.8L558.2 846.2M563 857.8L563 844.2M558.2 855.8L567.8 846.2" stroke="#000" stroke-width="2"/><circle cx="563" cy="851" r="2.2" fill="#000"/><polygon points="732.7,799.9 727.4,796.5 727.4,789.5 732.7,786.1 738,789.5 738,796.5" fill="#555" stroke="#000" stroke-width="4.5" stroke-linejoin="round"/><path d="M737.5 793L727.9 793M736.1 796.4L729.3 789.6M732.7 797.8L732.7 788.2M729.3 796.4L736.1 789.6" stroke="#000" stroke-width="2.2"/><circle cx="732.7" cy="793" r="1.9"/><polygon points="745.9,769.9 741.6,772.8 740.6,777.8 735.5,776.8 731.3,779.7 728.4,775.4 723.4,774.4 724.4,769.3 721.5,765.1 725.8,762.2 726.8,757.2 731.9,758.2 736.1,755.3 739,759.6 744,760.6 743,765.7" fill="#000" stroke="#000" stroke-width="1.8" stroke-linejoin="round"/><circle cx="733.7" cy="767.5" r="7.6" fill="#555" stroke="#000" stroke-width="3"/><path d="M740.2 767.5L727.2 767.5M738.3 772.1L729.1 762.9M733.7 774L733.7 761M729.1 772.1L738.3 762.9" stroke="#000" stroke-width="2"/><circle cx="733.7" cy="767.5" r="2.1" fill="#000"/><polygon points="727.3,924.8 723.2,927.5 722.3,932.3 717.5,931.3 713.4,934.1 710.7,930 705.9,929.1 706.9,924.3 704.1,920.2 708.2,917.5 709.1,912.7 713.9,913.7 718,910.9 720.7,915 725.5,915.9 724.5,920.7" fill="#000" stroke="#000" stroke-width="1.8" stroke-linejoin="round"/><circle cx="715.7" cy="922.5" r="7.2" fill="#555" stroke="#000" stroke-width="3"/><path d="M721.9 922.5L709.5 922.5M720.1 926.9L711.3 918.1M715.7 928.7L715.7 916.3M711.3 926.9L720.1 918.1" stroke="#000" stroke-width="2"/><circle cx="715.7" cy="922.5" r="2" fill="#000"/><polygon points="685.4,853.5 680.9,856.5 679.9,861.8 674.6,860.7 670.2,863.7 667.2,859.2 661.9,858.2 663,852.9 660,848.5 664.5,845.5 665.5,840.2 670.8,841.3 675.2,838.3 678.2,842.8 683.5,843.8 682.4,849.1" fill="#000" stroke="#000" stroke-width="1.8" stroke-linejoin="round"/><circle cx="672.7" cy="851" r="7.9" fill="#555" stroke="#000" stroke-width="3"/><path d="M679.5 851L665.9 851M677.5 855.8L667.9 846.2M672.7 857.8L672.7 844.2M667.9 855.8L677.5 846.2" stroke="#000" stroke-width="2"/><circle cx="672.7" cy="851" r="2.2" fill="#000"/><polygon points="759.3,998.3 755.2,1001 754.3,1005.8 749.5,1004.8 745.4,1007.6 742.7,1003.5 737.9,1002.6 738.9,997.8 736.1,993.7 740.2,991 741.1,986.2 745.9,987.2 750,984.4 752.7,988.5 757.5,989.4 756.5,994.2" fill="#000" stroke="#000" stroke-width="1.8" stroke-linejoin="round"/><circle cx="747.7" cy="996" r="7.2" fill="#555" stroke="#000" stroke-width="3"/><path d="M753.9 996L741.5 996M752.1 1000.4L743.3 991.6M747.7 1002.2L747.7 989.8M743.3 1000.4L752.1 991.6" stroke="#000" stroke-width="2"/><circle cx="747.7" cy="996" r="2" fill="#000"/><polygon points="298.5,971.8 292.3,967.8 292.3,959.8 298.5,955.8 304.7,959.8 304.7,967.8" fill="#555" stroke="#000" stroke-width="4.5" stroke-linejoin="round"/><path d="M304.1 963.8L292.9 963.8M302.5 967.8L294.5 959.8M298.5 969.4L298.5 958.2M294.5 967.8L302.5 959.8" stroke="#000" stroke-width="2.2"/><circle cx="298.5" cy="963.8" r="2.2"/><polygon points="384.4,971.8 378.2,967.8 378.2,959.8 384.4,955.8 390.6,959.8 390.6,967.8" fill="#555" stroke="#000" stroke-width="4.5" stroke-linejoin="round"/><path d="M390 963.8L378.8 963.8M388.4 967.8L380.4 959.8M384.4 969.4L384.4 958.2M380.4 967.8L388.4 959.8" stroke="#000" stroke-width="2.2"/><circle cx="384.4" cy="963.8" r="2.2"/><polygon points="356.1,998.8 352,1001.5 351.1,1006.3 346.3,1005.3 342.2,1008.1 339.5,1004 334.7,1003.1 335.7,998.3 332.9,994.2 337,991.5 337.9,986.7 342.7,987.7 346.8,984.9 349.5,989 354.3,989.9 353.3,994.7" fill="#000" stroke="#000" stroke-width="1.8" stroke-linejoin="round"/><circle cx="344.5" cy="996.5" r="7.2" fill="#555" stroke="#000" stroke-width="3"/><path d="M350.7 996.5L338.3 996.5M348.9 1000.9L340.1 992.1M344.5 1002.7L344.5 990.3M340.1 1000.9L348.9 992.1" stroke="#000" stroke-width="2"/><circle cx="344.5" cy="996.5" r="2" fill="#000"/><polygon points="937.2,971.8 931,967.8 931,959.8 937.2,955.8 943.4,959.8 943.4,967.8" fill="#555" stroke="#000" stroke-width="4.5" stroke-linejoin="round"/><path d="M942.8 963.8L931.6 963.8M941.2 967.8L933.2 959.8M937.2 969.4L937.2 958.2M933.2 967.8L941.2 959.8" stroke="#000" stroke-width="2.2"/><circle cx="937.2" cy="963.8" r="2.2"/><polygon points="851.3,971.8 845.1,967.8 845.1,959.8 851.3,955.8 857.5,959.8 857.5,967.8" fill="#555" stroke="#000" stroke-width="4.5" stroke-linejoin="round"/><path d="M856.9 963.8L845.7 963.8M855.3 967.8L847.3 959.8M851.3 969.4L851.3 958.2M847.3 967.8L855.3 959.8" stroke="#000" stroke-width="2.2"/><circle cx="851.3" cy="963.8" r="2.2"/><polygon points="902.8,998.8 898.7,1001.5 897.8,1006.3 893,1005.3 888.9,1008.1 886.2,1004 881.4,1003.1 882.4,998.3 879.6,994.2 883.7,991.5 884.6,986.7 889.4,987.7 893.5,984.9 896.2,989 901,989.9 900,994.7" fill="#000" stroke="#000" stroke-width="1.8" stroke-linejoin="round"/><circle cx="891.2" cy="996.5" r="7.2" fill="#555" stroke="#000" stroke-width="3"/><path d="M897.4 996.5L885 996.5M895.6 1000.9L886.8 992.1M891.2 1002.7L891.2 990.3M886.8 1000.9L895.6 992.1" stroke="#000" stroke-width="2"/><circle cx="891.2" cy="996.5" r="2" fill="#000"/><polygon points="666.4,1068.2 660.7,1064.4 660.7,1057 666.4,1053.2 672.1,1057 672.1,1064.4" fill="#555" stroke="#000" stroke-width="4.5" stroke-linejoin="round"/><path d="M671.6 1060.7L661.2 1060.7M670.1 1064.4L662.7 1057M666.4 1065.9L666.4 1055.5M662.7 1064.4L670.1 1057" stroke="#000" stroke-width="2.2"/><circle cx="666.4" cy="1060.7" r="2.1"/><polygon points="666.4,1087.3 660.7,1083.5 660.7,1076.1 666.4,1072.3 672.1,1076.1 672.1,1083.5" fill="#555" stroke="#000" stroke-width="4.5" stroke-linejoin="round"/><path d="M671.6 1079.8L661.2 1079.8M670.1 1083.5L662.7 1076.1M666.4 1085L666.4 1074.6M662.7 1083.5L670.1 1076.1" stroke="#000" stroke-width="2.2"/><circle cx="666.4" cy="1079.8" r="2.1"/><polygon points="666.4,1105.5 660.7,1101.7 660.7,1094.3 666.4,1090.5 672.1,1094.3 672.1,1101.7" fill="#555" stroke="#000" stroke-width="4.5" stroke-linejoin="round"/><path d="M671.6 1098L661.2 1098M670.1 1101.7L662.7 1094.3M666.4 1103.2L666.4 1092.8M662.7 1101.7L670.1 1094.3" stroke="#000" stroke-width="2.2"/><circle cx="666.4" cy="1098" r="2.1"/><polygon points="666.4,1123.7 660.7,1119.9 660.7,1112.5 666.4,1108.7 672.1,1112.5 672.1,1119.9" fill="#555" stroke="#000" stroke-width="4.5" stroke-linejoin="round"/><path d="M671.6 1116.2L661.2 1116.2M670.1 1119.9L662.7 1112.5M666.4 1121.4L666.4 1111M662.7 1119.9L670.1 1112.5" stroke="#000" stroke-width="2.2"/><circle cx="666.4" cy="1116.2" r="2.1"/><polygon points="666.4,1141.9 660.7,1138.1 660.7,1130.7 666.4,1126.9 672.1,1130.7 672.1,1138.1" fill="#555" stroke="#000" stroke-width="4.5" stroke-linejoin="round"/><path d="M671.6 1134.4L661.2 1134.4M670.1 1138.1L662.7 1130.7M666.4 1139.6L666.4 1129.2M662.7 1138.1L670.1 1130.7" stroke="#000" stroke-width="2.2"/><circle cx="666.4" cy="1134.4" r="2.1"/><polygon points="666.4,1160.1 660.7,1156.3 660.7,1148.9 666.4,1145.1 672.1,1148.9 672.1,1156.3" fill="#555" stroke="#000" stroke-width="4.5" stroke-linejoin="round"/><path d="M671.6 1152.6L661.2 1152.6M670.1 1156.3L662.7 1148.9M666.4 1157.8L666.4 1147.4M662.7 1156.3L670.1 1148.9" stroke="#000" stroke-width="2.2"/><circle cx="666.4" cy="1152.6" r="2.1"/><polygon points="721,1052.7 715.3,1048.9 715.3,1041.5 721,1037.7 726.7,1041.5 726.7,1048.9" fill="#555" stroke="#000" stroke-width="4.5" stroke-linejoin="round"/><path d="M726.2 1045.2L715.8 1045.2M724.7 1048.9L717.3 1041.5M721 1050.4L721 1040M717.3 1048.9L724.7 1041.5" stroke="#000" stroke-width="2.2"/><circle cx="721" cy="1045.2" r="2.1"/><polygon points="721,1070.7 715.3,1066.9 715.3,1059.5 721,1055.7 726.7,1059.5 726.7,1066.9" fill="#555" stroke="#000" stroke-width="4.5" stroke-linejoin="round"/><path d="M726.2 1063.2L715.8 1063.2M724.7 1066.9L717.3 1059.5M721 1068.4L721 1058M717.3 1066.9L724.7 1059.5" stroke="#000" stroke-width="2.2"/><circle cx="721" cy="1063.2" r="2.1"/><polygon points="721,1089.3 715.3,1085.5 715.3,1078.1 721,1074.3 726.7,1078.1 726.7,1085.5" fill="#555" stroke="#000" stroke-width="4.5" stroke-linejoin="round"/><path d="M726.2 1081.8L715.8 1081.8M724.7 1085.5L717.3 1078.1M721 1087L721 1076.6M717.3 1085.5L724.7 1078.1" stroke="#000" stroke-width="2.2"/><circle cx="721" cy="1081.8" r="2.1"/><polygon points="721,1107.3 715.3,1103.5 715.3,1096.1 721,1092.3 726.7,1096.1 726.7,1103.5" fill="#555" stroke="#000" stroke-width="4.5" stroke-linejoin="round"/><path d="M726.2 1099.8L715.8 1099.8M724.7 1103.5L717.3 1096.1M721 1105L721 1094.6M717.3 1103.5L724.7 1096.1" stroke="#000" stroke-width="2.2"/><circle cx="721" cy="1099.8" r="2.1"/><polygon points="721,1125.3 715.3,1121.5 715.3,1114.1 721,1110.3 726.7,1114.1 726.7,1121.5" fill="#555" stroke="#000" stroke-width="4.5" stroke-linejoin="round"/><path d="M726.2 1117.8L715.8 1117.8M724.7 1121.5L717.3 1114.1M721 1123L721 1112.6M717.3 1121.5L724.7 1114.1" stroke="#000" stroke-width="2.2"/><circle cx="721" cy="1117.8" r="2.1"/><polygon points="844.6,1070.5 838.9,1066.7 838.9,1059.3 844.6,1055.5 850.3,1059.3 850.3,1066.7" fill="#555" stroke="#000" stroke-width="4.5" stroke-linejoin="round"/><path d="M849.8 1063L839.4 1063M848.3 1066.7L840.9 1059.3M844.6 1068.2L844.6 1057.8M840.9 1066.7L848.3 1059.3" stroke="#000" stroke-width="2.2"/><circle cx="844.6" cy="1063" r="2.1"/><polygon points="902.9,1023.4 897.2,1019.6 897.2,1012.2 902.9,1008.4 908.6,1012.2 908.6,1019.6" fill="#555" stroke="#000" stroke-width="4.5" stroke-linejoin="round"/><path d="M908.1 1015.9L897.7 1015.9M906.6 1019.6L899.2 1012.2M902.9 1021.1L902.9 1010.7M899.2 1019.6L906.6 1012.2" stroke="#000" stroke-width="2.2"/><circle cx="902.9" cy="1015.9" r="2.1"/><polygon points="902.9,1041 897.2,1037.2 897.2,1029.8 902.9,1026 908.6,1029.8 908.6,1037.2" fill="#555" stroke="#000" stroke-width="4.5" stroke-linejoin="round"/><path d="M908.1 1033.5L897.7 1033.5M906.6 1037.2L899.2 1029.8M902.9 1038.7L902.9 1028.3M899.2 1037.2L906.6 1029.8" stroke="#000" stroke-width="2.2"/><circle cx="902.9" cy="1033.5" r="2.1"/><polygon points="569.3,1068.2 563.6,1064.4 563.6,1057 569.3,1053.2 575,1057 575,1064.4" fill="#555" stroke="#000" stroke-width="4.5" stroke-linejoin="round"/><path d="M574.5 1060.7L564.1 1060.7M573 1064.4L565.6 1057M569.3 1065.9L569.3 1055.5M565.6 1064.4L573 1057" stroke="#000" stroke-width="2.2"/><circle cx="569.3" cy="1060.7" r="2.1"/><polygon points="569.3,1087.3 563.6,1083.5 563.6,1076.1 569.3,1072.3 575,1076.1 575,1083.5" fill="#555" stroke="#000" stroke-width="4.5" stroke-linejoin="round"/><path d="M574.5 1079.8L564.1 1079.8M573 1083.5L565.6 1076.1M569.3 1085L569.3 1074.6M565.6 1083.5L573 1076.1" stroke="#000" stroke-width="2.2"/><circle cx="569.3" cy="1079.8" r="2.1"/><polygon points="569.3,1105.5 563.6,1101.7 563.6,1094.3 569.3,1090.5 575,1094.3 575,1101.7" fill="#555" stroke="#000" stroke-width="4.5" stroke-linejoin="round"/><path d="M574.5 1098L564.1 1098M573 1101.7L565.6 1094.3M569.3 1103.2L569.3 1092.8M565.6 1101.7L573 1094.3" stroke="#000" stroke-width="2.2"/><circle cx="569.3" cy="1098" r="2.1"/><polygon points="569.3,1123.7 563.6,1119.9 563.6,1112.5 569.3,1108.7 575,1112.5 575,1119.9" fill="#555" stroke="#000" stroke-width="4.5" stroke-linejoin="round"/><path d="M574.5 1116.2L564.1 1116.2M573 1119.9L565.6 1112.5M569.3 1121.4L569.3 1111M565.6 1119.9L573 1112.5" stroke="#000" stroke-width="2.2"/><circle cx="569.3" cy="1116.2" r="2.1"/><polygon points="569.3,1141.9 563.6,1138.1 563.6,1130.7 569.3,1126.9 575,1130.7 575,1138.1" fill="#555" stroke="#000" stroke-width="4.5" stroke-linejoin="round"/><path d="M574.5 1134.4L564.1 1134.4M573 1138.1L565.6 1130.7M569.3 1139.6L569.3 1129.2M565.6 1138.1L573 1130.7" stroke="#000" stroke-width="2.2"/><circle cx="569.3" cy="1134.4" r="2.1"/><polygon points="569.3,1160.1 563.6,1156.3 563.6,1148.9 569.3,1145.1 575,1148.9 575,1156.3" fill="#555" stroke="#000" stroke-width="4.5" stroke-linejoin="round"/><path d="M574.5 1152.6L564.1 1152.6M573 1156.3L565.6 1148.9M569.3 1157.8L569.3 1147.4M565.6 1156.3L573 1148.9" stroke="#000" stroke-width="2.2"/><circle cx="569.3" cy="1152.6" r="2.1"/><polygon points="514.7,1051.5 509,1047.7 509,1040.3 514.7,1036.5 520.4,1040.3 520.4,1047.7" fill="#555" stroke="#000" stroke-width="4.5" stroke-linejoin="round"/><path d="M519.9 1044L509.5 1044M518.4 1047.7L511 1040.3M514.7 1049.2L514.7 1038.8M511 1047.7L518.4 1040.3" stroke="#000" stroke-width="2.2"/><circle cx="514.7" cy="1044" r="2.1"/><polygon points="514.7,1068.9 509,1065.1 509,1057.7 514.7,1053.9 520.4,1057.7 520.4,1065.1" fill="#555" stroke="#000" stroke-width="4.5" stroke-linejoin="round"/><path d="M519.9 1061.4L509.5 1061.4M518.4 1065.1L511 1057.7M514.7 1066.6L514.7 1056.2M511 1065.1L518.4 1057.7" stroke="#000" stroke-width="2.2"/><circle cx="514.7" cy="1061.4" r="2.1"/><polygon points="514.7,1087.5 509,1083.7 509,1076.3 514.7,1072.5 520.4,1076.3 520.4,1083.7" fill="#555" stroke="#000" stroke-width="4.5" stroke-linejoin="round"/><path d="M519.9 1080L509.5 1080M518.4 1083.7L511 1076.3M514.7 1085.2L514.7 1074.8M511 1083.7L518.4 1076.3" stroke="#000" stroke-width="2.2"/><circle cx="514.7" cy="1080" r="2.1"/><polygon points="514.7,1106.1 509,1102.3 509,1094.9 514.7,1091.1 520.4,1094.9 520.4,1102.3" fill="#555" stroke="#000" stroke-width="4.5" stroke-linejoin="round"/><path d="M519.9 1098.6L509.5 1098.6M518.4 1102.3L511 1094.9M514.7 1103.8L514.7 1093.4M511 1102.3L518.4 1094.9" stroke="#000" stroke-width="2.2"/><circle cx="514.7" cy="1098.6" r="2.1"/><polygon points="514.7,1124.1 509,1120.3 509,1112.9 514.7,1109.1 520.4,1112.9 520.4,1120.3" fill="#555" stroke="#000" stroke-width="4.5" stroke-linejoin="round"/><path d="M519.9 1116.6L509.5 1116.6M518.4 1120.3L511 1112.9M514.7 1121.8L514.7 1111.4M511 1120.3L518.4 1112.9" stroke="#000" stroke-width="2.2"/><circle cx="514.7" cy="1116.6" r="2.1"/><polygon points="514.7,1142.7 509,1138.9 509,1131.5 514.7,1127.7 520.4,1131.5 520.4,1138.9" fill="#555" stroke="#000" stroke-width="4.5" stroke-linejoin="round"/><path d="M519.9 1135.2L509.5 1135.2M518.4 1138.9L511 1131.5M514.7 1140.4L514.7 1130M511 1138.9L518.4 1131.5" stroke="#000" stroke-width="2.2"/><circle cx="514.7" cy="1135.2" r="2.1"/><polygon points="391.1,1070.5 385.4,1066.7 385.4,1059.3 391.1,1055.5 396.8,1059.3 396.8,1066.7" fill="#555" stroke="#000" stroke-width="4.5" stroke-linejoin="round"/><path d="M396.3 1063L385.9 1063M394.8 1066.7L387.4 1059.3M391.1 1068.2L391.1 1057.8M387.4 1066.7L394.8 1059.3" stroke="#000" stroke-width="2.2"/><circle cx="391.1" cy="1063" r="2.1"/><polygon points="332.8,1023.4 327.1,1019.6 327.1,1012.2 332.8,1008.4 338.5,1012.2 338.5,1019.6" fill="#555" stroke="#000" stroke-width="4.5" stroke-linejoin="round"/><path d="M338 1015.9L327.6 1015.9M336.5 1019.6L329.1 1012.2M332.8 1021.1L332.8 1010.7M329.1 1019.6L336.5 1012.2" stroke="#000" stroke-width="2.2"/><circle cx="332.8" cy="1015.9" r="2.1"/><polygon points="332.8,1041 327.1,1037.2 327.1,1029.8 332.8,1026 338.5,1029.8 338.5,1037.2" fill="#555" stroke="#000" stroke-width="4.5" stroke-linejoin="round"/><path d="M338 1033.5L327.6 1033.5M336.5 1037.2L329.1 1029.8M332.8 1038.7L332.8 1028.3M329.1 1037.2L336.5 1029.8" stroke="#000" stroke-width="2.2"/><circle cx="332.8" cy="1033.5" r="2.1"/><polygon points="780.8,1064.1 775.1,1060.3 775.1,1052.9 780.8,1049.1 786.5,1052.9 786.5,1060.3" fill="#555" stroke="#000" stroke-width="4.5" stroke-linejoin="round"/><path d="M786 1056.6L775.6 1056.6M784.5 1060.3L777.1 1052.9M780.8 1061.8L780.8 1051.4M777.1 1060.3L784.5 1052.9" stroke="#000" stroke-width="2.2"/><circle cx="780.8" cy="1056.6" r="2.1"/><polygon points="780.8,1082.5 775.1,1078.7 775.1,1071.3 780.8,1067.5 786.5,1071.3 786.5,1078.7" fill="#555" stroke="#000" stroke-width="4.5" stroke-linejoin="round"/><path d="M786 1075L775.6 1075M784.5 1078.7L777.1 1071.3M780.8 1080.2L780.8 1069.8M777.1 1078.7L784.5 1071.3" stroke="#000" stroke-width="2.2"/><circle cx="780.8" cy="1075" r="2.1"/><polygon points="780.8,1101.5 775.1,1097.7 775.1,1090.3 780.8,1086.5 786.5,1090.3 786.5,1097.7" fill="#555" stroke="#000" stroke-width="4.5" stroke-linejoin="round"/><path d="M786 1094L775.6 1094M784.5 1097.7L777.1 1090.3M780.8 1099.2L780.8 1088.8M777.1 1097.7L784.5 1090.3" stroke="#000" stroke-width="2.2"/><circle cx="780.8" cy="1094" r="2.1"/><polygon points="454,1067.5 448.3,1063.7 448.3,1056.3 454,1052.5 459.7,1056.3 459.7,1063.7" fill="#555" stroke="#000" stroke-width="4.5" stroke-linejoin="round"/><path d="M459.2 1060L448.8 1060M457.7 1063.7L450.3 1056.3M454 1065.2L454 1054.8M450.3 1063.7L457.7 1056.3" stroke="#000" stroke-width="2.2"/><circle cx="454" cy="1060" r="2.1"/><polygon points="454,1085 448.3,1081.2 448.3,1073.8 454,1070 459.7,1073.8 459.7,1081.2" fill="#555" stroke="#000" stroke-width="4.5" stroke-linejoin="round"/><path d="M459.2 1077.5L448.8 1077.5M457.7 1081.2L450.3 1073.8M454 1082.7L454 1072.3M450.3 1081.2L457.7 1073.8" stroke="#000" stroke-width="2.2"/><circle cx="454" cy="1077.5" r="2.1"/><polygon points="617.9,1111.5 612.1,1107.7 612.1,1100.3 617.9,1096.5 623.6,1100.3 623.6,1107.7" fill="#555" stroke="#000" stroke-width="4.5" stroke-linejoin="round"/><path d="M623.1 1104L612.6 1104M621.5 1107.7L614.2 1100.3M617.9 1109.2L617.9 1098.8M614.2 1107.7L621.5 1100.3" stroke="#000" stroke-width="2.2"/><circle cx="617.9" cy="1104" r="2.1"/><polygon points="617.9,1129.5 612.1,1125.7 612.1,1118.3 617.9,1114.5 623.6,1118.3 623.6,1125.7" fill="#555" stroke="#000" stroke-width="4.5" stroke-linejoin="round"/><path d="M623.1 1122L612.6 1122M621.5 1125.7L614.2 1118.3M617.9 1127.2L617.9 1116.8M614.2 1125.7L621.5 1118.3" stroke="#000" stroke-width="2.2"/><circle cx="617.9" cy="1122" r="2.1"/><polygon points="617.9,1147.9 612.1,1144.1 612.1,1136.7 617.9,1132.9 623.6,1136.7 623.6,1144.1" fill="#555" stroke="#000" stroke-width="4.5" stroke-linejoin="round"/><path d="M623.1 1140.4L612.6 1140.4M621.5 1144.1L614.2 1136.7M617.9 1145.6L617.9 1135.2M614.2 1144.1L621.5 1136.7" stroke="#000" stroke-width="2.2"/><circle cx="617.9" cy="1140.4" r="2.1"/><polygon points="617.9,1166.1 612.1,1162.3 612.1,1154.9 617.9,1151.1 623.6,1154.9 623.6,1162.3" fill="#555" stroke="#000" stroke-width="4.5" stroke-linejoin="round"/><path d="M623.1 1158.6L612.6 1158.6M621.5 1162.3L614.2 1154.9M617.9 1163.8L617.9 1153.4M614.2 1162.3L621.5 1154.9" stroke="#000" stroke-width="2.2"/><circle cx="617.9" cy="1158.6" r="2.1"/><polygon points="617.9,1184.3 612.1,1180.5 612.1,1173.1 617.9,1169.3 623.6,1173.1 623.6,1180.5" fill="#555" stroke="#000" stroke-width="4.5" stroke-linejoin="round"/><path d="M623.1 1176.8L612.6 1176.8M621.5 1180.5L614.2 1173.1M617.9 1182L617.9 1171.6M614.2 1180.5L621.5 1173.1" stroke="#000" stroke-width="2.2"/><circle cx="617.9" cy="1176.8" r="2.1"/><polygon points="617.9,1202.5 612.1,1198.7 612.1,1191.3 617.9,1187.5 623.6,1191.3 623.6,1198.7" fill="#555" stroke="#000" stroke-width="4.5" stroke-linejoin="round"/><path d="M623.1 1195L612.6 1195M621.5 1198.7L614.2 1191.3M617.9 1200.2L617.9 1189.8M614.2 1198.7L621.5 1191.3" stroke="#000" stroke-width="2.2"/><circle cx="617.9" cy="1195" r="2.1"/><polygon points="687.9,1034.7 683.8,1037.4 682.9,1042.2 678.1,1041.2 674,1044 671.3,1039.9 666.5,1039 667.5,1034.2 664.7,1030.1 668.8,1027.4 669.7,1022.6 674.5,1023.6 678.6,1020.8 681.3,1024.9 686.1,1025.8 685.1,1030.6" fill="#000" stroke="#000" stroke-width="1.8" stroke-linejoin="round"/><circle cx="676.3" cy="1032.4" r="7.2" fill="#555" stroke="#000" stroke-width="3"/><path d="M682.5 1032.4L670.1 1032.4M680.7 1036.8L671.9 1028M676.3 1038.6L676.3 1026.2M671.9 1036.8L680.7 1028" stroke="#000" stroke-width="2"/><circle cx="676.3" cy="1032.4" r="2" fill="#000"/><polygon points="571,1034.7 566.9,1037.4 566,1042.2 561.2,1041.2 557.1,1044 554.4,1039.9 549.6,1039 550.6,1034.2 547.8,1030.1 551.9,1027.4 552.8,1022.6 557.6,1023.6 561.7,1020.8 564.4,1024.9 569.2,1025.8 568.2,1030.6" fill="#000" stroke="#000" stroke-width="1.8" stroke-linejoin="round"/><circle cx="559.4" cy="1032.4" r="7.2" fill="#555" stroke="#000" stroke-width="3"/><path d="M565.6 1032.4L553.2 1032.4M563.8 1036.8L555 1028M559.4 1038.6L559.4 1026.2M555 1036.8L563.8 1028" stroke="#000" stroke-width="2"/><circle cx="559.4" cy="1032.4" r="2" fill="#000"/><polygon points="731.6,1019.3 727.5,1022 726.6,1026.8 721.8,1025.8 717.7,1028.6 715,1024.5 710.2,1023.6 711.2,1018.8 708.4,1014.7 712.5,1012 713.4,1007.2 718.2,1008.2 722.3,1005.4 725,1009.5 729.8,1010.4 728.8,1015.2" fill="#000" stroke="#000" stroke-width="1.8" stroke-linejoin="round"/><circle cx="720" cy="1017" r="7.2" fill="#555" stroke="#000" stroke-width="3"/><path d="M726.2 1017L713.8 1017M724.4 1021.4L715.6 1012.6M720 1023.2L720 1010.8M715.6 1021.4L724.4 1012.6" stroke="#000" stroke-width="2"/><circle cx="720" cy="1017" r="2" fill="#000"/><polygon points="527.3,1019.3 523.2,1022 522.3,1026.8 517.5,1025.8 513.4,1028.6 510.7,1024.5 505.9,1023.6 506.9,1018.8 504.1,1014.7 508.2,1012 509.1,1007.2 513.9,1008.2 518,1005.4 520.7,1009.5 525.5,1010.4 524.5,1015.2" fill="#000" stroke="#000" stroke-width="1.8" stroke-linejoin="round"/><circle cx="515.7" cy="1017" r="7.2" fill="#555" stroke="#000" stroke-width="3"/><path d="M521.9 1017L509.5 1017M520.1 1021.4L511.3 1012.6M515.7 1023.2L515.7 1010.8M511.3 1021.4L520.1 1012.6" stroke="#000" stroke-width="2"/><circle cx="515.7" cy="1017" r="2" fill="#000"/><polygon points="797.9,1034.7 793.8,1037.4 792.9,1042.2 788.1,1041.2 784,1044 781.3,1039.9 776.5,1039 777.5,1034.2 774.7,1030.1 778.8,1027.4 779.7,1022.6 784.5,1023.6 788.6,1020.8 791.3,1024.9 796.1,1025.8 795.1,1030.6" fill="#000" stroke="#000" stroke-width="1.8" stroke-linejoin="round"/><circle cx="786.3" cy="1032.4" r="7.2" fill="#555" stroke="#000" stroke-width="3"/><path d="M792.5 1032.4L780.1 1032.4M790.7 1036.8L781.9 1028M786.3 1038.6L786.3 1026.2M781.9 1036.8L790.7 1028" stroke="#000" stroke-width="2"/><circle cx="786.3" cy="1032.4" r="2" fill="#000"/><polygon points="461,1034.7 456.9,1037.4 456,1042.2 451.2,1041.2 447.1,1044 444.4,1039.9 439.6,1039 440.6,1034.2 437.8,1030.1 441.9,1027.4 442.8,1022.6 447.6,1023.6 451.7,1020.8 454.4,1024.9 459.2,1025.8 458.2,1030.6" fill="#000" stroke="#000" stroke-width="1.8" stroke-linejoin="round"/><circle cx="449.4" cy="1032.4" r="7.2" fill="#555" stroke="#000" stroke-width="3"/><path d="M455.6 1032.4L443.2 1032.4M453.8 1036.8L445 1028M449.4 1038.6L449.4 1026.2M445 1036.8L453.8 1028" stroke="#000" stroke-width="2"/><circle cx="449.4" cy="1032.4" r="2" fill="#000"/><polygon points="852.9,1040.2 848.8,1042.9 847.9,1047.7 843.1,1046.7 839,1049.5 836.3,1045.4 831.5,1044.5 832.5,1039.7 829.7,1035.6 833.8,1032.9 834.7,1028.1 839.5,1029.1 843.6,1026.3 846.3,1030.4 851.1,1031.3 850.1,1036.1" fill="#000" stroke="#000" stroke-width="1.8" stroke-linejoin="round"/><circle cx="841.3" cy="1037.9" r="7.2" fill="#555" stroke="#000" stroke-width="3"/><path d="M847.5 1037.9L835.1 1037.9M845.7 1042.3L836.9 1033.5M841.3 1044.1L841.3 1031.7M836.9 1042.3L845.7 1033.5" stroke="#000" stroke-width="2"/><circle cx="841.3" cy="1037.9" r="2" fill="#000"/><polygon points="406,1040.2 401.9,1042.9 401,1047.7 396.2,1046.7 392.1,1049.5 389.4,1045.4 384.6,1044.5 385.6,1039.7 382.8,1035.6 386.9,1032.9 387.8,1028.1 392.6,1029.1 396.7,1026.3 399.4,1030.4 404.2,1031.3 403.2,1036.1" fill="#000" stroke="#000" stroke-width="1.8" stroke-linejoin="round"/><circle cx="394.4" cy="1037.9" r="7.2" fill="#555" stroke="#000" stroke-width="3"/><path d="M400.6 1037.9L388.2 1037.9M398.8 1042.3L390 1033.5M394.4 1044.1L394.4 1031.7M390 1042.3L398.8 1033.5" stroke="#000" stroke-width="2"/><circle cx="394.4" cy="1037.9" r="2" fill="#000"/><polygon points="562.5,889.4 557.2,886 557.2,879 562.5,875.6 567.8,879 567.8,886" fill="#555" stroke="#000" stroke-width="4.5" stroke-linejoin="round"/><path d="M567.3 882.5L557.7 882.5M565.9 885.9L559.1 879.1M562.5 887.3L562.5 877.7M559.1 885.9L565.9 879.1" stroke="#000" stroke-width="2.2"/><circle cx="562.5" cy="882.5" r="1.9"/><polygon points="499.6,998.3 495.5,1001 494.6,1005.8 489.8,1004.8 485.7,1007.6 483,1003.5 478.2,1002.6 479.2,997.8 476.4,993.7 480.5,991 481.4,986.2 486.2,987.2 490.3,984.4 493,988.5 497.8,989.4 496.8,994.2" fill="#000" stroke="#000" stroke-width="1.8" stroke-linejoin="round"/><circle cx="488" cy="996" r="7.2" fill="#555" stroke="#000" stroke-width="3"/><path d="M494.2 996L481.8 996M492.4 1000.4L483.6 991.6M488 1002.2L488 989.8M483.6 1000.4L492.4 991.6" stroke="#000" stroke-width="2"/><circle cx="488" cy="996" r="2" fill="#000"/><polygon points="461.7,940.3 456.6,936.9 456.6,930.3 461.7,926.9 466.8,930.3 466.8,936.9" fill="#555" stroke="#000" stroke-width="4.5" stroke-linejoin="round"/><path d="M466.3 933.6L457.1 933.6M465 936.9L458.4 930.3M461.7 938.2L461.7 929M458.4 936.9L465 930.3" stroke="#000" stroke-width="2.2"/><circle cx="461.7" cy="933.6" r="1.9"/><polygon points="474.8,955.3 469.7,951.9 469.7,945.3 474.8,941.9 479.9,945.3 479.9,951.9" fill="#555" stroke="#000" stroke-width="4.5" stroke-linejoin="round"/><path d="M479.4 948.6L470.2 948.6M478.1 951.9L471.5 945.3M474.8 953.2L474.8 944M471.5 951.9L478.1 945.3" stroke="#000" stroke-width="2.2"/><circle cx="474.8" cy="948.6" r="1.9"/><polygon points="486.2,967.5 481.1,964.1 481.1,957.5 486.2,954.1 491.3,957.5 491.3,964.1" fill="#555" stroke="#000" stroke-width="4.5" stroke-linejoin="round"/><path d="M490.8 960.8L481.6 960.8M489.5 964.1L482.9 957.5M486.2 965.4L486.2 956.2M482.9 964.1L489.5 957.5" stroke="#000" stroke-width="2.2"/><circle cx="486.2" cy="960.8" r="1.9"/><polygon points="498.1,954.3 493,950.9 493,944.3 498.1,940.9 503.2,944.3 503.2,950.9" fill="#555" stroke="#000" stroke-width="4.5" stroke-linejoin="round"/><path d="M502.7 947.6L493.5 947.6M501.4 950.9L494.8 944.3M498.1 952.2L498.1 943M494.8 950.9L501.4 944.3" stroke="#000" stroke-width="2.2"/><circle cx="498.1" cy="947.6" r="1.9"/><polygon points="510.7,941 505.6,937.6 505.6,931 510.7,927.6 515.8,931 515.8,937.6" fill="#555" stroke="#000" stroke-width="4.5" stroke-linejoin="round"/><path d="M515.3 934.3L506.1 934.3M514 937.6L507.4 931M510.7 938.9L510.7 929.7M507.4 937.6L514 931" stroke="#000" stroke-width="2.2"/><circle cx="510.7" cy="934.3" r="1.9"/><polygon points="333.8,1014.7 328.7,1011.3 328.7,1004.7 333.8,1001.3 338.9,1004.7 338.9,1011.3" fill="#555" stroke="#000" stroke-width="4.5" stroke-linejoin="round"/><path d="M338.4 1008L329.2 1008M337.1 1011.3L330.5 1004.7M333.8 1012.6L333.8 1003.4M330.5 1011.3L337.1 1004.7" stroke="#000" stroke-width="2.2"/><circle cx="333.8" cy="1008" r="1.9"/><polygon points="321.8,1027.2 316.7,1023.8 316.7,1017.2 321.8,1013.8 326.9,1017.2 326.9,1023.8" fill="#555" stroke="#000" stroke-width="4.5" stroke-linejoin="round"/><path d="M326.4 1020.5L317.2 1020.5M325.1 1023.8L318.5 1017.2M321.8 1025.1L321.8 1015.9M318.5 1023.8L325.1 1017.2" stroke="#000" stroke-width="2.2"/><circle cx="321.8" cy="1020.5" r="1.9"/><polygon points="309.8,1040.5 304.7,1037.1 304.7,1030.5 309.8,1027.1 314.9,1030.5 314.9,1037.1" fill="#555" stroke="#000" stroke-width="4.5" stroke-linejoin="round"/><path d="M314.4 1033.8L305.2 1033.8M313.1 1037.1L306.5 1030.5M309.8 1038.4L309.8 1029.2M306.5 1037.1L313.1 1030.5" stroke="#000" stroke-width="2.2"/><circle cx="309.8" cy="1033.8" r="1.9"/><polygon points="297.8,1053.8 292.7,1050.4 292.7,1043.8 297.8,1040.4 302.9,1043.8 302.9,1050.4" fill="#555" stroke="#000" stroke-width="4.5" stroke-linejoin="round"/><path d="M302.4 1047.1L293.2 1047.1M301.1 1050.4L294.5 1043.8M297.8 1051.7L297.8 1042.5M294.5 1050.4L301.1 1043.8" stroke="#000" stroke-width="2.2"/><circle cx="297.8" cy="1047.1" r="1.9"/><polygon points="285.1,1067.1 280,1063.7 280,1057.1 285.1,1053.7 290.2,1057.1 290.2,1063.7" fill="#555" stroke="#000" stroke-width="4.5" stroke-linejoin="round"/><path d="M289.7 1060.4L280.5 1060.4M288.4 1063.7L281.8 1057.1M285.1 1065L285.1 1055.8M281.8 1063.7L288.4 1057.1" stroke="#000" stroke-width="2.2"/><circle cx="285.1" cy="1060.4" r="1.9"/><polygon points="272.4,1081.1 267.3,1077.7 267.3,1071.1 272.4,1067.7 277.5,1071.1 277.5,1077.7" fill="#555" stroke="#000" stroke-width="4.5" stroke-linejoin="round"/><path d="M277 1074.4L267.8 1074.4M275.7 1077.7L269.1 1071.1M272.4 1079L272.4 1069.8M269.1 1077.7L275.7 1071.1" stroke="#000" stroke-width="2.2"/><circle cx="272.4" cy="1074.4" r="1.9"/><polygon points="261,1095 255.9,1091.6 255.9,1085 261,1081.6 266.1,1085 266.1,1091.6" fill="#555" stroke="#000" stroke-width="4.5" stroke-linejoin="round"/><path d="M265.6 1088.3L256.4 1088.3M264.3 1091.6L257.7 1085M261 1092.9L261 1083.7M257.7 1091.6L264.3 1085" stroke="#000" stroke-width="2.2"/><circle cx="261" cy="1088.3" r="1.9"/><polygon points="249,1081.7 243.9,1078.3 243.9,1071.7 249,1068.3 254.1,1071.7 254.1,1078.3" fill="#555" stroke="#000" stroke-width="4.5" stroke-linejoin="round"/><path d="M253.6 1075L244.4 1075M252.3 1078.3L245.7 1071.7M249 1079.6L249 1070.4M245.7 1078.3L252.3 1071.7" stroke="#000" stroke-width="2.2"/><circle cx="249" cy="1075" r="1.9"/></g><path d="M1750.7 724H1826.7" stroke="#000" stroke-width="3.2"/><path d="M1760 735.5H1818" stroke="#000" stroke-width="3"/><path d="M1751.5 725C1752 731 1755 735 1760 736M1826 725C1825.5 731 1822 735 1818 736" fill="none" stroke="#000" stroke-width="2"/><path d="M1763 737C1770 743 1773 752 1774 762C1775 768 1778 771 1781 771.5H1797C1800 771 1803 768 1804 762C1805 752 1809 743 1816 737" fill="none" stroke="#000" stroke-width="2.2"/><path d="M1778 772H1800.6" stroke="#000" stroke-width="3"/><path d="M1783 777V733C1783 723 1795 723 1795 733V777Z" fill="#fff" stroke="#000" stroke-width="2.6"/><path d="M1783 737H1795V748H1783ZM1783 772H1795V778H1783Z" fill="#000" stroke="#000" stroke-width="1"/><path d="M1786 760V735M1792 760V735" stroke="#000" stroke-width="1"/><path d="M1784.5 778H1793.5V794H1784.5Z" fill="#fff" stroke="#000" stroke-width="2.2"/><path d="M1782.5 794H1795.5V813H1782.5Z" fill="#000"/><path d="M1789.3 813V916" stroke="#000" stroke-width="4"/><rect x="1784" y="817" width="10.5" height="15" rx="2" fill="#000"/><rect x="1784" y="839" width="10.5" height="15" rx="2" fill="#000"/><rect x="1784" y="861" width="10.5" height="15" rx="2" fill="#000"/><rect x="1784" y="883" width="10.5" height="15" rx="2" fill="#000"/><rect x="1784" y="902" width="10.5" height="15" rx="2" fill="#000"/><path d="M0 1367.2H230V1492.6H0M0 1468.4H26.4V1492.6" fill="none" stroke="#000" stroke-width="1.6"/><text x="6" y="1487" font-size="18" font-family="Liberation Serif" font-weight="bold">A</text><path d="M0 1408.6L49.4 1398.3M0 1435.1L49.4 1422.4" stroke="#000" stroke-width="2.2"/><path d="M47.5 1378V1434L70 1446L104 1430V1394L95.4 1392V1378Z" fill="#fff" stroke="#000" stroke-width="2"/><path d="M66.5 1378V1430M66.5 1398H104M77 1398V1419M70 1446V1428" fill="none" stroke="#000" stroke-width="2"/><path d="M66.5 1397L104 1393" stroke="#000" stroke-width="4"/><path d="M69 1380H76V1390H69ZM79 1380H86V1390H79Z" fill="none" stroke="#000" stroke-width="1.5"/><path d="M70 1440L104 1428M74 1438V1445M84 1434V1441M94 1431V1437" stroke="#000" stroke-width="2"/><circle cx="92" cy="1418" r="6"/><circle cx="104" cy="1415" r="5.5"/><circle cx="84" cy="1424" r="4.5"/><text x="113.5" y="1397.5" font-size="15" font-family="Liberation Sans" font-weight="bold" textLength="22" lengthAdjust="spacingAndGlyphs" stroke="#000" stroke-width="1.5">OFF</text><path d="M138 1396C142 1391 149 1395 148 1400L146 1412" fill="none" stroke="#000" stroke-width="2.4"/><path d="M142 1409L146 1416L150 1409Z"/><path d="M105.8 1423.6C125 1428 140 1431 149.5 1435.1C165 1442 178 1452 189.7 1462.7L212.7 1475.3M103.5 1430.5C115 1436 125 1440 132.2 1442C140 1446 147 1450 150 1452C148 1455 135 1454 125 1451C117 1448 113 1452 115 1456C117 1459 121 1459 125 1459C133 1463 138 1469 143.7 1471.9C155 1478 168 1478 178.2 1480L200.1 1492.6M189.7 1462.7L179.4 1481.1" fill="none" stroke="#000" stroke-width="1.8"/></svg>
</body></html>
